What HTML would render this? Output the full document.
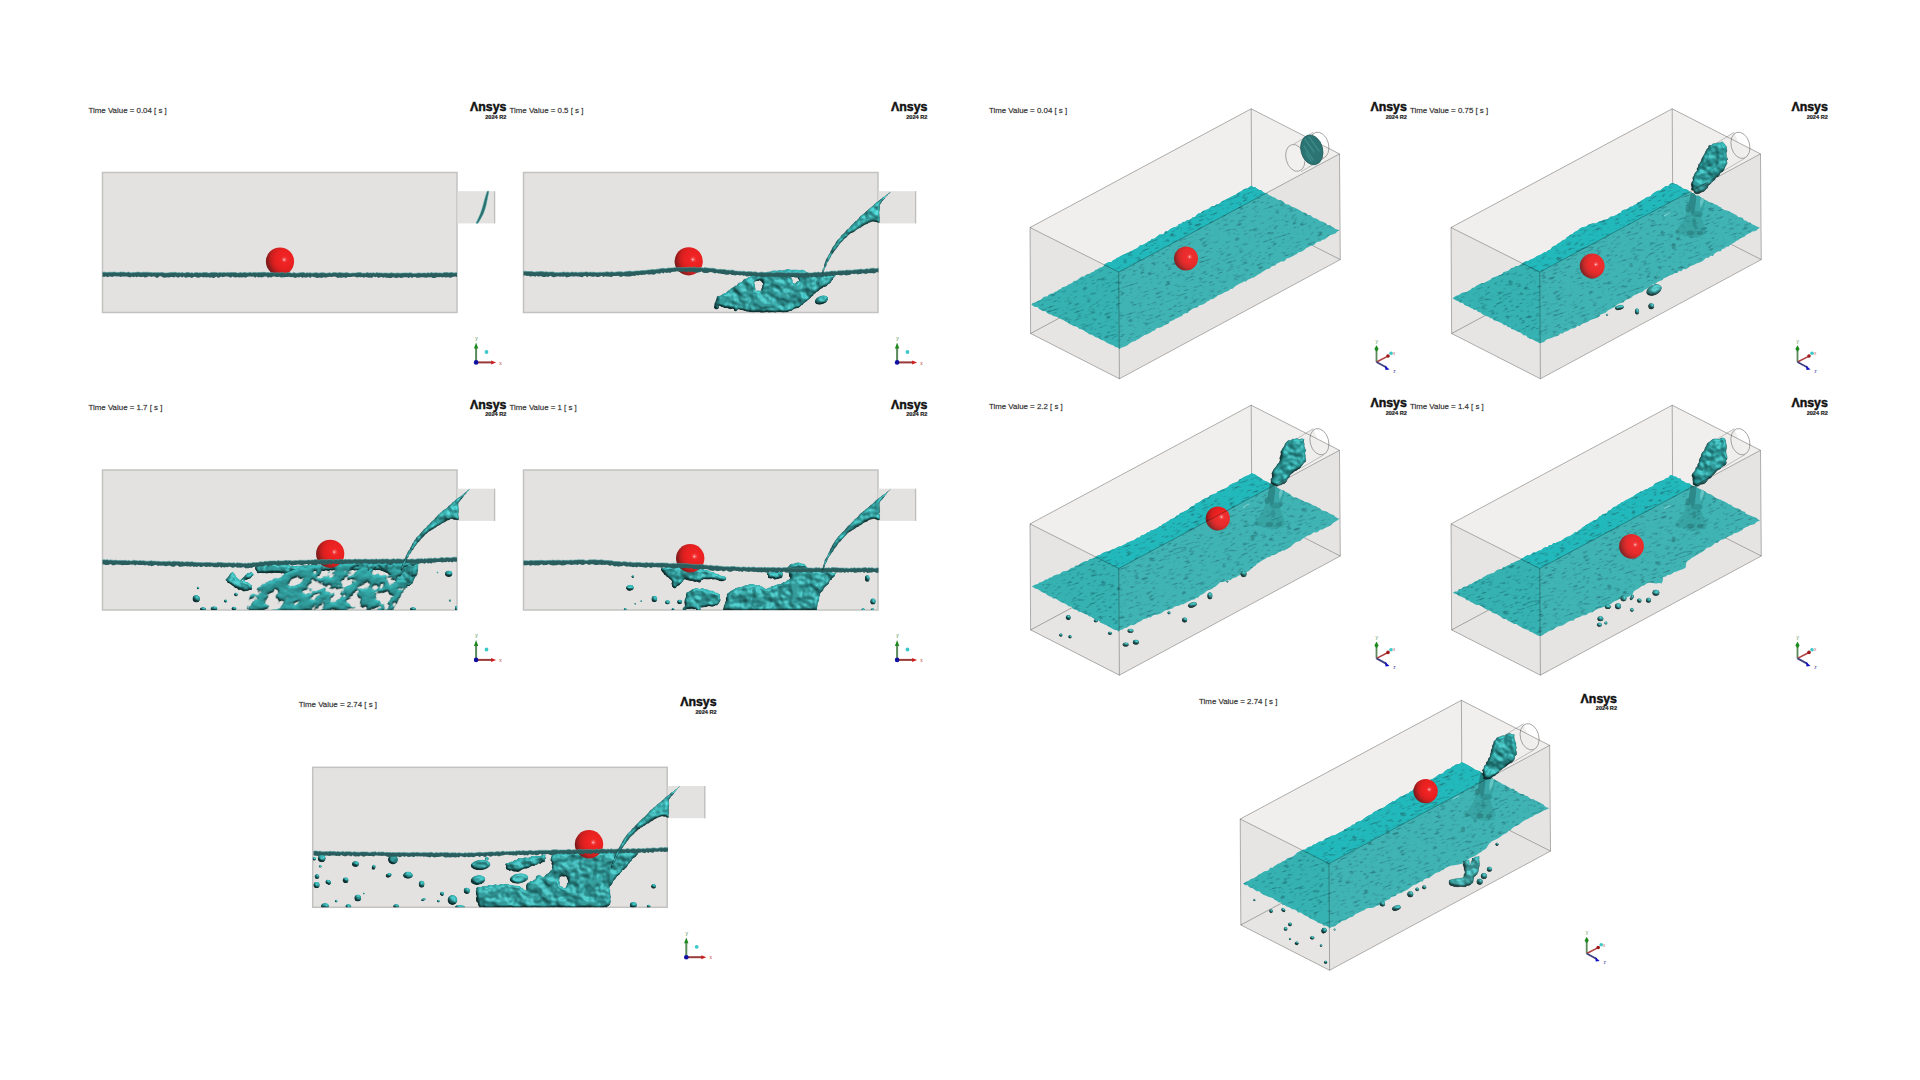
<!DOCTYPE html><html><head><meta charset="utf-8"><title>Ansys VOF</title><style>html,body{margin:0;padding:0;background:#fff;width:1920px;height:1080px;overflow:hidden}svg{display:block}</style></head><body>
<svg width="1920" height="1080" viewBox="0 0 1920 1080">

<defs>
 <radialGradient id="ball" cx="0.78" cy="0.36" r="0.86" fx="0.64" fy="0.44">
  <stop offset="0" stop-color="#ffe4e4"/>
  <stop offset="0.05" stop-color="#f55a5a"/>
  <stop offset="0.13" stop-color="#f02424"/>
  <stop offset="0.42" stop-color="#e82020"/>
  <stop offset="0.62" stop-color="#cc1f1f"/>
  <stop offset="0.82" stop-color="#8e1c1c"/>
  <stop offset="1" stop-color="#5e1818"/>
 </radialGradient>
 <linearGradient id="wline" x1="0" y1="0" x2="0" y2="1">
  <stop offset="0" stop-color="#3f8f8f"/>
  <stop offset="0.35" stop-color="#2b6262"/>
  <stop offset="1" stop-color="#224c4c"/>
 </linearGradient>
 <filter id="wtex" x="0" y="0" width="100%" height="100%" color-interpolation-filters="sRGB">
  <feTurbulence type="fractalNoise" baseFrequency="0.15 0.55" numOctaves="2" seed="7" stitchTiles="stitch" result="n"/>
  <feColorMatrix in="n" type="matrix" values="0 0 0 0 0.12  0 0 0 0 0.48  0 0 0 0 0.5  0 0 0 -4.5 1.9" result="sp0"/>
  <feGaussianBlur in="sp0" stdDeviation="0.4"/>
 </filter>
 <pattern id="wpat" patternUnits="userSpaceOnUse" width="160" height="160" patternTransform="rotate(-18)">
  <rect width="160" height="160" fill="#000" filter="url(#wtex)"/>
 </pattern>
 <filter id="blob" x="-5%" y="-5%" width="110%" height="110%" color-interpolation-filters="sRGB">
  <feTurbulence type="fractalNoise" baseFrequency="0.11" numOctaves="2" seed="2" result="n"/>
  <feGaussianBlur in="SourceAlpha" stdDeviation="1.2" result="b"/>
  <feComposite in="n" in2="b" operator="arithmetic" k1="0" k2="0.6" k3="0.6" k4="0" result="h"/>
  <feDiffuseLighting in="h" surfaceScale="4" diffuseConstant="1" lighting-color="#ffffff" result="l"><feDistantLight azimuth="300" elevation="42"/></feDiffuseLighting>
  <feSpecularLighting in="h" surfaceScale="4" specularConstant="0.25" specularExponent="28" lighting-color="#e8ffff" result="sp"><feDistantLight azimuth="300" elevation="55"/></feSpecularLighting>
  <feComposite in="SourceGraphic" in2="l" operator="arithmetic" k1="0.85" k2="0.3" k3="0" k4="0" result="lit"/>
  <feComposite in="lit" in2="sp" operator="arithmetic" k1="0" k2="1" k3="0.55" k4="0" result="lit2"/>
  <feComposite in="lit2" in2="SourceAlpha" operator="in"/>
 </filter>
 <filter id="foam" x="-5%" y="-10%" width="110%" height="120%" color-interpolation-filters="sRGB">
  <feTurbulence type="fractalNoise" baseFrequency="0.065 0.1" numOctaves="3" seed="5" result="n"/>
  <feColorMatrix in="n" type="matrix" values="0 0 0 0 0  0 0 0 0 0  0 0 0 0 0  0 0 0 16 -6.4" result="m"/>
  <feComposite in="SourceGraphic" in2="m" operator="in" result="cut"/>
  <feGaussianBlur in="cut" stdDeviation="1.0" result="b"/>
  <feComposite in="n" in2="b" operator="arithmetic" k1="0" k2="0.45" k3="0.65" k4="0" result="h"/>
  <feDiffuseLighting in="h" surfaceScale="3.4" diffuseConstant="1" lighting-color="#ffffff" result="l"><feDistantLight azimuth="300" elevation="45"/></feDiffuseLighting>
  <feComposite in="cut" in2="l" operator="arithmetic" k1="0.8" k2="0.34" k3="0" k4="0" result="lit"/>
  <feComposite in="lit" in2="cut" operator="in"/>
 </filter>
 <filter id="tblur" x="-5%" y="-20%" width="110%" height="140%"><feGaussianBlur stdDeviation="0.8"/></filter>
</defs>

<rect width="1920" height="1080" fill="#fff"/>
<g transform="translate(0,0)"><rect x="102.5" y="172.5" width="354.5" height="140" fill="#e3e2e0" stroke="#c2c2c0" stroke-width="1.5"/><rect x="457.5" y="191.2" width="37.4" height="32.2" fill="#e3e2e0"/><line x1="494.6" y1="191.2" x2="494.6" y2="223.4" stroke="#bdbdbb" stroke-width="1.3"/></g>
<g transform="translate(0,0)"><g><text x="88.5" y="112.7" style="font-family:'Liberation Sans',sans-serif;font-size:7.9px" fill="#303030" stroke="#303030" stroke-width="0.28" stroke-opacity="0.6">Time Value = 0.04 [ s ]</text><text x="470.0" y="111.10000000000001" style="font-family:'Liberation Sans',sans-serif;font-size:12.3px;font-weight:bold" fill="#111" stroke="#111" stroke-width="0.45" textLength="36.4" lengthAdjust="spacingAndGlyphs">&#923;nsys</text><text x="506.4" y="118.9" text-anchor="end" style="font-family:'Liberation Sans',sans-serif;font-size:5.6px;font-weight:bold" fill="#222" stroke="#222" stroke-width="0.2">2024 R2</text></g><line x1="476.1" y1="362.4" x2="476.1" y2="347.4" stroke="#5a8a5a" stroke-width="2"/><path d="M473.90000000000003,348.4 L476.1,342.59999999999997 L478.3,348.4 Z" fill="#1e8a1e"/><line x1="476.1" y1="362.4" x2="492.1" y2="362.4" stroke="#9a3a3a" stroke-width="2"/><path d="M491.1,360.4 L496.1,362.4 L491.1,364.4 Z" fill="#cc2020"/><circle cx="476.1" cy="362.4" r="2.3" fill="#1010a0"/><circle cx="486.5" cy="352.0" r="1.9" fill="#3cc8c8"/><text x="500.5" y="364.59999999999997" text-anchor="middle" style="font-family:'Liberation Sans',sans-serif;font-size:5px" fill="#c04040">x</text><text x="476.5" y="339.79999999999995" text-anchor="middle" style="font-family:'Liberation Sans',sans-serif;font-size:5px" fill="#4a8a4a">y</text></g>
<g transform="translate(421,0)"><rect x="102.5" y="172.5" width="354.5" height="140" fill="#e3e2e0" stroke="#c2c2c0" stroke-width="1.5"/><rect x="457.5" y="191.2" width="37.4" height="32.2" fill="#e3e2e0"/><line x1="494.6" y1="191.2" x2="494.6" y2="223.4" stroke="#bdbdbb" stroke-width="1.3"/></g>
<g transform="translate(421,0)"><g><text x="88.5" y="112.7" style="font-family:'Liberation Sans',sans-serif;font-size:7.9px" fill="#303030" stroke="#303030" stroke-width="0.28" stroke-opacity="0.6">Time Value = 0.5 [ s ]</text><text x="470.0" y="111.10000000000001" style="font-family:'Liberation Sans',sans-serif;font-size:12.3px;font-weight:bold" fill="#111" stroke="#111" stroke-width="0.45" textLength="36.4" lengthAdjust="spacingAndGlyphs">&#923;nsys</text><text x="506.4" y="118.9" text-anchor="end" style="font-family:'Liberation Sans',sans-serif;font-size:5.6px;font-weight:bold" fill="#222" stroke="#222" stroke-width="0.2">2024 R2</text></g><line x1="476.1" y1="362.4" x2="476.1" y2="347.4" stroke="#5a8a5a" stroke-width="2"/><path d="M473.90000000000003,348.4 L476.1,342.59999999999997 L478.3,348.4 Z" fill="#1e8a1e"/><line x1="476.1" y1="362.4" x2="492.1" y2="362.4" stroke="#9a3a3a" stroke-width="2"/><path d="M491.1,360.4 L496.1,362.4 L491.1,364.4 Z" fill="#cc2020"/><circle cx="476.1" cy="362.4" r="2.3" fill="#1010a0"/><circle cx="486.5" cy="352.0" r="1.9" fill="#3cc8c8"/><text x="500.5" y="364.59999999999997" text-anchor="middle" style="font-family:'Liberation Sans',sans-serif;font-size:5px" fill="#c04040">x</text><text x="476.5" y="339.79999999999995" text-anchor="middle" style="font-family:'Liberation Sans',sans-serif;font-size:5px" fill="#4a8a4a">y</text></g>
<g transform="translate(0,297.5)"><rect x="102.5" y="172.5" width="354.5" height="140" fill="#e3e2e0" stroke="#c2c2c0" stroke-width="1.5"/><rect x="457.5" y="191.2" width="37.4" height="32.2" fill="#e3e2e0"/><line x1="494.6" y1="191.2" x2="494.6" y2="223.4" stroke="#bdbdbb" stroke-width="1.3"/></g>
<g transform="translate(0,297.5)"><g><text x="88.5" y="112.7" style="font-family:'Liberation Sans',sans-serif;font-size:7.9px" fill="#303030" stroke="#303030" stroke-width="0.28" stroke-opacity="0.6">Time Value = 1.7 [ s ]</text><text x="470.0" y="111.10000000000001" style="font-family:'Liberation Sans',sans-serif;font-size:12.3px;font-weight:bold" fill="#111" stroke="#111" stroke-width="0.45" textLength="36.4" lengthAdjust="spacingAndGlyphs">&#923;nsys</text><text x="506.4" y="118.9" text-anchor="end" style="font-family:'Liberation Sans',sans-serif;font-size:5.6px;font-weight:bold" fill="#222" stroke="#222" stroke-width="0.2">2024 R2</text></g><line x1="476.1" y1="362.4" x2="476.1" y2="347.4" stroke="#5a8a5a" stroke-width="2"/><path d="M473.90000000000003,348.4 L476.1,342.59999999999997 L478.3,348.4 Z" fill="#1e8a1e"/><line x1="476.1" y1="362.4" x2="492.1" y2="362.4" stroke="#9a3a3a" stroke-width="2"/><path d="M491.1,360.4 L496.1,362.4 L491.1,364.4 Z" fill="#cc2020"/><circle cx="476.1" cy="362.4" r="2.3" fill="#1010a0"/><circle cx="486.5" cy="352.0" r="1.9" fill="#3cc8c8"/><text x="500.5" y="364.59999999999997" text-anchor="middle" style="font-family:'Liberation Sans',sans-serif;font-size:5px" fill="#c04040">x</text><text x="476.5" y="339.79999999999995" text-anchor="middle" style="font-family:'Liberation Sans',sans-serif;font-size:5px" fill="#4a8a4a">y</text></g>
<g transform="translate(421,297.5)"><rect x="102.5" y="172.5" width="354.5" height="140" fill="#e3e2e0" stroke="#c2c2c0" stroke-width="1.5"/><rect x="457.5" y="191.2" width="37.4" height="32.2" fill="#e3e2e0"/><line x1="494.6" y1="191.2" x2="494.6" y2="223.4" stroke="#bdbdbb" stroke-width="1.3"/></g>
<g transform="translate(421,297.5)"><g><text x="88.5" y="112.7" style="font-family:'Liberation Sans',sans-serif;font-size:7.9px" fill="#303030" stroke="#303030" stroke-width="0.28" stroke-opacity="0.6">Time Value = 1 [ s ]</text><text x="470.0" y="111.10000000000001" style="font-family:'Liberation Sans',sans-serif;font-size:12.3px;font-weight:bold" fill="#111" stroke="#111" stroke-width="0.45" textLength="36.4" lengthAdjust="spacingAndGlyphs">&#923;nsys</text><text x="506.4" y="118.9" text-anchor="end" style="font-family:'Liberation Sans',sans-serif;font-size:5.6px;font-weight:bold" fill="#222" stroke="#222" stroke-width="0.2">2024 R2</text></g><line x1="476.1" y1="362.4" x2="476.1" y2="347.4" stroke="#5a8a5a" stroke-width="2"/><path d="M473.90000000000003,348.4 L476.1,342.59999999999997 L478.3,348.4 Z" fill="#1e8a1e"/><line x1="476.1" y1="362.4" x2="492.1" y2="362.4" stroke="#9a3a3a" stroke-width="2"/><path d="M491.1,360.4 L496.1,362.4 L491.1,364.4 Z" fill="#cc2020"/><circle cx="476.1" cy="362.4" r="2.3" fill="#1010a0"/><circle cx="486.5" cy="352.0" r="1.9" fill="#3cc8c8"/><text x="500.5" y="364.59999999999997" text-anchor="middle" style="font-family:'Liberation Sans',sans-serif;font-size:5px" fill="#c04040">x</text><text x="476.5" y="339.79999999999995" text-anchor="middle" style="font-family:'Liberation Sans',sans-serif;font-size:5px" fill="#4a8a4a">y</text></g>
<g transform="translate(210.2,594.8)"><rect x="102.5" y="172.5" width="354.5" height="140" fill="#e3e2e0" stroke="#c2c2c0" stroke-width="1.5"/><rect x="457.5" y="191.2" width="37.4" height="32.2" fill="#e3e2e0"/><line x1="494.6" y1="191.2" x2="494.6" y2="223.4" stroke="#bdbdbb" stroke-width="1.3"/></g>
<g transform="translate(210.2,594.8)"><g><text x="88.5" y="112.7" style="font-family:'Liberation Sans',sans-serif;font-size:7.9px" fill="#303030" stroke="#303030" stroke-width="0.28" stroke-opacity="0.6">Time Value = 2.74 [ s ]</text><text x="470.0" y="111.10000000000001" style="font-family:'Liberation Sans',sans-serif;font-size:12.3px;font-weight:bold" fill="#111" stroke="#111" stroke-width="0.45" textLength="36.4" lengthAdjust="spacingAndGlyphs">&#923;nsys</text><text x="506.4" y="118.9" text-anchor="end" style="font-family:'Liberation Sans',sans-serif;font-size:5.6px;font-weight:bold" fill="#222" stroke="#222" stroke-width="0.2">2024 R2</text></g><line x1="476.1" y1="362.4" x2="476.1" y2="347.4" stroke="#5a8a5a" stroke-width="2"/><path d="M473.90000000000003,348.4 L476.1,342.59999999999997 L478.3,348.4 Z" fill="#1e8a1e"/><line x1="476.1" y1="362.4" x2="492.1" y2="362.4" stroke="#9a3a3a" stroke-width="2"/><path d="M491.1,360.4 L496.1,362.4 L491.1,364.4 Z" fill="#cc2020"/><circle cx="476.1" cy="362.4" r="2.3" fill="#1010a0"/><circle cx="486.5" cy="352.0" r="1.9" fill="#3cc8c8"/><text x="500.5" y="364.59999999999997" text-anchor="middle" style="font-family:'Liberation Sans',sans-serif;font-size:5px" fill="#c04040">x</text><text x="476.5" y="339.79999999999995" text-anchor="middle" style="font-family:'Liberation Sans',sans-serif;font-size:5px" fill="#4a8a4a">y</text></g>
<circle cx="280" cy="261.5" r="14.1" fill="url(#ball)"/>
<path d="M102.5,272.2 L104.1,272.2 L105.8,272.3 L107.4,272.6 L109.0,272.2 L110.7,272.3 L112.3,272.3 L113.9,272.0 L115.5,272.3 L117.2,272.4 L118.8,272.6 L120.4,272.0 L122.1,272.2 L123.7,272.0 L125.3,272.6 L127.0,272.6 L128.6,272.0 L130.2,272.8 L131.8,272.8 L133.5,272.6 L135.1,272.6 L136.7,272.2 L138.4,272.1 L140.0,272.5 L141.6,272.5 L143.2,272.2 L144.9,272.3 L146.5,272.3 L148.1,272.2 L149.7,272.5 L151.4,272.5 L153.0,272.8 L154.6,272.6 L156.2,272.7 L157.8,272.6 L159.5,272.7 L161.1,272.6 L162.7,272.4 L164.3,273.0 L165.9,273.0 L167.6,272.9 L169.2,272.8 L170.8,272.5 L172.4,272.4 L174.1,272.5 L175.7,272.3 L177.3,272.9 L178.9,272.6 L180.5,273.0 L182.2,272.6 L183.8,273.1 L185.4,273.0 L187.0,272.3 L188.6,272.5 L190.3,273.1 L191.9,272.7 L193.5,273.2 L195.1,272.7 L196.8,272.4 L198.4,272.9 L200.0,272.8 L201.6,273.0 L203.2,272.6 L204.9,272.5 L206.5,272.6 L208.1,273.1 L209.7,273.0 L211.4,272.5 L213.0,272.6 L214.6,272.4 L216.2,272.4 L217.8,273.0 L219.5,272.5 L221.1,272.8 L222.7,272.7 L224.3,272.5 L225.9,272.9 L227.6,272.4 L229.2,272.8 L230.8,272.4 L232.4,272.6 L234.1,272.5 L235.7,272.5 L237.3,273.1 L238.9,272.9 L240.5,272.5 L242.2,273.0 L243.8,272.4 L245.4,272.6 L247.0,272.9 L248.6,272.8 L250.3,272.3 L251.9,273.0 L253.5,272.4 L255.1,272.4 L256.8,272.8 L258.4,272.5 L260.0,272.6 L261.6,272.4 L263.2,272.3 L264.9,272.3 L266.5,272.7 L268.1,272.4 L269.7,272.7 L271.4,272.6 L273.0,272.6 L274.6,273.1 L276.2,272.7 L277.8,272.8 L279.5,273.0 L281.1,272.5 L282.7,272.5 L284.3,273.1 L285.9,273.0 L287.6,272.6 L289.2,272.5 L290.8,273.0 L292.4,273.2 L294.1,272.6 L295.7,273.2 L297.3,273.2 L298.9,272.9 L300.5,272.8 L302.2,272.6 L303.8,272.5 L305.4,273.3 L307.0,272.7 L308.6,273.1 L310.3,272.7 L311.9,273.2 L313.5,273.0 L315.1,272.8 L316.8,272.7 L318.4,273.2 L320.0,273.0 L321.6,272.7 L323.2,272.8 L324.9,273.0 L326.5,273.3 L328.1,273.1 L329.7,272.8 L331.4,273.3 L333.0,272.7 L334.6,272.6 L336.2,272.8 L337.8,272.9 L339.5,272.6 L341.1,272.7 L342.7,272.9 L344.3,273.0 L345.9,272.7 L347.6,272.8 L349.2,273.3 L350.8,273.3 L352.4,273.1 L354.1,273.1 L355.7,273.0 L357.3,272.7 L358.9,272.6 L360.5,272.5 L362.2,273.3 L363.8,273.1 L365.4,273.3 L367.0,272.5 L368.6,273.0 L370.3,272.9 L371.9,273.1 L373.5,272.8 L375.1,273.3 L376.8,272.6 L378.4,272.9 L380.0,272.9 L381.6,273.1 L383.2,273.2 L384.8,273.1 L386.4,273.1 L388.0,273.2 L389.6,273.3 L391.2,272.8 L392.8,273.1 L394.4,273.3 L396.0,273.3 L397.6,272.9 L399.2,273.2 L400.8,273.3 L402.4,273.1 L404.0,273.1 L405.6,272.9 L407.2,273.1 L408.8,273.1 L410.4,272.7 L412.0,273.2 L413.6,273.5 L415.2,273.4 L416.8,273.3 L418.4,273.0 L420.0,273.1 L421.6,273.3 L423.2,273.1 L424.8,273.0 L426.4,273.3 L428.0,272.7 L429.7,273.2 L431.3,272.6 L432.9,273.0 L434.5,272.9 L436.1,272.7 L437.7,273.1 L439.3,272.9 L440.9,273.0 L442.5,273.2 L444.1,272.6 L445.7,272.4 L447.3,272.6 L449.0,272.9 L450.6,272.5 L452.2,272.5 L453.8,273.1 L455.4,272.8 L457.0,272.7 L457.0,277.1 L455.4,276.4 L453.8,276.8 L452.2,277.0 L450.6,277.9 L449.0,277.3 L447.3,277.2 L445.7,277.4 L444.1,277.0 L442.5,277.4 L440.9,277.1 L439.3,277.2 L437.7,276.9 L436.1,277.5 L434.5,277.9 L432.9,277.9 L431.3,277.3 L429.7,277.3 L428.0,277.2 L426.4,277.8 L424.8,277.5 L423.2,277.2 L421.6,277.2 L420.0,277.5 L418.4,277.8 L416.8,277.8 L415.2,277.1 L413.6,276.9 L412.0,278.1 L410.4,277.0 L408.8,278.1 L407.2,277.3 L405.6,277.3 L404.0,277.3 L402.4,277.8 L400.8,277.9 L399.2,277.3 L397.6,277.8 L396.0,278.0 L394.4,277.6 L392.8,277.2 L391.2,277.9 L389.6,277.9 L388.0,277.8 L386.4,277.7 L384.8,277.3 L383.2,277.8 L381.6,276.9 L380.0,277.3 L378.4,277.9 L376.8,276.8 L375.1,277.3 L373.5,276.6 L371.9,277.9 L370.3,277.6 L368.6,277.7 L367.0,277.2 L365.4,276.9 L363.8,277.7 L362.2,277.0 L360.5,277.3 L358.9,276.9 L357.3,277.5 L355.7,277.0 L354.1,276.6 L352.4,276.7 L350.8,277.0 L349.2,277.0 L347.6,277.1 L345.9,277.9 L344.3,277.3 L342.7,277.5 L341.1,277.7 L339.5,277.5 L337.8,277.9 L336.2,276.9 L334.6,276.6 L333.0,276.8 L331.4,277.1 L329.7,276.8 L328.1,277.0 L326.5,277.5 L324.9,277.5 L323.2,277.2 L321.6,278.0 L320.0,277.4 L318.4,277.7 L316.8,278.0 L315.1,277.3 L313.5,276.9 L311.9,276.6 L310.3,277.9 L308.7,276.7 L307.0,277.4 L305.4,277.4 L303.8,277.3 L302.2,277.8 L300.5,276.7 L298.9,277.4 L297.3,277.0 L295.7,277.9 L294.1,277.5 L292.4,277.0 L290.8,277.3 L289.2,276.8 L287.6,277.1 L285.9,276.9 L284.3,277.3 L282.7,277.3 L281.1,277.4 L279.5,276.7 L277.8,276.9 L276.2,276.9 L274.6,276.4 L273.0,276.5 L271.3,277.5 L269.7,276.9 L268.1,277.7 L266.5,276.6 L264.9,276.4 L263.2,277.0 L261.6,277.4 L260.0,277.0 L258.4,277.5 L256.8,276.5 L255.1,277.7 L253.5,276.4 L251.9,276.7 L250.3,276.5 L248.6,276.6 L247.0,276.9 L245.4,277.8 L243.8,277.0 L242.2,277.5 L240.5,277.2 L238.9,277.4 L237.3,276.9 L235.7,277.6 L234.1,277.2 L232.4,276.5 L230.8,277.7 L229.2,276.9 L227.6,276.4 L225.9,276.4 L224.3,276.8 L222.7,277.2 L221.1,276.6 L219.5,277.5 L217.8,277.8 L216.2,276.6 L214.6,277.8 L213.0,277.9 L211.4,277.3 L209.7,277.8 L208.1,277.1 L206.5,277.5 L204.9,277.0 L203.2,277.6 L201.6,276.7 L200.0,277.2 L198.4,277.8 L196.8,277.5 L195.1,276.7 L193.5,277.0 L191.9,277.9 L190.3,277.3 L188.6,277.1 L187.0,277.5 L185.4,277.8 L183.8,276.6 L182.2,277.5 L180.5,276.6 L178.9,277.4 L177.3,277.4 L175.7,276.5 L174.1,277.6 L172.4,277.0 L170.8,277.0 L169.2,277.4 L167.6,277.3 L165.9,277.6 L164.3,277.7 L162.7,277.2 L161.1,276.3 L159.5,276.3 L157.8,277.7 L156.2,277.7 L154.6,276.6 L153.0,276.5 L151.4,276.9 L149.7,276.3 L148.1,276.4 L146.5,277.3 L144.9,277.5 L143.2,276.8 L141.6,277.0 L140.0,276.9 L138.4,276.5 L136.7,277.3 L135.1,276.6 L133.5,277.3 L131.8,276.6 L130.2,277.4 L128.6,277.1 L127.0,276.4 L125.3,276.4 L123.7,276.6 L122.1,276.6 L120.4,277.0 L118.8,276.3 L117.2,276.6 L115.5,276.2 L113.9,276.2 L112.3,276.9 L110.7,276.5 L109.0,276.6 L107.4,277.3 L105.8,276.2 L104.1,277.1 L102.5,276.6 Z" fill="#2a5d5d"/><path d="M102.5,272.2 L104.1,272.2 L105.8,272.3 L107.4,272.6 L109.0,272.2 L110.7,272.3 L112.3,272.3 L113.9,272.0 L115.5,272.3 L117.2,272.4 L118.8,272.6 L120.4,272.0 L122.1,272.2 L123.7,272.0 L125.3,272.6 L127.0,272.6 L128.6,272.0 L130.2,272.8 L131.8,272.8 L133.5,272.6 L135.1,272.6 L136.7,272.2 L138.4,272.1 L140.0,272.5 L141.6,272.5 L143.2,272.2 L144.9,272.3 L146.5,272.3 L148.1,272.2 L149.7,272.5 L151.4,272.5 L153.0,272.8 L154.6,272.6 L156.2,272.7 L157.8,272.6 L159.5,272.7 L161.1,272.6 L162.7,272.4 L164.3,273.0 L165.9,273.0 L167.6,272.9 L169.2,272.8 L170.8,272.5 L172.4,272.4 L174.1,272.5 L175.7,272.3 L177.3,272.9 L178.9,272.6 L180.5,273.0 L182.2,272.6 L183.8,273.1 L185.4,273.0 L187.0,272.3 L188.6,272.5 L190.3,273.1 L191.9,272.7 L193.5,273.2 L195.1,272.7 L196.8,272.4 L198.4,272.9 L200.0,272.8 L201.6,273.0 L203.2,272.6 L204.9,272.5 L206.5,272.6 L208.1,273.1 L209.7,273.0 L211.4,272.5 L213.0,272.6 L214.6,272.4 L216.2,272.4 L217.8,273.0 L219.5,272.5 L221.1,272.8 L222.7,272.7 L224.3,272.5 L225.9,272.9 L227.6,272.4 L229.2,272.8 L230.8,272.4 L232.4,272.6 L234.1,272.5 L235.7,272.5 L237.3,273.1 L238.9,272.9 L240.5,272.5 L242.2,273.0 L243.8,272.4 L245.4,272.6 L247.0,272.9 L248.6,272.8 L250.3,272.3 L251.9,273.0 L253.5,272.4 L255.1,272.4 L256.8,272.8 L258.4,272.5 L260.0,272.6 L261.6,272.4 L263.2,272.3 L264.9,272.3 L266.5,272.7 L268.1,272.4 L269.7,272.7 L271.4,272.6 L273.0,272.6 L274.6,273.1 L276.2,272.7 L277.8,272.8 L279.5,273.0 L281.1,272.5 L282.7,272.5 L284.3,273.1 L285.9,273.0 L287.6,272.6 L289.2,272.5 L290.8,273.0 L292.4,273.2 L294.1,272.6 L295.7,273.2 L297.3,273.2 L298.9,272.9 L300.5,272.8 L302.2,272.6 L303.8,272.5 L305.4,273.3 L307.0,272.7 L308.6,273.1 L310.3,272.7 L311.9,273.2 L313.5,273.0 L315.1,272.8 L316.8,272.7 L318.4,273.2 L320.0,273.0 L321.6,272.7 L323.2,272.8 L324.9,273.0 L326.5,273.3 L328.1,273.1 L329.7,272.8 L331.4,273.3 L333.0,272.7 L334.6,272.6 L336.2,272.8 L337.8,272.9 L339.5,272.6 L341.1,272.7 L342.7,272.9 L344.3,273.0 L345.9,272.7 L347.6,272.8 L349.2,273.3 L350.8,273.3 L352.4,273.1 L354.1,273.1 L355.7,273.0 L357.3,272.7 L358.9,272.6 L360.5,272.5 L362.2,273.3 L363.8,273.1 L365.4,273.3 L367.0,272.5 L368.6,273.0 L370.3,272.9 L371.9,273.1 L373.5,272.8 L375.1,273.3 L376.8,272.6 L378.4,272.9 L380.0,272.9 L381.6,273.1 L383.2,273.2 L384.8,273.1 L386.4,273.1 L388.0,273.2 L389.6,273.3 L391.2,272.8 L392.8,273.1 L394.4,273.3 L396.0,273.3 L397.6,272.9 L399.2,273.2 L400.8,273.3 L402.4,273.1 L404.0,273.1 L405.6,272.9 L407.2,273.1 L408.8,273.1 L410.4,272.7 L412.0,273.2 L413.6,273.5 L415.2,273.4 L416.8,273.3 L418.4,273.0 L420.0,273.1 L421.6,273.3 L423.2,273.1 L424.8,273.0 L426.4,273.3 L428.0,272.7 L429.7,273.2 L431.3,272.6 L432.9,273.0 L434.5,272.9 L436.1,272.7 L437.7,273.1 L439.3,272.9 L440.9,273.0 L442.5,273.2 L444.1,272.6 L445.7,272.4 L447.3,272.6 L449.0,272.9 L450.6,272.5 L452.2,272.5 L453.8,273.1 L455.4,272.8 L457.0,272.7" fill="none" stroke="#4a9c9c" stroke-width="0.9" stroke-opacity="0.7"/>
<path d="M487.2,191.3 Q484.6,199 483,205.5 Q481,213.5 476,223.3 L477.9,223.3 Q484.3,214 486,205.5 Q487.6,198 488.9,191.3 Z" fill="#2c6e6e" stroke="#4fb0b0" stroke-width="0.5"/>
<clipPath id="bc2"><rect x="523.5" y="172.5" width="354.5" height="140"/></clipPath>
<g filter="url(#blob)" clip-path="url(#bc2)"><path d="M714.3,305.0 L714.4,303.3 L715.2,301.8 L715.7,300.2 L716.4,298.7 L716.5,297.0 L717.9,295.8 L719.8,295.8 L721.2,294.9 L722.7,294.0 L724.2,293.0 L726.0,292.8 L727.1,291.6 L728.3,290.5 L729.7,289.6 L730.8,288.5 L732.1,287.5 L733.9,287.1 L734.7,285.5 L736.6,285.4 L737.6,284.0 L738.9,282.6 L741.0,282.2 L742.6,281.1 L743.6,279.2 L745.4,278.5 L747.1,278.3 L748.2,276.7 L750.0,276.7 L751.2,275.4 L752.7,274.7 L754.4,274.5 L756.2,274.2 L757.9,273.9 L759.6,273.2 L761.5,273.5 L763.3,273.6 L765.0,273.0 L766.3,271.9 L767.9,271.5 L769.6,271.6 L771.1,271.2 L772.6,270.5 L774.3,270.3 L776.1,270.4 L777.8,270.5 L779.5,269.7 L781.3,270.2 L783.1,270.3 L784.8,269.8 L786.5,269.3 L788.2,269.0 L790.0,269.3 L791.7,269.7 L793.4,269.5 L795.1,269.4 L796.8,269.6 L798.6,269.8 L800.3,269.9 L802.0,269.4 L803.7,269.8 L805.2,270.7 L806.6,271.9 L808.3,272.5 L810.0,273.0 L811.9,274.0 L814.1,274.3 L815.8,274.2 L817.5,274.1 L819.2,274.5 L820.9,274.5 L822.6,274.4 L824.3,274.4 L825.9,275.4 L827.7,274.5 L829.3,274.7 L831.0,275.1 L832.7,275.3 L834.4,275.1 L836.1,275.3 L835.0,276.7 L833.6,277.8 L833.0,279.6 L831.7,280.9 L831.0,282.6 L829.6,283.7 L828.1,284.5 L827.0,285.9 L825.5,286.8 L823.6,287.0 L822.3,288.2 L820.9,289.1 L819.5,290.1 L818.3,291.4 L816.7,292.0 L815.6,293.4 L813.9,294.1 L813.2,296.0 L811.5,296.7 L810.4,298.3 L808.9,299.5 L807.4,300.7 L806.0,302.0 L804.2,302.9 L803.1,304.6 L801.4,305.6 L800.0,307.0 L798.3,307.9 L796.4,308.4 L794.6,308.8 L793.0,310.0 L791.5,310.9 L789.9,311.3 L788.3,311.8 L786.8,312.5 L785.0,312.5 L783.4,312.8 L781.8,312.4 L780.2,312.0 L778.6,312.3 L776.9,312.2 L775.3,312.9 L773.7,312.4 L772.1,312.6 L770.5,312.4 L768.9,313.0 L767.3,312.1 L765.7,312.6 L764.1,312.8 L762.5,312.9 L760.8,313.1 L759.2,312.1 L757.6,312.4 L756.0,312.1 L754.4,312.5 L752.4,312.6 L750.6,312.3 L748.7,311.8 L746.8,311.8 L745.0,311.0 L743.0,310.4 L741.0,309.9 L738.9,309.6 L737.3,309.7 L735.7,308.8 L734.0,309.1 L732.4,308.7 L730.7,309.2 L729.1,309.1 L727.5,308.3 L725.9,308.3 L724.2,308.1 L722.6,307.2 L721.0,306.7 L719.4,305.8 L717.5,306.2 L715.9,305.5 Z M754.4,282.0 L756.2,281.3 L758.2,281.1 L760.0,280.5 L761.6,282.1 L763.0,284.0 L762.1,285.5 L762.1,287.3 L761.2,288.8 L761.0,290.5 L759.2,290.6 L757.3,290.3 L755.5,291.0 L755.8,289.1 L755.3,287.4 L755.1,285.6 L754.6,283.8 Z M791.0,277.5 L793.0,276.9 L795.1,277.4 L797.0,276.5 L797.7,278.0 L798.5,279.4 L799.0,281.0 L797.1,281.3 L795.7,282.7 L794.0,283.5 L792.7,282.3 L792.8,280.3 L792.1,278.8 Z " fill="#34a8a8" fill-rule="evenodd"/><ellipse cx="821.5" cy="300" rx="7" ry="4.3" transform="rotate(-20 821.5 300)" fill="#34a8a8"/><ellipse cx="716.5" cy="307" rx="2.6" ry="2.4" transform="rotate(0 716.5 307)" fill="#34a8a8"/><ellipse cx="735.6" cy="308" rx="2" ry="3.6" transform="rotate(0 735.6 308)" fill="#34a8a8"/><ellipse cx="839" cy="272.5" rx="2.2" ry="1.5" transform="rotate(0 839 272.5)" fill="#34a8a8"/></g>
<circle cx="688.7" cy="261.3" r="14.1" fill="url(#ball)"/>
<path d="M523.5,271.4 L525.2,271.2 L526.8,271.6 L528.5,271.6 L530.1,271.6 L531.8,271.4 L533.4,271.9 L535.1,272.0 L536.8,271.8 L538.4,271.8 L540.1,271.6 L541.8,271.5 L543.4,271.8 L545.1,272.1 L546.7,271.7 L548.4,272.3 L550.1,271.9 L551.7,272.0 L553.4,271.9 L555.0,272.7 L556.7,272.5 L558.3,272.7 L560.0,272.4 L561.6,272.5 L563.2,272.0 L564.8,272.2 L566.4,272.4 L568.0,272.1 L569.6,272.7 L571.2,272.2 L572.8,272.1 L574.4,272.6 L576.0,272.0 L577.6,272.7 L579.2,272.3 L580.8,272.3 L582.4,272.2 L584.0,272.3 L585.6,272.0 L587.2,271.9 L588.8,272.5 L590.4,272.0 L592.0,272.5 L593.6,272.0 L595.2,272.6 L596.8,272.5 L598.4,272.4 L600.0,272.2 L601.7,272.4 L603.3,272.2 L605.0,272.3 L606.7,271.8 L608.3,272.0 L610.0,272.3 L611.7,271.8 L613.3,272.3 L615.0,272.3 L616.7,271.9 L618.3,271.8 L620.0,271.8 L621.7,271.8 L623.3,272.2 L625.0,271.8 L626.7,271.6 L628.3,271.2 L630.0,271.1 L631.7,271.5 L633.4,271.6 L635.0,271.1 L636.7,271.0 L638.3,270.9 L640.0,270.9 L641.7,270.4 L643.3,270.6 L645.0,270.4 L646.7,270.3 L648.3,269.9 L650.0,270.0 L651.6,269.6 L653.3,269.5 L655.0,269.8 L656.7,269.2 L658.3,269.2 L660.0,268.8 L661.6,268.5 L663.3,268.3 L665.0,268.7 L666.7,268.5 L668.3,268.0 L670.0,268.1 L671.7,267.9 L673.4,267.9 L675.0,267.4 L676.7,267.8 L678.3,267.4 L680.0,267.8 L681.7,267.8 L683.3,267.5 L685.0,267.8 L686.7,267.5 L688.3,267.4 L690.0,267.3 L691.7,267.8 L693.3,267.3 L695.0,267.2 L696.7,267.8 L698.3,267.8 L700.0,267.6 L701.7,267.7 L703.3,268.1 L705.0,267.6 L706.7,267.9 L708.3,268.1 L710.0,268.3 L711.7,268.3 L713.4,268.3 L715.0,268.7 L716.6,269.3 L718.3,269.5 L720.0,269.2 L721.6,269.6 L723.3,269.5 L725.0,269.5 L726.6,270.2 L728.3,270.1 L730.0,270.4 L731.7,270.0 L733.4,270.3 L735.0,271.0 L736.6,271.1 L738.3,271.3 L740.0,271.2 L741.7,271.4 L743.3,271.3 L745.0,271.6 L746.6,271.9 L748.3,271.5 L750.0,271.8 L751.7,271.7 L753.3,272.2 L755.0,271.7 L756.7,272.3 L758.3,272.7 L760.0,272.4 L761.6,272.0 L763.2,272.5 L764.8,272.6 L766.4,272.8 L768.0,272.6 L769.6,272.3 L771.2,272.5 L772.8,273.0 L774.4,272.9 L776.0,272.3 L777.6,272.3 L779.2,272.4 L780.8,272.3 L782.4,272.7 L784.0,272.5 L785.6,273.1 L787.2,272.9 L788.8,272.5 L790.4,272.9 L792.0,272.7 L793.6,272.9 L795.2,272.7 L796.8,272.7 L798.4,272.7 L800.0,273.0 L801.7,272.9 L803.3,273.1 L805.0,272.9 L806.7,272.4 L808.3,272.9 L810.0,273.0 L811.7,272.9 L813.3,272.8 L815.0,272.2 L816.7,272.5 L818.3,272.1 L820.0,272.4 L821.7,272.5 L823.3,271.9 L825.0,272.2 L826.7,271.7 L828.3,271.9 L830.0,271.5 L831.6,271.1 L833.3,271.2 L835.0,271.0 L836.7,271.4 L838.3,270.8 L840.0,270.8 L841.6,270.7 L843.2,270.6 L844.8,270.8 L846.4,270.0 L848.0,270.3 L849.6,270.2 L851.2,270.2 L852.9,270.3 L854.4,269.7 L856.1,269.9 L857.6,269.6 L859.3,269.5 L860.8,269.0 L862.5,269.5 L864.1,269.6 L865.7,269.0 L867.3,268.8 L868.9,269.2 L870.5,268.4 L872.1,268.3 L873.7,268.2 L875.3,268.7 L876.9,268.5 L878.5,268.2 L878.5,272.6 L876.9,272.1 L875.3,273.0 L873.7,273.4 L872.1,273.1 L870.5,273.2 L868.9,273.0 L867.3,273.6 L865.7,274.0 L864.1,273.4 L862.4,273.3 L860.9,273.9 L859.3,274.0 L857.7,274.4 L856.0,273.6 L854.4,274.2 L852.8,273.7 L851.2,274.1 L849.7,275.0 L848.0,275.0 L846.5,275.4 L844.8,275.0 L843.2,274.8 L841.6,275.4 L840.0,275.2 L838.3,275.0 L836.6,275.0 L835.0,275.2 L833.4,276.4 L831.6,275.6 L830.0,276.3 L828.3,275.4 L826.7,277.0 L825.0,275.9 L823.4,276.8 L821.7,277.3 L820.0,276.8 L818.3,276.8 L816.7,277.6 L815.0,276.9 L813.3,276.7 L811.7,277.7 L810.0,276.4 L808.4,277.8 L806.7,277.2 L805.0,277.1 L803.4,277.9 L801.7,277.4 L800.0,277.4 L798.4,278.1 L796.8,277.7 L795.2,277.5 L793.6,276.8 L792.0,276.6 L790.4,276.7 L788.8,276.5 L787.2,277.5 L785.6,277.0 L784.0,276.4 L782.4,277.7 L780.8,276.4 L779.2,277.2 L777.6,276.9 L776.0,276.8 L774.4,277.1 L772.8,276.8 L771.2,276.4 L769.6,276.4 L768.0,276.8 L766.4,276.4 L764.8,277.2 L763.2,277.0 L761.6,276.9 L760.0,276.8 L758.4,276.2 L756.6,277.2 L755.0,275.9 L753.4,275.8 L751.7,276.1 L750.0,276.0 L748.3,276.2 L746.6,276.4 L745.0,275.4 L743.3,275.7 L741.7,275.0 L740.0,275.6 L738.4,274.9 L736.7,274.9 L735.0,275.6 L733.3,275.0 L731.6,275.0 L730.1,273.9 L728.3,274.8 L726.6,274.7 L725.0,274.4 L723.3,274.0 L721.6,274.1 L720.0,273.6 L718.3,273.6 L716.7,272.8 L715.0,273.5 L713.4,272.7 L711.7,272.2 L710.1,272.1 L708.3,272.7 L706.6,273.0 L704.9,273.1 L703.3,272.7 L701.7,271.4 L700.0,272.0 L698.3,272.4 L696.7,272.7 L695.0,272.3 L693.3,272.3 L691.7,271.6 L690.0,272.6 L688.3,271.3 L686.7,272.4 L685.0,271.4 L683.3,271.5 L681.7,272.0 L680.0,271.6 L678.3,271.5 L676.7,271.3 L675.0,271.8 L673.3,271.7 L671.6,272.0 L670.1,273.0 L668.3,272.6 L666.7,272.9 L664.9,272.2 L663.4,273.6 L661.6,272.6 L660.0,273.7 L658.3,273.4 L656.6,273.2 L655.0,274.2 L653.4,274.7 L651.7,274.2 L650.0,274.4 L648.3,274.4 L646.6,273.9 L645.0,274.8 L643.3,274.7 L641.7,274.9 L640.0,274.8 L638.3,275.4 L636.6,275.1 L635.0,275.9 L633.3,275.7 L631.7,276.1 L630.0,276.4 L628.4,276.4 L626.7,276.4 L625.0,276.2 L623.3,276.0 L621.7,276.8 L620.0,276.7 L618.3,275.8 L616.7,275.9 L615.0,275.9 L613.3,275.9 L611.7,276.9 L610.0,276.7 L608.3,276.6 L606.7,276.5 L605.0,276.3 L603.3,276.9 L601.7,275.8 L600.0,276.6 L598.4,276.9 L596.8,277.0 L595.2,276.2 L593.6,276.7 L592.0,276.7 L590.4,276.3 L588.8,275.9 L587.2,277.2 L585.6,276.1 L584.0,275.9 L582.4,277.3 L580.8,277.1 L579.2,276.5 L577.6,276.5 L576.0,276.2 L574.4,276.6 L572.8,276.5 L571.2,276.3 L569.6,276.8 L568.0,277.0 L566.4,277.4 L564.8,276.2 L563.2,276.7 L561.6,276.6 L560.0,276.8 L558.4,276.3 L556.7,276.6 L555.0,277.0 L553.3,277.2 L551.7,276.5 L550.1,275.8 L548.4,276.9 L546.7,276.6 L545.1,276.9 L543.4,277.0 L541.7,276.6 L540.1,276.1 L538.4,276.7 L536.8,275.8 L535.1,276.8 L533.5,276.1 L531.8,276.2 L530.1,276.6 L528.5,275.8 L526.8,276.0 L525.2,275.2 L523.5,275.8 Z" fill="#2a5d5d"/><path d="M523.5,271.4 L525.2,271.2 L526.8,271.6 L528.5,271.6 L530.1,271.6 L531.8,271.4 L533.4,271.9 L535.1,272.0 L536.8,271.8 L538.4,271.8 L540.1,271.6 L541.8,271.5 L543.4,271.8 L545.1,272.1 L546.7,271.7 L548.4,272.3 L550.1,271.9 L551.7,272.0 L553.4,271.9 L555.0,272.7 L556.7,272.5 L558.3,272.7 L560.0,272.4 L561.6,272.5 L563.2,272.0 L564.8,272.2 L566.4,272.4 L568.0,272.1 L569.6,272.7 L571.2,272.2 L572.8,272.1 L574.4,272.6 L576.0,272.0 L577.6,272.7 L579.2,272.3 L580.8,272.3 L582.4,272.2 L584.0,272.3 L585.6,272.0 L587.2,271.9 L588.8,272.5 L590.4,272.0 L592.0,272.5 L593.6,272.0 L595.2,272.6 L596.8,272.5 L598.4,272.4 L600.0,272.2 L601.7,272.4 L603.3,272.2 L605.0,272.3 L606.7,271.8 L608.3,272.0 L610.0,272.3 L611.7,271.8 L613.3,272.3 L615.0,272.3 L616.7,271.9 L618.3,271.8 L620.0,271.8 L621.7,271.8 L623.3,272.2 L625.0,271.8 L626.7,271.6 L628.3,271.2 L630.0,271.1 L631.7,271.5 L633.4,271.6 L635.0,271.1 L636.7,271.0 L638.3,270.9 L640.0,270.9 L641.7,270.4 L643.3,270.6 L645.0,270.4 L646.7,270.3 L648.3,269.9 L650.0,270.0 L651.6,269.6 L653.3,269.5 L655.0,269.8 L656.7,269.2 L658.3,269.2 L660.0,268.8 L661.6,268.5 L663.3,268.3 L665.0,268.7 L666.7,268.5 L668.3,268.0 L670.0,268.1 L671.7,267.9 L673.4,267.9 L675.0,267.4 L676.7,267.8 L678.3,267.4 L680.0,267.8 L681.7,267.8 L683.3,267.5 L685.0,267.8 L686.7,267.5 L688.3,267.4 L690.0,267.3 L691.7,267.8 L693.3,267.3 L695.0,267.2 L696.7,267.8 L698.3,267.8 L700.0,267.6 L701.7,267.7 L703.3,268.1 L705.0,267.6 L706.7,267.9 L708.3,268.1 L710.0,268.3 L711.7,268.3 L713.4,268.3 L715.0,268.7 L716.6,269.3 L718.3,269.5 L720.0,269.2 L721.6,269.6 L723.3,269.5 L725.0,269.5 L726.6,270.2 L728.3,270.1 L730.0,270.4 L731.7,270.0 L733.4,270.3 L735.0,271.0 L736.6,271.1 L738.3,271.3 L740.0,271.2 L741.7,271.4 L743.3,271.3 L745.0,271.6 L746.6,271.9 L748.3,271.5 L750.0,271.8 L751.7,271.7 L753.3,272.2 L755.0,271.7 L756.7,272.3 L758.3,272.7 L760.0,272.4 L761.6,272.0 L763.2,272.5 L764.8,272.6 L766.4,272.8 L768.0,272.6 L769.6,272.3 L771.2,272.5 L772.8,273.0 L774.4,272.9 L776.0,272.3 L777.6,272.3 L779.2,272.4 L780.8,272.3 L782.4,272.7 L784.0,272.5 L785.6,273.1 L787.2,272.9 L788.8,272.5 L790.4,272.9 L792.0,272.7 L793.6,272.9 L795.2,272.7 L796.8,272.7 L798.4,272.7 L800.0,273.0 L801.7,272.9 L803.3,273.1 L805.0,272.9 L806.7,272.4 L808.3,272.9 L810.0,273.0 L811.7,272.9 L813.3,272.8 L815.0,272.2 L816.7,272.5 L818.3,272.1 L820.0,272.4 L821.7,272.5 L823.3,271.9 L825.0,272.2 L826.7,271.7 L828.3,271.9 L830.0,271.5 L831.6,271.1 L833.3,271.2 L835.0,271.0 L836.7,271.4 L838.3,270.8 L840.0,270.8 L841.6,270.7 L843.2,270.6 L844.8,270.8 L846.4,270.0 L848.0,270.3 L849.6,270.2 L851.2,270.2 L852.9,270.3 L854.4,269.7 L856.1,269.9 L857.6,269.6 L859.3,269.5 L860.8,269.0 L862.5,269.5 L864.1,269.6 L865.7,269.0 L867.3,268.8 L868.9,269.2 L870.5,268.4 L872.1,268.3 L873.7,268.2 L875.3,268.7 L876.9,268.5 L878.5,268.2" fill="none" stroke="#4a9c9c" stroke-width="0.9" stroke-opacity="0.7"/>
<path d="M890.6,191.7 L889.5,192.8 L888.1,193.4 L887.0,194.5 L885.7,195.6 L884.4,196.7 L882.8,197.3 L881.7,198.7 L880.2,199.6 L878.9,200.7 L877.6,201.8 L876.1,202.8 L874.8,203.9 L873.6,205.2 L872.2,206.2 L871.0,207.5 L869.6,208.4 L868.3,209.5 L867.2,210.8 L865.9,211.8 L864.6,212.9 L863.5,214.1 L862.0,215.0 L860.7,216.0 L859.6,217.1 L858.7,218.5 L857.6,219.6 L856.6,220.9 L855.0,221.5 L854.0,222.8 L853.0,224.0 L851.8,225.1 L850.7,226.3 L849.6,227.6 L848.5,228.9 L846.9,229.6 L846.0,231.0 L845.1,232.3 L843.8,233.4 L842.6,234.4 L841.2,235.5 L840.6,237.2 L839.3,238.4 L837.9,239.5 L837.0,241.0 L836.0,242.2 L835.4,243.7 L834.6,244.9 L833.5,246.1 L832.3,247.9 L831.5,250.0 L830.6,251.3 L830.2,252.9 L829.1,254.0 L828.5,255.5 L827.7,257.0 L826.7,258.4 L826.0,259.9 L825.5,261.5 L824.9,263.1 L824.3,264.6 L824.2,266.4 L823.7,268.0 L822.6,269.4 L822.6,271.2 L821.8,272.7 L823.1,272.7 L823.6,271.2 L824.3,269.8 L824.6,268.2 L825.7,266.9 L826.4,265.5 L826.6,263.9 L827.3,262.5 L828.4,261.1 L829.2,259.6 L830.1,258.1 L830.8,256.5 L831.5,254.8 L832.8,253.5 L833.6,251.9 L834.8,250.5 L836.2,248.8 L837.5,247.0 L838.5,245.8 L839.3,244.4 L840.3,243.1 L841.5,242.1 L842.6,240.9 L843.6,239.8 L844.5,238.5 L845.9,237.8 L847.0,236.8 L847.9,235.6 L849.0,234.5 L850.2,233.5 L851.5,232.7 L853.1,232.3 L854.4,231.5 L855.6,230.6 L856.8,229.6 L858.0,228.7 L859.4,228.0 L860.8,227.4 L862.0,226.5 L863.5,225.4 L865.1,224.4 L867.0,223.9 L868.5,222.8 L870.0,222.3 L871.5,221.8 L873.0,221.3 L874.6,221.7 L876.3,221.9 L877.8,222.4 L879.5,222.6 L879.4,221.0 L879.7,219.4 L879.8,217.8 L879.4,216.2 L879.4,214.6 L879.2,213.0 L879.3,211.4 L879.8,209.8 L879.7,208.2 L879.8,206.6 L879.5,205.0 L880.8,203.8 L881.5,202.0 L882.6,200.7 L883.9,199.4 L885.0,198.0 L885.9,196.5 L887.4,195.6 L888.1,194.0 L889.7,193.2 Z" fill="#3ab6b6" stroke="#2a8a8a" stroke-width="0.55" filter="url(#blob)"/>
<clipPath id="bc5"><rect x="102.5" y="470.0" width="354.5" height="140"/></clipPath>
<g filter="url(#blob)" clip-path="url(#bc5)"><path d="M225.0,580.0 L226.4,578.6 L227.8,577.1 L229.0,575.5 L229.8,573.8 L231.2,572.7 L232.5,571.5 L234.1,573.1 L235.5,575.0 L236.2,576.9 L237.9,578.0 L239.0,579.5 L240.8,579.5 L242.3,580.7 L244.3,580.5 L245.7,581.8 L247.5,582.0 L249.1,583.1 L250.6,584.4 L252.5,585.0 L251.7,586.6 L252.4,588.4 L251.5,590.0 L249.8,589.9 L248.3,590.8 L246.6,590.9 L245.0,591.5 L243.3,591.5 L241.8,590.5 L240.3,589.8 L238.5,590.0 L237.1,588.5 L234.9,588.1 L233.5,586.5 L232.1,585.4 L230.7,584.5 L229.3,583.4 L227.5,583.0 L226.7,581.1 Z " fill="#34a8a8" fill-rule="evenodd"/><path d="M241.0,580.0 L241.6,578.4 L242.9,577.4 L244.2,576.4 L245.0,575.0 L246.4,574.0 L247.7,572.8 L249.7,572.7 L251.0,571.5 L252.9,572.9 L254.0,575.0 L252.6,575.9 L251.6,577.3 L250.5,578.5 L248.7,578.9 L247.1,579.8 L245.4,580.3 L244.0,581.5 L242.7,580.3 Z " fill="#34a8a8" fill-rule="evenodd"/><path d="M255.0,567.5 L255.9,565.4 L257.5,563.8 L259.2,564.2 L260.9,564.1 L262.5,563.5 L264.1,562.9 L265.8,562.6 L267.5,563.1 L269.3,563.2 L271.1,562.9 L272.8,563.6 L274.6,563.3 L276.4,563.1 L278.2,563.3 L280.0,563.5 L281.7,563.4 L283.3,564.0 L285.0,564.4 L286.7,564.4 L288.4,564.3 L290.0,565.0 L290.7,566.9 L291.9,568.4 L293.0,570.0 L291.6,571.1 L290.3,572.3 L289.5,574.0 L288.0,575.0 L286.5,574.2 L284.7,574.7 L283.3,573.3 L281.5,573.7 L280.0,573.0 L278.2,572.9 L276.4,573.1 L274.6,572.8 L272.9,573.2 L271.1,573.4 L269.3,573.0 L267.5,573.5 L265.8,573.5 L264.2,573.0 L262.5,573.2 L260.8,573.1 L259.2,573.2 L257.5,573.5 L256.9,572.0 L255.9,570.6 L255.1,569.2 Z " fill="#34a8a8" fill-rule="evenodd"/><path d="M255.0,567.5 L256.6,567.0 L258.2,566.9 L259.8,567.6 L261.4,566.8 L263.1,567.5 L264.7,567.5 L266.3,567.4 L267.9,567.1 L269.5,567.4 L271.1,566.4 L272.7,566.9 L274.3,566.9 L275.9,566.0 L277.5,567.0 L279.1,566.1 L280.7,566.3 L282.3,566.8 L283.9,565.8 L285.6,566.5 L287.1,566.1 L288.7,565.5 L290.4,566.3 L291.9,565.5 L293.6,565.7 L295.2,566.1 L296.8,565.4 L298.4,565.5 L300.0,565.5 L301.6,565.8 L303.2,565.0 L304.8,565.2 L306.4,565.2 L308.0,564.4 L309.6,564.9 L311.2,564.7 L312.8,564.5 L314.4,565.1 L316.0,564.8 L317.6,564.9 L319.2,564.2 L320.8,564.4 L322.4,564.1 L324.0,563.8 L325.6,563.5 L327.2,563.8 L328.8,563.4 L330.4,564.2 L332.0,563.3 L333.6,562.9 L335.2,563.5 L336.8,563.1 L338.4,563.2 L340.0,563.0 L341.6,562.5 L343.2,563.3 L344.8,563.2 L346.4,563.5 L348.0,563.1 L349.6,563.2 L351.2,562.6 L352.9,562.6 L354.5,562.4 L356.1,563.2 L357.7,562.5 L359.3,562.8 L360.9,563.1 L362.5,562.3 L364.1,562.4 L365.7,562.5 L367.3,563.0 L368.9,562.4 L370.5,562.5 L372.1,563.2 L373.8,563.1 L375.4,563.0 L377.0,563.3 L378.6,563.3 L380.2,562.6 L381.8,562.8 L383.4,562.5 L385.0,563.0 L386.6,562.8 L388.2,563.2 L389.8,563.0 L391.4,562.8 L393.0,563.2 L394.6,562.1 L396.2,562.2 L397.9,562.7 L399.5,563.1 L401.1,562.3 L402.7,563.1 L404.3,562.4 L405.9,562.9 L407.5,562.6 L409.1,562.4 L410.7,562.4 L412.3,562.3 L413.9,562.3 L415.5,562.9 L417.1,562.7 L418.8,562.5 L417.8,564.3 L418.3,566.4 L417.3,568.1 L417.0,570.0 L415.4,570.6 L413.8,570.0 L412.2,569.7 L410.6,570.1 L409.0,570.3 L407.4,570.2 L405.8,569.8 L404.2,569.6 L402.6,569.7 L401.0,569.9 L399.4,570.1 L397.8,570.4 L396.2,570.3 L394.6,570.1 L393.0,570.0 L391.4,570.6 L389.8,570.1 L388.1,570.1 L386.6,570.8 L384.9,570.0 L383.3,569.7 L381.7,570.4 L380.1,570.3 L378.5,570.2 L376.9,570.0 L375.3,570.5 L373.7,570.1 L372.1,569.8 L370.5,569.8 L368.9,570.9 L367.3,570.9 L365.7,570.0 L364.1,570.8 L362.5,570.3 L360.9,570.6 L359.3,570.7 L357.7,570.5 L356.1,570.5 L354.5,570.7 L352.9,570.1 L351.3,570.4 L349.7,570.6 L348.1,570.0 L346.5,570.1 L344.9,570.6 L343.3,570.4 L341.7,570.7 L340.1,570.1 L338.5,570.5 L336.9,570.6 L335.3,570.1 L333.7,570.3 L332.1,570.7 L330.4,570.3 L328.9,571.3 L327.2,570.7 L325.6,570.6 L324.0,571.2 L322.4,571.0 L320.8,570.8 L319.2,571.2 L317.6,571.2 L316.0,570.9 L314.4,571.2 L312.8,571.0 L311.2,571.2 L309.6,570.6 L308.0,570.8 L306.4,571.2 L304.8,571.0 L303.2,571.6 L301.6,570.7 L300.0,571.0 L298.4,571.3 L296.7,571.6 L295.0,571.0 L293.4,571.0 L291.7,571.4 L290.1,571.2 L288.4,571.1 L286.8,572.0 L285.1,572.0 L283.5,571.4 L281.8,572.0 L280.1,571.6 L278.5,571.8 L276.9,572.1 L275.2,572.3 L273.6,572.3 L271.9,571.9 L270.2,572.1 L268.6,572.8 L267.0,573.1 L265.3,573.0 L263.7,573.3 L262.0,573.0 L260.5,572.1 L259.3,570.7 L257.9,569.6 L256.6,568.4 Z " fill="#34a8a8" fill-rule="evenodd"/><path d="M372.0,563.0 L373.6,562.9 L375.2,563.4 L376.8,563.1 L378.4,562.9 L380.1,562.7 L381.7,563.3 L383.3,562.7 L384.9,563.3 L386.5,563.3 L388.1,563.2 L389.7,562.3 L391.3,562.5 L393.0,562.6 L394.6,563.0 L396.2,563.3 L397.8,562.3 L399.4,562.7 L401.0,563.0 L402.6,562.1 L404.2,563.2 L405.9,563.0 L407.5,563.1 L409.1,562.4 L410.7,562.0 L412.3,562.4 L413.9,563.1 L415.5,562.5 L417.1,563.0 L418.8,562.5 L418.5,564.3 L418.3,566.1 L418.1,567.9 L418.1,569.7 L417.8,571.5 L417.5,573.2 L417.0,575.0 L415.8,576.2 L415.2,577.8 L414.3,579.1 L413.7,580.7 L413.2,582.3 L412.5,583.8 L410.9,584.8 L409.3,585.9 L407.4,586.2 L405.9,587.5 L404.0,588.0 L402.6,587.1 L400.8,587.0 L399.4,585.9 L398.0,585.0 L396.7,583.7 L396.1,582.0 L394.9,580.6 L394.0,579.0 L393.1,577.4 L392.0,576.0 L390.4,575.4 L388.8,574.9 L387.6,573.6 L386.1,572.8 L384.5,572.2 L383.1,571.4 L381.4,571.0 L380.0,570.0 L378.7,568.8 L377.0,568.0 L375.7,566.8 L374.6,565.4 L373.5,563.9 Z " fill="#34a8a8" fill-rule="evenodd"/><circle cx="198" cy="588" r="1.4" fill="#34a8a8"/><circle cx="196.25" cy="598.75" r="3.8" fill="#34a8a8"/><circle cx="225.6" cy="601" r="1.8" fill="#34a8a8"/><circle cx="236" cy="594.5" r="2" fill="#34a8a8"/><ellipse cx="448.75" cy="573.75" rx="3.8" ry="3.2" transform="rotate(0 448.75 573.75)" fill="#34a8a8"/><circle cx="437.5" cy="572.5" r="1" fill="#34a8a8"/><circle cx="450" cy="600.5" r="1.2" fill="#34a8a8"/><ellipse cx="203" cy="609" rx="3" ry="2" transform="rotate(0 203 609)" fill="#34a8a8"/><ellipse cx="214" cy="608.5" rx="3.5" ry="2.2" transform="rotate(0 214 608.5)" fill="#34a8a8"/><ellipse cx="234" cy="608.5" rx="2.6" ry="2" transform="rotate(0 234 608.5)" fill="#34a8a8"/><ellipse cx="252" cy="608" rx="3" ry="2.4" transform="rotate(0 252 608)" fill="#34a8a8"/><ellipse cx="413" cy="609" rx="3" ry="2" transform="rotate(0 413 609)" fill="#34a8a8"/><ellipse cx="456" cy="608.5" rx="1.2" ry="3" transform="rotate(0 456 608.5)" fill="#34a8a8"/><ellipse cx="236.5" cy="581.5" rx="1.6" ry="1.6" transform="rotate(0 236.5 581.5)" fill="#34a8a8"/></g>
<g clip-path="url(#bc5)"><g transform="rotate(-22 300 590)" filter="url(#foam)"><g transform="rotate(22 300 590)"><path d="M250.0,596.0 L251.2,594.2 L253.1,593.1 L254.1,591.1 L256.5,590.5 L257.2,588.2 L259.0,587.0 L260.8,585.8 L262.0,584.0 L264.3,583.7 L266.1,582.3 L268.1,581.6 L270.0,580.5 L272.2,580.1 L273.8,578.3 L276.1,578.0 L278.1,577.0 L280.0,576.0 L281.8,575.0 L283.6,574.1 L285.1,572.6 L287.3,572.5 L289.0,571.4 L291.0,570.7 L292.7,569.6 L294.8,569.3 L296.5,568.1 L298.3,567.1 L300.0,566.0 L302.0,565.5 L304.0,565.7 L306.0,566.4 L308.0,565.4 L310.0,565.0 L312.0,565.2 L314.0,564.7 L316.0,565.7 L318.0,565.4 L320.0,564.6 L322.0,565.6 L324.0,564.7 L326.0,564.4 L328.0,565.2 L330.0,564.0 L332.0,564.0 L334.0,564.2 L336.0,564.8 L338.0,563.9 L340.0,564.1 L342.0,563.4 L344.0,563.4 L346.0,563.5 L348.0,563.9 L350.0,564.0 L352.0,563.8 L354.0,562.7 L356.0,563.1 L358.0,562.6 L360.0,563.0 L362.0,563.4 L364.0,562.7 L366.0,563.8 L368.0,563.5 L370.0,563.6 L372.0,562.8 L374.0,563.7 L376.0,563.4 L378.0,562.4 L380.0,563.7 L382.0,562.4 L384.0,563.8 L386.0,562.7 L388.0,562.6 L390.0,563.1 L392.0,562.3 L394.0,563.4 L396.0,563.4 L398.0,562.3 L400.0,563.4 L402.0,563.0 L404.0,563.0 L406.0,563.1 L408.0,563.4 L410.0,563.8 L412.0,563.2 L414.0,562.6 L416.0,563.4 L418.0,563.0 L418.0,565.1 L417.8,567.3 L417.8,569.4 L417.2,571.6 L417.7,573.7 L416.6,575.8 L417.0,578.0 L415.5,579.6 L413.6,580.8 L412.3,582.7 L410.7,584.2 L408.7,585.3 L407.4,587.2 L405.6,588.5 L404.0,590.0 L403.5,592.0 L401.8,593.4 L401.1,595.3 L400.5,597.3 L399.0,598.8 L398.4,600.7 L397.6,602.6 L396.4,604.2 L395.4,606.0 L394.3,607.6 L393.6,609.6 L392.0,611.0 L390.0,610.3 L388.0,610.5 L386.0,610.7 L384.0,610.5 L382.0,611.1 L380.0,611.7 L378.0,611.8 L376.0,611.2 L374.0,610.3 L372.0,611.0 L370.0,610.6 L368.0,610.5 L366.0,611.5 L364.0,610.2 L362.0,610.4 L360.0,611.4 L358.0,611.7 L356.0,610.3 L354.0,610.3 L352.0,611.5 L350.0,611.3 L348.0,611.6 L346.0,611.6 L344.0,610.7 L342.0,611.7 L340.0,610.6 L338.0,611.4 L336.0,610.2 L334.0,610.4 L332.0,610.4 L330.0,611.5 L328.0,611.0 L326.0,611.7 L324.0,611.1 L322.0,611.6 L320.0,610.6 L318.0,610.3 L316.0,611.4 L314.0,610.5 L312.0,610.6 L310.0,610.5 L308.0,610.6 L306.0,611.0 L304.0,611.5 L302.0,611.7 L300.0,611.1 L298.0,611.5 L296.0,611.8 L294.0,611.7 L292.0,610.9 L290.0,611.0 L288.0,611.2 L286.0,610.7 L284.0,611.1 L282.0,611.0 L280.0,610.3 L278.0,610.9 L276.0,610.7 L274.0,610.7 L272.0,611.1 L270.0,610.2 L268.0,611.3 L266.0,611.3 L264.0,611.4 L262.0,611.2 L260.0,610.5 L258.0,611.2 L256.0,611.4 L254.0,610.8 L252.0,611.2 L250.0,610.2 L248.0,611.6 L246.0,611.0 L246.7,608.9 L246.7,606.6 L248.4,604.8 L248.6,602.5 L248.9,600.3 L249.2,598.1 Z" fill="#34a8a8"/></g></g></g>
<circle cx="330.2" cy="553.8" r="14.1" fill="url(#ball)"/>
<path d="M102.5,559.9 L104.1,559.7 L105.8,560.0 L107.4,559.7 L109.0,560.3 L110.7,559.9 L112.3,560.2 L114.0,560.5 L115.6,560.1 L117.2,560.6 L118.9,560.5 L120.5,560.4 L122.2,560.5 L123.8,560.5 L125.4,560.3 L127.1,560.9 L128.7,560.4 L130.3,560.9 L132.0,560.9 L133.6,560.2 L135.3,560.5 L136.9,560.7 L138.5,561.0 L140.2,560.5 L141.8,560.9 L143.5,560.7 L145.1,561.1 L146.7,561.3 L148.4,561.2 L150.0,561.0 L151.6,560.8 L153.2,561.3 L154.9,561.1 L156.5,561.4 L158.1,561.2 L159.7,561.6 L161.3,561.7 L163.0,561.6 L164.6,561.6 L166.2,561.7 L167.8,561.5 L169.5,561.2 L171.1,561.9 L172.7,561.5 L174.3,561.2 L175.9,561.6 L177.6,561.6 L179.2,561.5 L180.8,562.1 L182.4,561.5 L184.0,562.2 L185.7,561.9 L187.3,561.7 L188.9,561.9 L190.5,562.0 L192.2,561.7 L193.8,562.3 L195.4,562.3 L197.0,562.6 L198.6,562.5 L200.3,562.5 L201.9,562.7 L203.5,562.7 L205.1,562.5 L206.8,562.5 L208.4,562.5 L210.0,562.5 L211.6,562.8 L213.2,562.9 L214.8,562.9 L216.4,562.9 L218.0,562.3 L219.6,562.6 L221.2,562.4 L222.8,562.8 L224.4,562.9 L226.0,562.9 L227.6,563.1 L229.2,562.7 L230.8,563.1 L232.4,563.0 L234.0,562.8 L235.6,563.4 L237.2,562.7 L238.8,563.0 L240.4,563.1 L242.0,563.2 L243.6,563.6 L245.2,563.2 L246.8,563.5 L248.4,563.1 L250.0,563.3 L251.7,563.1 L253.3,562.6 L255.0,562.8 L256.7,562.5 L258.4,562.6 L260.0,561.8 L261.7,561.9 L263.4,562.1 L265.0,561.2 L266.7,561.5 L268.3,561.3 L270.0,561.0 L271.6,561.1 L273.2,561.0 L274.8,560.9 L276.5,561.2 L278.1,560.6 L279.7,561.0 L281.3,560.9 L282.9,560.9 L284.5,560.7 L286.1,560.3 L287.7,560.8 L289.4,560.4 L291.0,560.8 L292.6,560.9 L294.2,560.7 L295.8,560.4 L297.4,560.7 L299.0,560.3 L300.6,560.2 L302.3,560.3 L303.9,560.4 L305.5,560.4 L307.1,560.2 L308.7,560.1 L310.3,560.3 L311.9,559.9 L313.6,560.1 L315.2,559.6 L316.8,559.7 L318.4,560.2 L320.0,559.9 L321.6,559.6 L323.2,559.8 L324.8,559.5 L326.4,560.0 L328.0,559.6 L329.6,559.4 L331.2,559.6 L332.8,560.1 L334.4,559.9 L336.0,559.3 L337.6,560.0 L339.2,559.3 L340.8,559.6 L342.4,559.6 L344.0,559.8 L345.6,559.2 L347.2,559.8 L348.8,559.3 L350.4,559.6 L352.0,559.8 L353.6,559.5 L355.2,559.0 L356.8,559.5 L358.4,559.3 L360.0,559.3 L361.6,559.5 L363.2,559.5 L364.9,559.0 L366.5,559.3 L368.1,559.4 L369.7,559.6 L371.4,559.3 L373.0,559.3 L374.6,559.4 L376.2,558.9 L377.8,559.5 L379.5,559.3 L381.1,559.3 L382.7,558.9 L384.3,559.2 L385.9,559.1 L387.6,558.9 L389.2,559.5 L390.8,559.4 L392.4,559.1 L394.1,558.8 L395.7,559.5 L397.3,558.8 L398.9,559.1 L400.5,559.1 L402.2,559.4 L403.8,559.2 L405.4,559.2 L407.0,559.1 L408.7,559.4 L410.3,559.3 L411.9,558.9 L413.5,559.3 L415.1,559.4 L416.8,559.0 L418.4,558.7 L420.0,559.0 L421.6,558.6 L423.2,559.2 L424.8,558.6 L426.4,559.0 L428.0,558.4 L429.6,558.4 L431.2,558.2 L432.9,558.7 L434.5,558.0 L436.1,558.3 L437.7,558.5 L439.3,558.2 L440.9,557.7 L442.5,557.6 L444.1,558.2 L445.7,557.7 L447.3,557.5 L449.0,557.8 L450.6,557.9 L452.2,557.5 L453.8,557.2 L455.4,557.2 L457.0,557.4 L457.0,561.8 L455.4,561.8 L453.8,561.4 L452.2,562.6 L450.5,561.4 L449.0,562.2 L447.3,561.6 L445.7,562.3 L444.1,561.9 L442.5,562.4 L440.9,562.1 L439.3,561.9 L437.7,562.1 L436.1,562.3 L434.5,562.8 L432.9,562.4 L431.3,563.5 L429.7,563.0 L428.1,563.6 L426.4,562.5 L424.8,563.7 L423.2,563.2 L421.6,562.9 L420.0,563.4 L418.4,563.7 L416.8,563.7 L415.1,563.7 L413.5,563.6 L411.9,563.8 L410.3,563.8 L408.6,563.0 L407.0,563.0 L405.4,563.4 L403.8,563.6 L402.2,563.2 L400.5,563.6 L398.9,563.8 L397.3,563.6 L395.7,563.7 L394.1,563.1 L392.4,564.0 L390.8,564.0 L389.2,564.1 L387.6,564.1 L385.9,563.2 L384.3,563.4 L382.7,564.2 L381.1,563.7 L379.5,563.2 L377.8,563.2 L376.2,563.9 L374.6,563.8 L373.0,564.3 L371.3,563.3 L369.7,563.9 L368.1,563.8 L366.5,563.2 L364.9,563.4 L363.2,563.1 L361.6,564.4 L360.0,563.7 L358.4,563.4 L356.8,564.5 L355.2,563.2 L353.6,563.3 L352.0,563.7 L350.4,563.7 L348.8,563.6 L347.2,563.7 L345.6,563.8 L344.0,563.9 L342.4,564.4 L340.8,563.9 L339.2,564.5 L337.6,563.8 L336.0,563.9 L334.4,563.7 L332.8,563.5 L331.2,564.8 L329.6,563.5 L328.0,564.8 L326.4,564.2 L324.8,565.0 L323.2,564.7 L321.6,563.9 L320.0,564.3 L318.4,564.2 L316.8,565.0 L315.2,564.9 L313.6,565.1 L311.9,564.9 L310.3,564.1 L308.7,565.3 L307.1,564.0 L305.5,564.2 L303.9,564.4 L302.3,565.4 L300.7,565.0 L299.0,564.5 L297.4,564.4 L295.8,565.0 L294.2,564.9 L292.6,565.4 L291.0,565.2 L289.3,564.3 L287.7,565.3 L286.1,565.1 L284.5,564.7 L282.9,564.9 L281.3,564.7 L279.7,565.5 L278.1,565.8 L276.4,565.2 L274.8,564.6 L273.2,564.7 L271.6,565.8 L270.0,565.4 L268.4,566.3 L266.6,565.1 L265.0,565.6 L263.4,566.5 L261.7,566.6 L260.0,566.2 L258.3,566.7 L256.7,567.1 L255.0,566.7 L253.3,567.1 L251.7,567.9 L250.0,567.7 L248.4,568.3 L246.8,568.3 L245.2,568.2 L243.6,566.9 L242.0,567.5 L240.4,567.8 L238.8,567.5 L237.2,567.8 L235.6,566.8 L234.0,567.5 L232.4,567.7 L230.8,567.0 L229.2,566.6 L227.6,567.2 L226.0,567.0 L224.4,567.4 L222.8,567.1 L221.2,567.8 L219.6,566.5 L218.0,567.2 L216.4,567.2 L214.8,567.2 L213.2,567.0 L211.6,566.3 L210.0,566.9 L208.4,566.6 L206.8,566.9 L205.1,566.7 L203.5,566.1 L201.9,567.0 L200.3,567.0 L198.7,565.9 L197.0,567.0 L195.4,566.6 L193.8,567.0 L192.2,566.0 L190.5,566.7 L188.9,566.3 L187.3,566.5 L185.7,566.0 L184.1,566.3 L182.4,566.4 L180.8,566.7 L179.2,566.8 L177.6,565.5 L176.0,565.6 L174.3,566.7 L172.7,566.7 L171.1,566.3 L169.5,565.4 L167.8,565.8 L166.2,566.2 L164.6,566.0 L163.0,565.6 L161.4,565.7 L159.7,565.6 L158.1,566.0 L156.5,565.0 L154.9,565.1 L153.2,565.7 L151.6,566.2 L150.0,565.4 L148.4,565.7 L146.7,564.8 L145.1,565.6 L143.5,564.9 L141.8,565.1 L140.2,564.9 L138.5,565.0 L136.9,564.6 L135.2,565.6 L133.6,564.5 L132.0,564.7 L130.4,564.4 L128.7,565.0 L127.1,565.0 L125.4,565.1 L123.8,565.1 L122.1,565.2 L120.5,564.7 L118.9,564.8 L117.2,564.6 L115.6,564.7 L114.0,565.2 L112.3,565.2 L110.7,564.0 L109.0,564.7 L107.4,565.1 L105.8,564.9 L104.1,564.6 L102.5,564.3 Z" fill="#2a5d5d"/><path d="M102.5,559.9 L104.1,559.7 L105.8,560.0 L107.4,559.7 L109.0,560.3 L110.7,559.9 L112.3,560.2 L114.0,560.5 L115.6,560.1 L117.2,560.6 L118.9,560.5 L120.5,560.4 L122.2,560.5 L123.8,560.5 L125.4,560.3 L127.1,560.9 L128.7,560.4 L130.3,560.9 L132.0,560.9 L133.6,560.2 L135.3,560.5 L136.9,560.7 L138.5,561.0 L140.2,560.5 L141.8,560.9 L143.5,560.7 L145.1,561.1 L146.7,561.3 L148.4,561.2 L150.0,561.0 L151.6,560.8 L153.2,561.3 L154.9,561.1 L156.5,561.4 L158.1,561.2 L159.7,561.6 L161.3,561.7 L163.0,561.6 L164.6,561.6 L166.2,561.7 L167.8,561.5 L169.5,561.2 L171.1,561.9 L172.7,561.5 L174.3,561.2 L175.9,561.6 L177.6,561.6 L179.2,561.5 L180.8,562.1 L182.4,561.5 L184.0,562.2 L185.7,561.9 L187.3,561.7 L188.9,561.9 L190.5,562.0 L192.2,561.7 L193.8,562.3 L195.4,562.3 L197.0,562.6 L198.6,562.5 L200.3,562.5 L201.9,562.7 L203.5,562.7 L205.1,562.5 L206.8,562.5 L208.4,562.5 L210.0,562.5 L211.6,562.8 L213.2,562.9 L214.8,562.9 L216.4,562.9 L218.0,562.3 L219.6,562.6 L221.2,562.4 L222.8,562.8 L224.4,562.9 L226.0,562.9 L227.6,563.1 L229.2,562.7 L230.8,563.1 L232.4,563.0 L234.0,562.8 L235.6,563.4 L237.2,562.7 L238.8,563.0 L240.4,563.1 L242.0,563.2 L243.6,563.6 L245.2,563.2 L246.8,563.5 L248.4,563.1 L250.0,563.3 L251.7,563.1 L253.3,562.6 L255.0,562.8 L256.7,562.5 L258.4,562.6 L260.0,561.8 L261.7,561.9 L263.4,562.1 L265.0,561.2 L266.7,561.5 L268.3,561.3 L270.0,561.0 L271.6,561.1 L273.2,561.0 L274.8,560.9 L276.5,561.2 L278.1,560.6 L279.7,561.0 L281.3,560.9 L282.9,560.9 L284.5,560.7 L286.1,560.3 L287.7,560.8 L289.4,560.4 L291.0,560.8 L292.6,560.9 L294.2,560.7 L295.8,560.4 L297.4,560.7 L299.0,560.3 L300.6,560.2 L302.3,560.3 L303.9,560.4 L305.5,560.4 L307.1,560.2 L308.7,560.1 L310.3,560.3 L311.9,559.9 L313.6,560.1 L315.2,559.6 L316.8,559.7 L318.4,560.2 L320.0,559.9 L321.6,559.6 L323.2,559.8 L324.8,559.5 L326.4,560.0 L328.0,559.6 L329.6,559.4 L331.2,559.6 L332.8,560.1 L334.4,559.9 L336.0,559.3 L337.6,560.0 L339.2,559.3 L340.8,559.6 L342.4,559.6 L344.0,559.8 L345.6,559.2 L347.2,559.8 L348.8,559.3 L350.4,559.6 L352.0,559.8 L353.6,559.5 L355.2,559.0 L356.8,559.5 L358.4,559.3 L360.0,559.3 L361.6,559.5 L363.2,559.5 L364.9,559.0 L366.5,559.3 L368.1,559.4 L369.7,559.6 L371.4,559.3 L373.0,559.3 L374.6,559.4 L376.2,558.9 L377.8,559.5 L379.5,559.3 L381.1,559.3 L382.7,558.9 L384.3,559.2 L385.9,559.1 L387.6,558.9 L389.2,559.5 L390.8,559.4 L392.4,559.1 L394.1,558.8 L395.7,559.5 L397.3,558.8 L398.9,559.1 L400.5,559.1 L402.2,559.4 L403.8,559.2 L405.4,559.2 L407.0,559.1 L408.7,559.4 L410.3,559.3 L411.9,558.9 L413.5,559.3 L415.1,559.4 L416.8,559.0 L418.4,558.7 L420.0,559.0 L421.6,558.6 L423.2,559.2 L424.8,558.6 L426.4,559.0 L428.0,558.4 L429.6,558.4 L431.2,558.2 L432.9,558.7 L434.5,558.0 L436.1,558.3 L437.7,558.5 L439.3,558.2 L440.9,557.7 L442.5,557.6 L444.1,558.2 L445.7,557.7 L447.3,557.5 L449.0,557.8 L450.6,557.9 L452.2,557.5 L453.8,557.2 L455.4,557.2 L457.0,557.4" fill="none" stroke="#4a9c9c" stroke-width="0.9" stroke-opacity="0.7"/>
<path d="M469.6,489.2 L468.2,489.9 L467.2,491.0 L466.0,492.0 L464.6,493.0 L463.3,494.1 L462.1,495.3 L460.8,496.4 L459.3,497.2 L457.9,498.2 L456.6,499.3 L455.1,500.3 L454.0,501.7 L452.4,502.5 L451.5,504.1 L450.0,505.0 L448.6,506.0 L447.6,507.4 L446.3,508.4 L445.0,509.5 L443.4,510.1 L442.2,511.3 L441.0,512.5 L439.8,513.6 L438.6,514.6 L437.4,515.7 L436.6,517.1 L435.2,517.9 L434.4,519.4 L433.0,520.3 L432.0,521.5 L430.7,522.5 L429.7,523.9 L428.4,524.9 L427.2,526.1 L426.4,527.5 L425.0,528.5 L423.7,529.5 L422.9,530.9 L421.6,531.9 L420.6,533.3 L419.5,534.7 L418.4,536.0 L416.9,537.0 L416.0,538.5 L415.2,539.8 L414.0,540.9 L413.6,542.5 L412.5,543.6 L411.7,545.6 L410.5,547.5 L410.1,549.0 L409.0,550.3 L408.0,551.5 L407.5,553.0 L406.7,554.5 L405.9,555.9 L405.5,557.6 L404.5,559.0 L404.3,560.7 L403.6,562.3 L402.6,563.7 L402.3,565.4 L401.6,566.9 L401.1,568.5 L400.8,570.2 L402.1,570.2 L402.5,568.7 L403.1,567.2 L404.0,565.9 L404.3,564.3 L405.1,562.9 L405.7,561.5 L406.3,560.0 L407.0,558.4 L408.3,557.2 L408.7,555.3 L409.8,554.0 L411.0,552.7 L411.5,550.8 L413.1,549.7 L413.8,548.0 L415.1,546.2 L416.5,544.5 L417.3,543.1 L418.6,542.1 L419.7,540.9 L420.5,539.6 L421.6,538.4 L422.7,537.3 L423.8,536.3 L424.7,535.1 L425.8,534.0 L427.0,533.2 L428.0,532.0 L429.3,531.2 L430.8,530.6 L431.9,529.6 L433.4,529.0 L434.6,528.1 L435.9,527.3 L437.1,526.3 L438.4,525.6 L439.7,524.9 L441.0,524.0 L442.6,523.1 L444.3,522.3 L445.9,521.3 L447.5,520.3 L449.0,519.9 L450.4,519.1 L452.0,518.8 L453.6,519.4 L455.2,519.7 L456.9,519.7 L458.5,520.1 L458.8,518.5 L458.5,516.9 L458.3,515.3 L458.2,513.7 L458.6,512.1 L458.6,510.5 L458.6,508.9 L458.4,507.3 L458.2,505.7 L458.2,504.1 L458.5,502.5 L459.7,501.2 L460.8,499.8 L462.0,498.5 L463.1,497.0 L464.0,495.5 L465.1,494.3 L466.5,493.2 L467.1,491.5 L468.7,490.7 Z" fill="#3ab6b6" stroke="#2a8a8a" stroke-width="0.55" filter="url(#blob)"/>
<clipPath id="bc6"><rect x="523.5" y="470.0" width="354.5" height="140"/></clipPath>
<g filter="url(#blob)" clip-path="url(#bc6)"><path d="M660.9,567.8 L662.5,567.8 L664.1,567.5 L665.6,566.8 L667.3,566.8 L669.1,566.6 L670.8,566.7 L672.6,566.6 L674.3,567.0 L676.1,566.5 L677.8,566.6 L679.4,566.3 L681.0,567.2 L682.6,567.3 L684.2,566.8 L685.7,567.9 L687.4,567.0 L689.0,567.5 L690.6,567.6 L692.2,567.6 L693.8,568.1 L695.5,568.4 L697.3,568.7 L699.1,568.8 L700.7,569.5 L702.6,568.8 L704.3,569.5 L706.1,569.7 L707.8,570.0 L709.3,570.8 L710.7,571.8 L712.4,572.1 L714.2,572.2 L715.5,573.5 L717.2,573.8 L718.8,574.3 L720.3,575.2 L721.9,575.7 L723.6,575.9 L725.2,576.6 L726.6,577.5 L725.7,580.3 L723.9,581.1 L722.0,581.4 L720.0,581.3 L718.2,580.4 L716.4,579.7 L714.4,579.4 L712.8,579.8 L711.2,579.0 L709.6,579.6 L707.9,579.4 L706.3,579.4 L704.7,579.2 L703.1,579.4 L701.6,580.5 L700.0,581.3 L698.4,582.2 L696.6,581.7 L694.6,581.9 L692.8,581.3 L691.1,581.1 L689.4,580.8 L687.7,580.4 L686.1,579.7 L684.4,579.4 L683.3,581.1 L682.0,582.7 L680.6,584.1 L679.3,585.4 L677.5,586.1 L676.3,587.5 L675.0,588.8 L673.6,587.9 L672.2,586.9 L671.9,585.3 L671.2,583.7 L671.9,581.9 L671.2,580.3 L669.8,579.2 L668.5,577.8 L666.8,577.0 L665.6,575.6 L664.0,574.7 L663.2,573.1 L661.9,571.9 L661.0,570.0 Z " fill="#34a8a8" fill-rule="evenodd"/><path d="M686.2,592.5 L687.8,591.9 L689.3,591.2 L690.7,590.2 L692.1,589.3 L693.8,588.8 L695.6,588.1 L697.5,588.0 L699.4,589.0 L701.2,588.3 L702.9,588.1 L704.5,588.7 L706.0,589.3 L707.7,589.3 L709.2,590.2 L710.8,590.6 L712.5,590.6 L714.1,591.2 L715.3,592.5 L717.1,592.6 L718.6,593.4 L720.0,594.4 L720.1,596.3 L720.1,598.2 L720.9,600.0 L720.1,601.5 L719.3,603.0 L718.3,604.3 L717.2,605.6 L715.4,605.6 L713.8,606.6 L712.0,606.8 L710.2,606.6 L708.3,606.3 L706.6,607.1 L704.9,607.2 L703.1,607.5 L701.2,607.7 L699.3,607.8 L697.6,609.1 L695.6,608.9 L693.8,609.4 L691.9,608.8 L690.0,609.0 L688.2,609.0 L686.3,609.2 L684.4,609.4 L683.9,607.5 L684.8,605.6 L684.4,603.8 L684.3,601.9 L684.4,600.0 L685.2,598.2 L685.8,596.4 L686.0,594.4 Z " fill="#34a8a8" fill-rule="evenodd"/><path d="M724.7,603.8 L725.2,601.9 L725.9,600.1 L725.7,598.1 L726.7,596.4 L726.6,594.4 L727.7,593.1 L729.0,592.2 L730.3,591.2 L731.7,590.3 L733.2,589.6 L734.5,588.7 L735.9,587.8 L737.5,587.6 L739.0,587.0 L740.6,586.7 L742.2,586.4 L743.8,586.1 L745.2,585.1 L747.0,585.3 L748.4,584.5 L750.0,584.1 L751.9,583.9 L753.8,584.1 L755.6,585.1 L757.5,585.3 L759.4,585.0 L760.7,586.1 L762.5,586.4 L763.8,587.5 L765.1,588.6 L766.9,588.8 L768.3,587.5 L770.3,587.5 L771.5,586.0 L773.5,586.0 L775.0,585.0 L776.7,584.6 L778.4,584.1 L780.1,583.9 L781.7,583.3 L783.2,582.0 L785.0,582.0 L786.2,581.0 L787.3,579.8 L789.1,579.4 L790.0,578.0 L788.9,576.1 L788.9,573.9 L788.0,572.0 L789.6,571.3 L791.5,571.8 L793.1,570.9 L794.8,570.4 L796.6,570.4 L798.3,569.9 L800.0,569.5 L801.7,569.1 L803.3,569.6 L805.0,569.1 L806.7,569.2 L808.3,569.0 L810.0,569.3 L811.7,569.2 L813.3,569.7 L815.0,568.9 L816.7,569.9 L818.3,570.0 L820.0,569.5 L821.6,570.2 L823.4,570.2 L825.1,570.6 L826.9,570.3 L828.5,571.0 L830.1,571.9 L831.7,572.3 L833.4,572.6 L835.2,572.4 L836.9,572.8 L835.5,573.9 L835.0,575.7 L834.1,577.2 L832.4,578.0 L831.8,579.7 L830.0,580.5 L829.4,582.2 L828.8,583.8 L827.6,585.1 L826.2,586.0 L825.0,587.2 L823.8,588.4 L823.5,590.3 L822.4,591.5 L821.0,592.5 L820.1,594.1 L819.9,595.8 L819.4,597.5 L819.3,599.3 L819.0,601.0 L818.1,602.5 L817.7,604.2 L817.7,606.0 L817.1,607.6 L817.2,609.5 L816.2,611.0 L814.6,610.5 L812.9,610.7 L811.3,610.9 L809.7,610.8 L808.1,610.6 L806.4,610.5 L804.8,611.5 L803.2,611.2 L801.6,610.9 L799.9,611.0 L798.3,611.1 L796.7,611.5 L795.1,610.5 L793.4,611.1 L791.8,610.4 L790.2,611.3 L788.6,611.4 L786.9,611.0 L785.3,611.5 L783.7,611.5 L782.1,611.1 L780.4,611.6 L778.8,610.6 L777.2,610.5 L775.6,611.4 L773.9,610.8 L772.3,610.5 L770.7,611.0 L769.0,611.2 L767.4,610.9 L765.8,610.9 L764.2,610.9 L762.5,610.9 L760.9,610.9 L759.3,610.5 L757.7,610.7 L756.0,610.6 L754.4,611.0 L752.8,611.3 L751.2,610.7 L749.5,611.0 L747.9,610.6 L746.3,611.1 L744.7,610.7 L743.0,610.8 L741.4,611.3 L739.8,611.5 L738.2,610.6 L736.5,611.6 L734.9,610.7 L733.3,611.1 L731.7,610.7 L730.0,610.9 L728.4,611.0 L726.8,610.5 L725.2,610.8 L723.5,611.5 L721.9,611.0 L723.0,609.4 L723.4,607.5 L723.8,605.5 Z " fill="#34a8a8" fill-rule="evenodd"/><path d="M766.6,572.3 L768.3,571.9 L770.0,572.5 L771.6,571.6 L773.3,571.5 L775.0,571.3 L776.6,572.1 L778.4,571.6 L780.1,571.9 L781.8,572.1 L783.4,573.0 L782.9,574.6 L782.7,576.4 L782.0,578.0 L780.0,578.4 L778.0,579.0 L776.0,579.4 L774.3,579.7 L772.9,578.3 L771.2,578.7 L769.6,578.6 L768.0,578.0 L768.1,576.0 L766.9,574.2 Z " fill="#34a8a8" fill-rule="evenodd"/><path d="M786.0,569.0 L787.4,567.6 L788.7,566.0 L790.0,564.5 L791.6,563.6 L793.6,563.7 L795.2,562.7 L797.0,562.5 L798.8,562.3 L800.5,563.0 L802.2,563.6 L804.0,563.5 L805.2,564.6 L806.0,566.0 L807.4,566.9 L808.0,568.5 L806.3,568.3 L804.6,568.1 L802.9,568.2 L801.2,568.8 L799.5,568.3 L797.8,568.5 L796.1,568.5 L794.5,569.1 L792.8,569.1 L791.1,569.4 L789.4,569.0 L787.7,569.4 Z " fill="#34a8a8" fill-rule="evenodd"/><circle cx="632.8" cy="576.6" r="1.5" fill="#34a8a8"/><ellipse cx="630" cy="587.8" rx="4" ry="3" transform="rotate(-10 630 587.8)" fill="#34a8a8"/><ellipse cx="654.4" cy="599" rx="3" ry="3.3" transform="rotate(0 654.4 599)" fill="#34a8a8"/><ellipse cx="667.5" cy="602.3" rx="2.6" ry="2.2" transform="rotate(0 667.5 602.3)" fill="#34a8a8"/><ellipse cx="679.7" cy="601.9" rx="2.6" ry="2.3" transform="rotate(0 679.7 601.9)" fill="#34a8a8"/><circle cx="641.2" cy="601" r="1" fill="#34a8a8"/><circle cx="635.2" cy="603.8" r="1" fill="#34a8a8"/><circle cx="701.2" cy="604.7" r="2" fill="#34a8a8"/><circle cx="699.4" cy="581.3" r="1.5" fill="#34a8a8"/><circle cx="625.3" cy="609.4" r="1.6" fill="#34a8a8"/><circle cx="673" cy="609.4" r="1.6" fill="#34a8a8"/><circle cx="684.4" cy="609" r="2" fill="#34a8a8"/><circle cx="698.4" cy="609.4" r="2.5" fill="#34a8a8"/><ellipse cx="867.3" cy="578.4" rx="2.5" ry="3.4" transform="rotate(0 867.3 578.4)" fill="#34a8a8"/><ellipse cx="873" cy="601.4" rx="2.8" ry="3.2" transform="rotate(0 873 601.4)" fill="#34a8a8"/><circle cx="863.1" cy="610" r="2" fill="#34a8a8"/><circle cx="872.5" cy="610" r="2" fill="#34a8a8"/><ellipse cx="736.5" cy="607.5" rx="3" ry="2" transform="rotate(0 736.5 607.5)" fill="#34a8a8"/></g>
<circle cx="690.2" cy="558.3" r="14.2" fill="url(#ball)"/>
<path d="M523.5,560.8 L525.2,560.8 L526.8,560.8 L528.5,561.0 L530.1,560.6 L531.8,560.5 L533.5,560.8 L535.1,560.6 L536.8,560.5 L538.4,560.5 L540.1,560.4 L541.7,560.3 L543.4,560.6 L545.1,560.8 L546.7,560.6 L548.4,560.6 L550.0,560.3 L551.7,560.4 L553.4,560.1 L555.0,560.6 L556.7,560.2 L558.3,560.2 L560.0,560.3 L561.6,560.7 L563.2,560.1 L564.8,560.6 L566.4,560.3 L568.0,560.4 L569.6,560.3 L571.2,560.0 L572.8,560.4 L574.4,560.0 L576.0,560.1 L577.6,559.9 L579.2,559.8 L580.8,560.0 L582.4,559.7 L584.0,560.0 L585.6,560.4 L587.2,560.5 L588.8,560.0 L590.4,559.8 L592.0,559.9 L593.6,559.7 L595.2,559.8 L596.8,560.1 L598.4,560.1 L600.0,560.0 L601.7,559.8 L603.3,560.3 L605.0,560.4 L606.7,560.5 L608.4,560.5 L610.0,560.8 L611.7,560.7 L613.3,561.3 L615.0,561.5 L616.7,561.6 L618.3,561.6 L620.0,561.8 L621.7,562.2 L623.3,561.8 L625.0,561.8 L626.7,562.0 L628.3,562.5 L630.0,561.9 L631.7,562.5 L633.3,562.7 L635.0,562.7 L636.7,562.4 L638.3,562.5 L640.0,562.6 L641.6,562.9 L643.2,562.9 L644.8,563.0 L646.5,562.5 L648.1,562.9 L649.7,563.1 L651.3,562.7 L652.9,562.7 L654.5,563.3 L656.1,563.1 L657.7,563.0 L659.4,563.1 L661.0,563.0 L662.6,563.0 L664.2,563.0 L665.8,563.2 L667.4,563.1 L669.0,563.7 L670.6,563.8 L672.3,563.6 L673.9,563.2 L675.5,563.7 L677.1,563.4 L678.7,563.6 L680.3,563.4 L681.9,563.8 L683.6,563.5 L685.2,563.7 L686.8,563.7 L688.4,563.9 L690.0,564.0 L691.6,564.5 L693.3,564.3 L695.0,564.6 L696.7,564.7 L698.3,564.7 L700.0,564.4 L701.7,564.5 L703.4,564.7 L705.0,565.2 L706.7,565.1 L708.3,565.7 L710.0,565.3 L711.7,565.4 L713.3,565.9 L715.0,566.0 L716.7,565.7 L718.3,566.0 L720.0,566.3 L721.6,566.3 L723.2,566.7 L724.8,566.7 L726.4,566.8 L728.0,566.6 L729.6,567.0 L731.2,566.6 L732.8,566.5 L734.4,566.5 L736.0,567.1 L737.6,567.0 L739.2,567.0 L740.8,567.4 L742.4,567.1 L744.0,566.9 L745.6,567.3 L747.2,567.5 L748.8,567.0 L750.4,567.6 L752.0,567.3 L753.6,567.1 L755.2,567.5 L756.8,567.7 L758.4,567.5 L760.0,567.6 L761.6,567.4 L763.2,567.8 L764.8,567.3 L766.4,567.8 L768.0,567.6 L769.6,567.8 L771.2,567.7 L772.8,567.6 L774.4,567.5 L776.0,568.0 L777.6,567.7 L779.2,567.6 L780.8,567.9 L782.4,568.0 L784.0,567.5 L785.6,567.8 L787.2,567.6 L788.8,568.1 L790.4,567.5 L792.0,568.2 L793.6,568.0 L795.2,568.0 L796.8,568.0 L798.4,567.8 L800.0,568.0 L801.6,568.0 L803.2,567.7 L804.8,567.9 L806.4,568.1 L808.0,568.1 L809.6,567.9 L811.2,568.1 L812.8,568.2 L814.4,568.2 L816.0,567.6 L817.6,568.0 L819.2,567.7 L820.8,568.3 L822.4,568.1 L824.0,568.0 L825.6,568.1 L827.2,568.0 L828.8,567.8 L830.4,568.3 L832.0,567.6 L833.6,567.6 L835.2,567.8 L836.8,567.7 L838.4,567.9 L840.0,568.0 L841.6,568.1 L843.2,567.9 L844.8,568.4 L846.4,567.9 L848.0,568.4 L849.6,568.4 L851.2,568.0 L852.8,568.2 L854.4,567.7 L856.0,568.3 L857.6,568.0 L859.2,567.9 L860.9,568.3 L862.5,567.9 L864.1,567.7 L865.7,567.6 L867.3,568.2 L868.9,567.7 L870.5,568.1 L872.1,567.7 L873.7,568.3 L875.3,568.4 L876.9,567.9 L878.5,568.0 L878.5,572.4 L876.9,572.9 L875.3,572.3 L873.7,571.8 L872.1,572.4 L870.5,572.6 L868.9,572.7 L867.3,572.9 L865.7,571.7 L864.1,572.9 L862.5,571.8 L860.9,572.2 L859.2,572.3 L857.6,572.2 L856.0,572.8 L854.4,572.7 L852.8,572.0 L851.2,572.3 L849.6,571.7 L848.0,572.8 L846.4,571.7 L844.8,572.9 L843.2,571.9 L841.6,572.5 L840.0,572.4 L838.4,572.2 L836.8,572.5 L835.2,572.6 L833.6,571.7 L832.0,571.9 L830.4,572.6 L828.8,572.3 L827.2,572.7 L825.6,572.0 L824.0,572.5 L822.4,572.9 L820.8,572.2 L819.2,572.1 L817.6,571.7 L816.0,572.5 L814.4,571.8 L812.8,572.3 L811.2,572.9 L809.6,572.0 L808.0,571.7 L806.4,572.3 L804.8,572.1 L803.2,572.0 L801.6,572.7 L800.0,572.4 L798.4,572.4 L796.8,572.9 L795.2,572.3 L793.6,572.3 L792.0,571.9 L790.4,572.4 L788.8,571.7 L787.2,572.8 L785.6,572.5 L784.0,571.6 L782.4,572.2 L780.8,572.3 L779.2,571.5 L777.6,572.9 L776.0,572.7 L774.4,572.0 L772.8,572.3 L771.2,571.7 L769.6,571.8 L768.0,572.8 L766.4,572.4 L764.8,572.2 L763.2,572.1 L761.6,572.5 L760.0,572.0 L758.4,572.3 L756.8,572.1 L755.2,571.7 L753.6,572.1 L752.0,571.4 L750.4,571.4 L748.8,572.0 L747.2,571.5 L745.6,571.6 L744.0,570.8 L742.4,572.0 L740.8,571.3 L739.2,571.4 L737.6,571.1 L736.0,571.1 L734.4,570.4 L732.8,571.0 L731.2,571.8 L729.6,571.7 L728.0,571.2 L726.4,570.2 L724.8,571.1 L723.2,571.5 L721.6,570.6 L720.0,570.7 L718.3,571.0 L716.6,570.9 L715.0,570.3 L713.3,570.9 L711.6,570.7 L710.0,570.5 L708.4,569.4 L706.7,569.3 L705.0,569.0 L703.3,569.3 L701.7,569.3 L700.0,569.0 L698.3,569.6 L696.6,569.2 L695.0,569.0 L693.3,569.2 L691.7,568.0 L690.0,568.4 L688.4,568.6 L686.8,567.9 L685.2,568.0 L683.6,568.0 L681.9,568.7 L680.3,568.0 L678.7,567.4 L677.1,567.9 L675.5,568.3 L673.9,568.7 L672.2,568.6 L670.6,567.8 L669.1,567.2 L667.4,567.5 L665.8,567.8 L664.2,567.1 L662.6,567.8 L661.0,567.7 L659.4,567.3 L657.7,567.4 L656.1,567.1 L654.5,567.3 L652.9,566.9 L651.3,568.0 L649.7,567.5 L648.1,566.7 L646.4,567.8 L644.8,567.6 L643.2,567.2 L641.6,566.9 L640.0,567.0 L638.4,566.5 L636.6,567.4 L635.0,566.8 L633.3,567.2 L631.7,566.7 L630.0,566.7 L628.3,566.3 L626.7,566.8 L625.0,565.9 L623.4,565.6 L621.7,566.3 L620.0,566.2 L618.3,566.8 L616.7,566.1 L614.9,566.4 L613.3,565.7 L611.7,564.9 L609.9,566.0 L608.4,564.9 L606.7,564.6 L605.0,564.9 L603.3,564.7 L601.6,565.1 L600.0,564.4 L598.4,564.8 L596.8,565.1 L595.2,564.9 L593.6,564.6 L592.0,564.0 L590.4,564.6 L588.8,565.1 L587.2,564.1 L585.6,563.8 L584.0,564.8 L582.4,564.9 L580.8,564.4 L579.2,564.1 L577.6,565.0 L576.0,564.5 L574.4,564.5 L572.8,564.7 L571.2,564.9 L569.6,564.4 L568.0,564.2 L566.4,564.5 L564.8,565.3 L563.2,565.3 L561.6,565.4 L560.0,564.7 L558.3,564.8 L556.7,565.2 L555.0,565.3 L553.4,565.4 L551.7,565.2 L550.0,564.8 L548.4,564.2 L546.7,565.1 L545.1,564.9 L543.4,565.2 L541.7,564.3 L540.1,565.0 L538.4,565.6 L536.8,565.3 L535.1,565.4 L533.5,565.0 L531.8,565.3 L530.1,565.7 L528.5,564.7 L526.8,565.2 L525.2,565.2 L523.5,565.2 Z" fill="#2a5d5d"/><path d="M523.5,560.8 L525.2,560.8 L526.8,560.8 L528.5,561.0 L530.1,560.6 L531.8,560.5 L533.5,560.8 L535.1,560.6 L536.8,560.5 L538.4,560.5 L540.1,560.4 L541.7,560.3 L543.4,560.6 L545.1,560.8 L546.7,560.6 L548.4,560.6 L550.0,560.3 L551.7,560.4 L553.4,560.1 L555.0,560.6 L556.7,560.2 L558.3,560.2 L560.0,560.3 L561.6,560.7 L563.2,560.1 L564.8,560.6 L566.4,560.3 L568.0,560.4 L569.6,560.3 L571.2,560.0 L572.8,560.4 L574.4,560.0 L576.0,560.1 L577.6,559.9 L579.2,559.8 L580.8,560.0 L582.4,559.7 L584.0,560.0 L585.6,560.4 L587.2,560.5 L588.8,560.0 L590.4,559.8 L592.0,559.9 L593.6,559.7 L595.2,559.8 L596.8,560.1 L598.4,560.1 L600.0,560.0 L601.7,559.8 L603.3,560.3 L605.0,560.4 L606.7,560.5 L608.4,560.5 L610.0,560.8 L611.7,560.7 L613.3,561.3 L615.0,561.5 L616.7,561.6 L618.3,561.6 L620.0,561.8 L621.7,562.2 L623.3,561.8 L625.0,561.8 L626.7,562.0 L628.3,562.5 L630.0,561.9 L631.7,562.5 L633.3,562.7 L635.0,562.7 L636.7,562.4 L638.3,562.5 L640.0,562.6 L641.6,562.9 L643.2,562.9 L644.8,563.0 L646.5,562.5 L648.1,562.9 L649.7,563.1 L651.3,562.7 L652.9,562.7 L654.5,563.3 L656.1,563.1 L657.7,563.0 L659.4,563.1 L661.0,563.0 L662.6,563.0 L664.2,563.0 L665.8,563.2 L667.4,563.1 L669.0,563.7 L670.6,563.8 L672.3,563.6 L673.9,563.2 L675.5,563.7 L677.1,563.4 L678.7,563.6 L680.3,563.4 L681.9,563.8 L683.6,563.5 L685.2,563.7 L686.8,563.7 L688.4,563.9 L690.0,564.0 L691.6,564.5 L693.3,564.3 L695.0,564.6 L696.7,564.7 L698.3,564.7 L700.0,564.4 L701.7,564.5 L703.4,564.7 L705.0,565.2 L706.7,565.1 L708.3,565.7 L710.0,565.3 L711.7,565.4 L713.3,565.9 L715.0,566.0 L716.7,565.7 L718.3,566.0 L720.0,566.3 L721.6,566.3 L723.2,566.7 L724.8,566.7 L726.4,566.8 L728.0,566.6 L729.6,567.0 L731.2,566.6 L732.8,566.5 L734.4,566.5 L736.0,567.1 L737.6,567.0 L739.2,567.0 L740.8,567.4 L742.4,567.1 L744.0,566.9 L745.6,567.3 L747.2,567.5 L748.8,567.0 L750.4,567.6 L752.0,567.3 L753.6,567.1 L755.2,567.5 L756.8,567.7 L758.4,567.5 L760.0,567.6 L761.6,567.4 L763.2,567.8 L764.8,567.3 L766.4,567.8 L768.0,567.6 L769.6,567.8 L771.2,567.7 L772.8,567.6 L774.4,567.5 L776.0,568.0 L777.6,567.7 L779.2,567.6 L780.8,567.9 L782.4,568.0 L784.0,567.5 L785.6,567.8 L787.2,567.6 L788.8,568.1 L790.4,567.5 L792.0,568.2 L793.6,568.0 L795.2,568.0 L796.8,568.0 L798.4,567.8 L800.0,568.0 L801.6,568.0 L803.2,567.7 L804.8,567.9 L806.4,568.1 L808.0,568.1 L809.6,567.9 L811.2,568.1 L812.8,568.2 L814.4,568.2 L816.0,567.6 L817.6,568.0 L819.2,567.7 L820.8,568.3 L822.4,568.1 L824.0,568.0 L825.6,568.1 L827.2,568.0 L828.8,567.8 L830.4,568.3 L832.0,567.6 L833.6,567.6 L835.2,567.8 L836.8,567.7 L838.4,567.9 L840.0,568.0 L841.6,568.1 L843.2,567.9 L844.8,568.4 L846.4,567.9 L848.0,568.4 L849.6,568.4 L851.2,568.0 L852.8,568.2 L854.4,567.7 L856.0,568.3 L857.6,568.0 L859.2,567.9 L860.9,568.3 L862.5,567.9 L864.1,567.7 L865.7,567.6 L867.3,568.2 L868.9,567.7 L870.5,568.1 L872.1,567.7 L873.7,568.3 L875.3,568.4 L876.9,567.9 L878.5,568.0" fill="none" stroke="#4a9c9c" stroke-width="0.9" stroke-opacity="0.7"/>
<path d="M890.6,489.2 L889.4,490.1 L888.3,491.2 L887.0,492.0 L885.8,493.2 L884.4,494.2 L882.8,495.0 L881.6,496.1 L880.3,497.2 L878.9,498.2 L877.5,499.2 L876.1,500.3 L874.8,501.4 L873.7,502.8 L872.5,504.1 L871.0,505.0 L869.7,506.1 L868.6,507.3 L867.2,508.3 L865.8,509.2 L864.7,510.5 L863.2,511.3 L862.0,512.5 L860.7,513.4 L859.5,514.5 L858.7,516.0 L857.5,517.0 L856.6,518.3 L855.0,519.0 L854.0,520.3 L853.0,521.5 L851.7,522.6 L850.7,523.9 L849.5,525.0 L848.1,525.9 L847.1,527.2 L846.0,528.5 L845.0,529.8 L844.0,531.0 L842.6,531.9 L841.4,533.2 L840.3,534.5 L839.1,535.8 L838.0,537.1 L837.0,538.5 L835.9,539.6 L835.0,540.9 L834.4,542.3 L833.5,543.6 L832.2,545.4 L831.5,547.5 L830.5,548.7 L830.0,550.3 L829.4,551.7 L828.5,553.0 L828.0,554.6 L827.3,556.1 L826.5,557.6 L825.5,559.0 L824.7,560.5 L824.6,562.2 L824.0,563.8 L823.3,565.4 L823.2,567.1 L822.2,568.5 L821.8,570.2 L823.1,570.2 L823.7,568.8 L824.4,567.3 L824.9,565.8 L825.2,564.2 L826.1,562.9 L826.9,561.5 L827.3,560.0 L827.9,558.4 L828.8,556.9 L829.9,555.5 L830.8,554.0 L831.9,552.6 L833.1,551.2 L833.8,549.5 L834.8,548.0 L836.4,546.4 L837.5,544.5 L838.3,543.1 L839.6,542.1 L840.7,540.9 L841.8,539.8 L842.6,538.4 L843.9,537.5 L844.8,536.3 L845.9,535.3 L846.8,534.0 L847.8,532.9 L849.0,532.0 L850.4,531.4 L851.6,530.4 L853.0,529.7 L854.4,529.0 L855.6,528.1 L856.8,527.1 L858.3,526.7 L859.3,525.4 L860.9,525.1 L862.0,524.0 L863.5,522.9 L865.1,521.9 L867.0,521.5 L868.5,520.3 L869.9,519.5 L871.5,519.2 L873.0,518.8 L874.7,518.8 L876.2,519.5 L877.8,520.1 L879.5,520.1 L879.7,518.5 L879.8,516.9 L879.8,515.3 L879.2,513.7 L879.8,512.1 L879.8,510.5 L879.7,508.9 L879.7,507.3 L879.5,505.7 L879.4,504.1 L879.5,502.5 L880.5,501.0 L881.9,499.8 L883.0,498.4 L884.1,497.0 L885.0,495.5 L886.3,494.4 L887.1,492.8 L888.2,491.6 L889.3,490.3 Z" fill="#3ab6b6" stroke="#2a8a8a" stroke-width="0.55" filter="url(#blob)"/>
<clipPath id="bc9"><rect x="312.7" y="767.3" width="354.5" height="140"/></clipPath>
<g filter="url(#blob)" clip-path="url(#bc9)"><path d="M505.0,864.0 L506.3,862.9 L508.1,863.1 L509.5,862.3 L511.0,861.6 L512.6,861.4 L514.0,860.3 L515.5,859.8 L517.1,859.4 L518.3,858.1 L520.0,858.0 L521.7,858.2 L523.4,858.0 L524.9,856.9 L526.7,857.6 L528.4,857.4 L530.1,857.1 L531.6,856.0 L533.3,855.8 L535.0,856.0 L536.9,856.0 L538.7,855.9 L540.6,855.8 L542.3,854.8 L544.1,854.3 L546.0,854.5 L545.4,856.3 L546.1,858.3 L544.8,860.1 L545.0,862.0 L543.4,862.3 L541.8,862.8 L540.5,863.9 L538.6,863.6 L537.3,864.7 L535.7,865.1 L534.3,866.0 L532.5,865.8 L531.0,866.5 L529.5,867.4 L527.9,868.2 L526.2,868.8 L524.3,868.8 L522.7,869.5 L521.1,870.2 L519.7,871.6 L518.0,872.0 L516.3,871.8 L514.6,871.7 L512.9,871.5 L511.4,870.5 L509.5,870.9 L508.0,870.0 L507.3,868.5 L506.8,866.8 L505.6,865.6 Z " fill="#34a8a8" fill-rule="evenodd"/><ellipse cx="480.6" cy="865" rx="10" ry="5.2" transform="rotate(-5 480.6 865)" fill="#34a8a8"/><ellipse cx="519" cy="878.5" rx="9.5" ry="5" transform="rotate(-8 519 878.5)" fill="#34a8a8"/><ellipse cx="478" cy="880" rx="7.5" ry="4.8" transform="rotate(-10 478 880)" fill="#34a8a8"/><path d="M476.0,888.0 L477.6,887.1 L479.4,886.8 L481.2,886.7 L482.9,886.1 L484.7,885.8 L486.6,886.3 L488.1,884.9 L490.0,885.0 L491.7,884.9 L493.4,885.3 L495.0,884.1 L496.7,884.6 L498.4,884.7 L500.0,884.2 L501.6,883.7 L503.3,884.2 L505.0,884.0 L506.7,883.7 L508.4,884.0 L510.0,884.7 L511.7,884.8 L513.3,885.2 L515.0,885.5 L516.7,885.6 L518.3,886.0 L520.0,886.0 L521.0,887.4 L522.9,887.7 L523.7,889.4 L525.4,889.9 L526.4,891.3 L528.0,892.0 L527.9,893.6 L528.7,895.2 L528.5,896.8 L528.5,898.4 L528.8,900.0 L528.1,901.6 L529.0,903.2 L528.7,904.8 L528.6,906.4 L529.0,908.0 L527.4,908.2 L525.8,908.6 L524.2,907.6 L522.6,907.9 L520.9,908.2 L519.3,908.3 L517.7,908.4 L516.1,908.5 L514.5,908.3 L512.9,908.5 L511.3,907.4 L509.7,907.8 L508.1,907.8 L506.4,907.7 L504.8,907.9 L503.2,908.0 L501.6,907.8 L500.0,908.0 L498.3,908.0 L496.7,908.1 L495.0,907.7 L493.3,908.0 L491.7,908.6 L490.0,908.2 L488.3,907.9 L486.7,907.7 L485.0,908.4 L483.3,907.8 L481.7,907.6 L480.0,908.0 L478.8,906.6 L478.0,905.0 L477.8,903.1 L476.3,901.8 L476.0,900.0 L475.9,898.3 L476.5,896.6 L476.2,894.9 L475.8,893.1 L475.6,891.4 L476.2,889.7 Z " fill="#34a8a8" fill-rule="evenodd"/><path d="M526.5,884.0 L527.8,882.8 L529.3,882.1 L530.6,881.0 L532.6,880.9 L533.8,879.6 L535.6,879.3 L537.3,878.7 L539.1,878.5 L540.7,877.4 L542.5,877.1 L544.2,876.5 L545.3,875.0 L546.6,873.7 L548.6,873.1 L549.7,871.6 L550.9,870.1 L552.5,869.2 L551.7,867.6 L552.3,865.6 L551.2,864.0 L551.7,862.1 L550.4,860.6 L550.4,858.8 L551.2,857.0 L551.4,855.1 L552.5,853.5 L554.1,853.3 L555.7,853.6 L557.3,852.8 L558.9,853.0 L560.6,853.6 L562.1,852.6 L563.7,852.5 L565.4,853.3 L567.0,853.1 L568.6,852.6 L570.2,852.8 L571.8,852.6 L573.4,852.6 L575.0,852.5 L576.7,852.1 L578.3,852.5 L580.0,853.0 L581.7,852.3 L583.3,852.7 L585.0,852.9 L586.7,851.9 L588.3,852.0 L590.0,851.7 L591.7,852.5 L593.3,851.7 L595.0,851.9 L596.7,852.3 L598.3,852.3 L600.0,852.0 L601.7,852.0 L603.3,851.8 L605.0,852.3 L606.7,852.2 L608.3,851.6 L610.0,852.2 L611.7,851.9 L613.3,851.5 L615.0,851.4 L616.7,851.6 L618.3,851.6 L620.0,852.2 L621.7,851.7 L623.3,851.7 L625.0,851.5 L626.7,850.9 L628.3,851.2 L630.0,851.4 L631.6,850.7 L633.4,851.7 L635.0,850.9 L636.6,850.5 L638.3,850.8 L640.0,851.0 L638.8,852.4 L638.0,854.2 L636.7,855.5 L635.5,856.9 L634.0,858.0 L632.5,859.0 L631.9,860.7 L630.5,861.8 L629.6,863.3 L628.4,864.5 L627.5,866.0 L626.7,867.5 L625.4,868.5 L624.3,869.8 L622.4,870.3 L621.8,871.9 L620.6,873.1 L619.7,874.6 L618.4,875.6 L617.0,876.5 L616.2,878.1 L615.1,879.6 L613.7,880.8 L612.9,882.5 L612.2,884.2 L611.0,885.5 L609.8,886.9 L609.5,888.7 L610.6,890.3 L610.1,892.1 L610.5,893.8 L610.7,895.5 L611.0,897.3 L610.5,899.0 L610.9,900.8 L610.8,902.5 L610.2,904.1 L609.4,905.6 L607.6,906.4 L607.0,908.0 L605.4,907.5 L603.8,908.1 L602.2,908.0 L600.6,908.4 L599.0,907.6 L597.3,908.4 L595.7,907.9 L594.1,908.1 L592.5,907.5 L590.9,907.7 L589.3,908.4 L587.7,907.6 L586.1,908.1 L584.5,907.9 L582.9,908.1 L581.2,907.6 L579.6,908.5 L578.0,907.7 L576.4,908.0 L574.8,907.9 L573.2,908.3 L571.6,908.2 L570.0,907.7 L568.4,908.5 L566.8,908.0 L565.1,907.9 L563.5,907.4 L561.9,908.3 L560.3,908.4 L558.7,907.7 L557.1,907.6 L555.5,907.6 L553.9,908.1 L552.3,907.7 L550.6,907.5 L549.0,908.4 L547.4,907.5 L545.8,908.3 L544.2,907.8 L542.6,908.1 L541.0,908.2 L539.4,908.2 L537.8,908.1 L536.2,907.7 L534.5,907.4 L532.9,908.5 L531.3,908.1 L529.7,907.8 L528.1,908.0 L526.5,908.0 L526.0,906.4 L526.5,904.8 L526.5,903.2 L526.7,901.6 L526.9,900.0 L527.0,898.4 L527.0,896.8 L526.2,895.2 L526.5,893.6 L527.0,892.0 L526.0,890.4 L526.1,888.8 L526.1,887.2 L526.1,885.6 Z M559.8,877.0 L561.8,876.5 L563.9,876.7 L566.0,876.5 L566.8,878.3 L567.5,880.1 L568.1,882.0 L566.9,883.3 L566.6,885.0 L566.0,886.5 L565.0,887.9 L563.3,887.4 L561.8,886.2 L560.0,886.0 L559.7,884.2 L560.0,882.4 L559.3,880.6 L559.7,878.8 Z " fill="#34a8a8" fill-rule="evenodd"/><circle cx="442" cy="893.6" r="2" fill="#34a8a8"/><circle cx="452.5" cy="900.4" r="4" fill="#34a8a8"/><circle cx="467" cy="891" r="3" fill="#34a8a8"/><circle cx="508.2" cy="867.6" r="2.5" fill="#34a8a8"/><circle cx="486.9" cy="858.75" r="2" fill="#34a8a8"/><circle cx="539" cy="878.5" r="3.5" fill="#34a8a8"/><circle cx="632.7" cy="905" r="3" fill="#34a8a8"/><ellipse cx="458.75" cy="907" rx="3" ry="2" transform="rotate(0 458.75 907)" fill="#34a8a8"/><circle cx="653.6" cy="886.3" r="2.5" fill="#34a8a8"/><circle cx="648.7" cy="906.5" r="2" fill="#34a8a8"/><circle cx="634" cy="905" r="3" fill="#34a8a8"/><circle cx="321.7" cy="858.3" r="4" fill="#34a8a8"/><circle cx="314.2" cy="858.8" r="2" fill="#34a8a8"/><circle cx="320.3" cy="866.3" r="1.5" fill="#34a8a8"/><ellipse cx="355.5" cy="863.9" rx="3.6" ry="3" transform="rotate(0 355.5 863.9)" fill="#34a8a8"/><ellipse cx="373.7" cy="867.2" rx="2" ry="2.6" transform="rotate(20 373.7 867.2)" fill="#34a8a8"/><ellipse cx="393" cy="859.5" rx="5" ry="5" transform="rotate(0 393 859.5)" fill="#34a8a8"/><circle cx="317" cy="876.6" r="2.5" fill="#34a8a8"/><ellipse cx="328.3" cy="882.2" rx="3" ry="2.5" transform="rotate(30 328.3 882.2)" fill="#34a8a8"/><ellipse cx="345.6" cy="880.3" rx="3" ry="3" transform="rotate(0 345.6 880.3)" fill="#34a8a8"/><circle cx="316.6" cy="885" r="3.2" fill="#34a8a8"/><ellipse cx="388.7" cy="875.2" rx="3.2" ry="2.2" transform="rotate(-25 388.7 875.2)" fill="#34a8a8"/><ellipse cx="408" cy="875.2" rx="5" ry="3.6" transform="rotate(0 408 875.2)" fill="#34a8a8"/><ellipse cx="421.6" cy="884.1" rx="3" ry="3.6" transform="rotate(0 421.6 884.1)" fill="#34a8a8"/><circle cx="363.9" cy="893.4" r="1" fill="#34a8a8"/><circle cx="357.8" cy="898.1" r="3.5" fill="#34a8a8"/><circle cx="336.2" cy="901" r="1.5" fill="#34a8a8"/><ellipse cx="325" cy="906" rx="4" ry="3" transform="rotate(0 325 906)" fill="#34a8a8"/><ellipse cx="348.4" cy="906.5" rx="3" ry="2.4" transform="rotate(0 348.4 906.5)" fill="#34a8a8"/><ellipse cx="396.2" cy="906.5" rx="3" ry="2.4" transform="rotate(0 396.2 906.5)" fill="#34a8a8"/><ellipse cx="423.4" cy="899.5" rx="2.6" ry="1.5" transform="rotate(-25 423.4 899.5)" fill="#34a8a8"/><circle cx="442.2" cy="893.9" r="2" fill="#34a8a8"/><circle cx="452.5" cy="900" r="5" fill="#34a8a8"/><circle cx="466.6" cy="890.6" r="3" fill="#34a8a8"/><ellipse cx="460" cy="907" rx="5" ry="2" transform="rotate(0 460 907)" fill="#34a8a8"/><circle cx="438.4" cy="901" r="1.5" fill="#34a8a8"/></g>
<circle cx="589" cy="844.3" r="14.2" fill="url(#ball)"/>
<path d="M313.5,851.3 L315.1,851.0 L316.8,851.1 L318.4,851.5 L320.0,851.1 L321.6,851.8 L323.3,851.7 L324.9,851.7 L326.5,851.5 L328.1,851.8 L329.8,851.3 L331.4,851.6 L333.0,851.5 L334.7,851.6 L336.3,852.0 L337.9,851.4 L339.5,851.9 L341.2,851.9 L342.8,851.4 L344.4,852.1 L346.1,851.7 L347.7,851.8 L349.3,851.7 L350.9,851.9 L352.6,852.2 L354.2,851.8 L355.8,852.1 L357.4,852.2 L359.1,852.3 L360.7,852.1 L362.3,851.9 L364.0,851.9 L365.6,852.0 L367.2,852.0 L368.8,852.4 L370.5,852.4 L372.1,851.9 L373.7,852.0 L375.4,851.8 L377.0,852.6 L378.6,851.9 L380.2,852.2 L381.9,852.0 L383.5,852.1 L385.1,852.7 L386.7,852.3 L388.4,852.5 L390.0,852.4 L391.6,852.7 L393.2,852.4 L394.8,852.7 L396.4,852.7 L398.0,852.5 L399.6,852.5 L401.2,852.8 L402.8,852.6 L404.4,852.4 L406.0,852.8 L407.6,852.8 L409.2,852.9 L410.8,852.7 L412.4,852.5 L414.0,852.5 L415.6,852.7 L417.2,852.3 L418.8,852.8 L420.4,852.8 L422.0,852.9 L423.6,852.4 L425.2,852.7 L426.8,852.7 L428.4,852.8 L430.0,852.6 L431.6,852.3 L433.2,853.1 L434.8,853.1 L436.4,852.5 L438.0,853.1 L439.6,852.8 L441.2,852.4 L442.8,852.9 L444.4,852.6 L446.0,852.7 L447.6,852.5 L449.2,853.1 L450.8,853.0 L452.4,852.7 L454.0,852.9 L455.6,852.8 L457.2,853.3 L458.8,852.7 L460.4,853.1 L462.0,853.2 L463.6,853.3 L465.2,852.8 L466.8,853.3 L468.4,852.7 L470.0,853.0 L471.6,852.7 L473.2,853.0 L474.8,853.1 L476.4,852.7 L478.0,852.4 L479.6,852.3 L481.2,852.5 L482.8,852.8 L484.4,852.5 L486.0,852.3 L487.6,852.3 L489.2,852.0 L490.8,851.9 L492.4,851.9 L494.0,852.2 L495.6,852.0 L497.2,851.5 L498.8,851.8 L500.4,852.1 L502.0,851.3 L503.6,851.3 L505.2,851.9 L506.8,851.5 L508.4,851.7 L510.0,851.3 L511.6,851.5 L513.2,851.2 L514.8,851.6 L516.4,850.9 L518.1,850.9 L519.7,850.8 L521.3,851.2 L522.9,850.6 L524.5,850.9 L526.1,851.1 L527.7,851.0 L529.4,850.6 L531.0,850.5 L532.6,851.0 L534.2,850.9 L535.8,850.7 L537.4,850.7 L539.0,850.2 L540.6,850.4 L542.3,850.3 L543.9,850.4 L545.5,850.2 L547.1,850.4 L548.7,850.3 L550.3,850.6 L551.9,850.0 L553.5,849.8 L555.2,849.8 L556.8,849.8 L558.4,850.2 L560.0,850.0 L561.6,850.0 L563.2,850.0 L564.8,850.1 L566.4,850.0 L568.0,849.6 L569.6,849.6 L571.2,850.1 L572.8,850.0 L574.4,849.7 L576.0,849.9 L577.6,849.9 L579.2,849.3 L580.8,849.6 L582.4,849.8 L584.0,849.8 L585.6,849.7 L587.2,849.4 L588.8,849.8 L590.4,849.5 L592.0,849.8 L593.6,849.8 L595.2,849.7 L596.8,849.1 L598.4,849.7 L600.0,849.3 L601.6,849.1 L603.2,849.0 L604.8,849.3 L606.4,849.4 L608.0,849.0 L609.6,849.6 L611.2,848.8 L612.8,849.4 L614.4,849.3 L616.0,849.3 L617.6,849.0 L619.2,849.4 L620.8,848.9 L622.4,849.0 L624.0,849.3 L625.6,849.3 L627.2,848.6 L628.8,849.0 L630.4,849.2 L632.0,848.8 L633.6,848.6 L635.2,848.9 L636.8,849.1 L638.4,848.6 L640.0,848.8 L641.7,848.9 L643.3,848.4 L645.0,849.0 L646.6,848.2 L648.2,848.2 L649.9,848.6 L651.5,848.2 L653.2,847.9 L654.8,848.0 L656.5,848.4 L658.1,848.3 L659.8,847.8 L661.4,847.5 L663.1,848.0 L664.7,847.4 L666.4,847.8 L668.0,847.6 L668.0,851.6 L666.4,851.8 L664.7,852.1 L663.0,851.4 L661.4,852.1 L659.7,851.2 L658.1,851.7 L656.5,851.7 L654.8,851.6 L653.2,852.7 L651.5,852.4 L649.9,851.9 L648.3,853.1 L646.6,851.9 L645.0,853.3 L643.3,852.7 L641.6,852.2 L640.0,852.8 L638.4,852.7 L636.8,853.4 L635.2,853.6 L633.6,853.3 L632.0,852.9 L630.4,852.3 L628.8,853.2 L627.2,853.0 L625.6,852.6 L624.0,853.0 L622.4,853.0 L620.8,853.2 L619.2,853.6 L617.6,852.8 L616.0,853.8 L614.4,853.7 L612.8,852.7 L611.2,853.4 L609.6,852.6 L608.0,852.7 L606.4,853.7 L604.8,852.9 L603.2,853.4 L601.6,853.3 L600.0,853.3 L598.4,854.1 L596.8,853.1 L595.2,853.8 L593.6,852.7 L592.0,854.1 L590.4,853.9 L588.8,853.5 L587.2,853.8 L585.6,853.0 L584.0,854.0 L582.4,854.3 L580.8,854.3 L579.2,854.3 L577.6,853.3 L576.0,854.1 L574.4,854.2 L572.8,853.4 L571.2,854.2 L569.6,854.6 L568.0,854.2 L566.4,853.8 L564.8,853.7 L563.2,854.5 L561.6,853.3 L560.0,854.0 L558.4,853.5 L556.8,854.1 L555.2,854.5 L553.6,854.8 L552.0,854.9 L550.3,854.9 L548.7,854.2 L547.1,854.0 L545.5,854.3 L543.9,854.0 L542.3,855.1 L540.6,853.8 L539.0,854.6 L537.4,855.2 L535.8,855.3 L534.2,854.4 L532.6,854.9 L531.0,854.4 L529.3,854.3 L527.8,855.5 L526.1,855.0 L524.5,855.4 L522.9,854.7 L521.3,855.1 L519.7,855.0 L518.1,854.6 L516.5,855.8 L514.8,855.2 L513.2,855.6 L511.6,854.9 L510.0,855.3 L508.4,854.8 L506.8,854.7 L505.2,854.8 L503.6,855.2 L502.0,855.6 L500.4,855.7 L498.8,856.5 L497.2,855.6 L495.6,856.1 L494.0,855.6 L492.4,856.0 L490.8,856.7 L489.2,856.3 L487.6,855.6 L486.0,856.8 L484.4,857.0 L482.8,856.0 L481.2,856.1 L479.6,856.9 L478.0,855.9 L476.4,856.0 L474.8,856.8 L473.2,857.2 L471.6,856.7 L470.0,857.0 L468.4,857.3 L466.8,856.5 L465.2,857.2 L463.6,857.0 L462.0,856.6 L460.4,856.2 L458.8,857.4 L457.2,856.9 L455.6,857.5 L454.0,857.3 L452.4,857.0 L450.8,857.5 L449.2,857.3 L447.6,857.2 L446.0,857.5 L444.4,857.3 L442.8,856.2 L441.2,856.5 L439.6,856.8 L438.0,857.1 L436.4,856.9 L434.8,857.4 L433.2,857.0 L431.6,856.5 L430.0,857.4 L428.4,857.0 L426.8,856.8 L425.2,856.5 L423.6,856.8 L422.0,856.2 L420.4,856.4 L418.8,856.2 L417.2,856.5 L415.6,856.0 L414.0,857.3 L412.4,856.5 L410.8,856.4 L409.2,857.1 L407.6,856.8 L406.0,855.9 L404.4,857.0 L402.8,856.0 L401.2,856.7 L399.6,857.2 L398.0,856.6 L396.4,856.8 L394.8,856.8 L393.2,856.7 L391.6,856.7 L390.0,856.4 L388.4,857.1 L386.7,856.6 L385.1,855.8 L383.5,855.8 L381.9,856.0 L380.2,855.8 L378.6,855.8 L377.0,855.6 L375.4,855.5 L373.7,856.6 L372.1,856.1 L370.5,856.0 L368.8,855.9 L367.2,855.7 L365.6,856.0 L363.9,856.8 L362.3,856.2 L360.7,855.6 L359.1,856.5 L357.4,856.2 L355.8,856.4 L354.2,856.3 L352.6,855.2 L350.9,856.4 L349.3,855.6 L347.7,855.5 L346.0,856.3 L344.4,856.2 L342.8,855.7 L341.2,855.0 L339.5,856.2 L337.9,855.8 L336.3,856.0 L334.7,855.4 L333.0,855.4 L331.4,855.4 L329.8,856.1 L328.1,855.7 L326.5,855.5 L324.9,855.7 L323.3,855.3 L321.6,854.9 L320.0,855.4 L318.4,855.9 L316.7,855.8 L315.1,855.7 L313.5,855.3 Z" fill="#2a5d5d"/><path d="M313.5,851.3 L315.1,851.0 L316.8,851.1 L318.4,851.5 L320.0,851.1 L321.6,851.8 L323.3,851.7 L324.9,851.7 L326.5,851.5 L328.1,851.8 L329.8,851.3 L331.4,851.6 L333.0,851.5 L334.7,851.6 L336.3,852.0 L337.9,851.4 L339.5,851.9 L341.2,851.9 L342.8,851.4 L344.4,852.1 L346.1,851.7 L347.7,851.8 L349.3,851.7 L350.9,851.9 L352.6,852.2 L354.2,851.8 L355.8,852.1 L357.4,852.2 L359.1,852.3 L360.7,852.1 L362.3,851.9 L364.0,851.9 L365.6,852.0 L367.2,852.0 L368.8,852.4 L370.5,852.4 L372.1,851.9 L373.7,852.0 L375.4,851.8 L377.0,852.6 L378.6,851.9 L380.2,852.2 L381.9,852.0 L383.5,852.1 L385.1,852.7 L386.7,852.3 L388.4,852.5 L390.0,852.4 L391.6,852.7 L393.2,852.4 L394.8,852.7 L396.4,852.7 L398.0,852.5 L399.6,852.5 L401.2,852.8 L402.8,852.6 L404.4,852.4 L406.0,852.8 L407.6,852.8 L409.2,852.9 L410.8,852.7 L412.4,852.5 L414.0,852.5 L415.6,852.7 L417.2,852.3 L418.8,852.8 L420.4,852.8 L422.0,852.9 L423.6,852.4 L425.2,852.7 L426.8,852.7 L428.4,852.8 L430.0,852.6 L431.6,852.3 L433.2,853.1 L434.8,853.1 L436.4,852.5 L438.0,853.1 L439.6,852.8 L441.2,852.4 L442.8,852.9 L444.4,852.6 L446.0,852.7 L447.6,852.5 L449.2,853.1 L450.8,853.0 L452.4,852.7 L454.0,852.9 L455.6,852.8 L457.2,853.3 L458.8,852.7 L460.4,853.1 L462.0,853.2 L463.6,853.3 L465.2,852.8 L466.8,853.3 L468.4,852.7 L470.0,853.0 L471.6,852.7 L473.2,853.0 L474.8,853.1 L476.4,852.7 L478.0,852.4 L479.6,852.3 L481.2,852.5 L482.8,852.8 L484.4,852.5 L486.0,852.3 L487.6,852.3 L489.2,852.0 L490.8,851.9 L492.4,851.9 L494.0,852.2 L495.6,852.0 L497.2,851.5 L498.8,851.8 L500.4,852.1 L502.0,851.3 L503.6,851.3 L505.2,851.9 L506.8,851.5 L508.4,851.7 L510.0,851.3 L511.6,851.5 L513.2,851.2 L514.8,851.6 L516.4,850.9 L518.1,850.9 L519.7,850.8 L521.3,851.2 L522.9,850.6 L524.5,850.9 L526.1,851.1 L527.7,851.0 L529.4,850.6 L531.0,850.5 L532.6,851.0 L534.2,850.9 L535.8,850.7 L537.4,850.7 L539.0,850.2 L540.6,850.4 L542.3,850.3 L543.9,850.4 L545.5,850.2 L547.1,850.4 L548.7,850.3 L550.3,850.6 L551.9,850.0 L553.5,849.8 L555.2,849.8 L556.8,849.8 L558.4,850.2 L560.0,850.0 L561.6,850.0 L563.2,850.0 L564.8,850.1 L566.4,850.0 L568.0,849.6 L569.6,849.6 L571.2,850.1 L572.8,850.0 L574.4,849.7 L576.0,849.9 L577.6,849.9 L579.2,849.3 L580.8,849.6 L582.4,849.8 L584.0,849.8 L585.6,849.7 L587.2,849.4 L588.8,849.8 L590.4,849.5 L592.0,849.8 L593.6,849.8 L595.2,849.7 L596.8,849.1 L598.4,849.7 L600.0,849.3 L601.6,849.1 L603.2,849.0 L604.8,849.3 L606.4,849.4 L608.0,849.0 L609.6,849.6 L611.2,848.8 L612.8,849.4 L614.4,849.3 L616.0,849.3 L617.6,849.0 L619.2,849.4 L620.8,848.9 L622.4,849.0 L624.0,849.3 L625.6,849.3 L627.2,848.6 L628.8,849.0 L630.4,849.2 L632.0,848.8 L633.6,848.6 L635.2,848.9 L636.8,849.1 L638.4,848.6 L640.0,848.8 L641.7,848.9 L643.3,848.4 L645.0,849.0 L646.6,848.2 L648.2,848.2 L649.9,848.6 L651.5,848.2 L653.2,847.9 L654.8,848.0 L656.5,848.4 L658.1,848.3 L659.8,847.8 L661.4,847.5 L663.1,848.0 L664.7,847.4 L666.4,847.8 L668.0,847.6" fill="none" stroke="#4a9c9c" stroke-width="0.9" stroke-opacity="0.7"/>
<path d="M679.8,786.5 L678.5,787.3 L677.4,788.3 L676.2,789.3 L674.7,790.1 L673.6,791.6 L672.0,792.2 L670.6,793.2 L669.6,794.6 L668.1,795.5 L666.7,796.6 L665.3,797.5 L664.3,799.0 L662.7,799.9 L661.5,801.2 L660.2,802.3 L658.9,803.4 L657.5,804.2 L656.3,805.4 L655.1,806.7 L653.7,807.5 L652.6,808.9 L651.2,809.8 L649.9,810.7 L649.1,812.2 L647.9,813.3 L646.9,814.5 L645.8,815.7 L644.6,816.7 L643.5,817.8 L642.2,818.8 L641.0,819.9 L639.8,821.0 L638.7,822.3 L637.5,823.4 L636.4,824.7 L635.2,825.8 L634.3,827.2 L633.0,828.1 L631.8,829.2 L630.8,830.7 L629.6,831.9 L628.2,833.0 L627.2,834.4 L626.2,835.8 L625.4,837.1 L624.3,838.2 L623.6,839.6 L622.7,840.9 L621.9,842.9 L620.7,844.8 L620.0,846.2 L619.2,847.6 L618.4,848.9 L617.7,850.3 L616.9,851.8 L615.9,853.2 L615.2,854.7 L614.7,856.3 L614.1,857.9 L613.8,859.6 L612.8,861.0 L612.3,862.6 L612.1,864.3 L611.2,865.8 L611.0,867.5 L612.3,867.5 L613.2,866.2 L613.2,864.5 L614.0,863.1 L614.7,861.7 L615.6,860.3 L615.9,858.8 L616.5,857.3 L617.4,855.8 L618.2,854.3 L619.2,852.9 L620.0,851.3 L621.1,849.9 L621.9,848.2 L623.1,846.9 L624.0,845.3 L625.5,843.7 L626.7,841.8 L627.8,840.6 L628.7,839.3 L629.5,837.9 L630.6,836.8 L631.8,835.7 L632.9,834.7 L634.1,833.7 L635.0,832.5 L636.1,831.4 L637.3,830.5 L638.2,829.3 L639.7,828.8 L640.7,827.5 L642.2,827.1 L643.4,826.1 L644.8,825.4 L646.0,824.4 L647.2,823.5 L648.8,823.2 L649.9,822.0 L651.2,821.3 L652.8,820.4 L654.4,819.3 L656.0,818.4 L657.7,817.6 L659.2,817.0 L660.7,816.5 L662.2,816.1 L663.8,816.6 L665.5,816.5 L667.0,817.4 L668.7,817.4 L668.4,815.8 L668.7,814.2 L668.8,812.6 L668.7,811.0 L668.8,809.4 L668.6,807.8 L669.0,806.2 L669.0,804.6 L669.0,803.0 L668.7,801.4 L668.7,799.8 L669.8,798.4 L670.7,796.9 L671.9,795.6 L673.3,794.4 L674.2,792.8 L675.4,791.6 L676.3,790.2 L677.4,788.9 L678.5,787.6 Z" fill="#3ab6b6" stroke="#2a8a8a" stroke-width="0.55" filter="url(#blob)"/>
<clipPath id="tc_p3"><polygon points="1030.0,227.5 1251.2,108.8 1339.5,153.9 1118.8,272.1"/></clipPath>
<g transform="translate(0,0)"><polygon points="1030.0,227.5 1251.2,108.8 1339.5,153.9 1340.3,259.6 1119.4,378.8 1030.6,333.5" fill="#e6e5e3"/><polygon points="1030.0,227.5 1251.2,108.8 1339.5,153.9 1118.8,272.1" fill="#f0efed"/><path d="M1030.6,333.5 L1251.8,214.8 L1340.3,259.6 M1251.8,214.8 L1251.2,108.8" fill="none" stroke="#000" stroke-opacity="0.33" stroke-width="0.9"/></g>
<path d="M1031.4,304.5 L1033.2,303.1 L1035.3,302.5 L1037.1,301.2 L1039.2,300.4 L1041.2,299.4 L1042.8,297.7 L1044.7,296.5 L1047.2,296.5 L1048.7,294.7 L1050.7,293.7 L1053.1,293.6 L1054.7,291.9 L1056.9,291.3 L1058.6,289.8 L1060.7,288.9 L1062.3,287.3 L1064.6,286.8 L1066.7,286.0 L1068.4,284.6 L1070.5,283.8 L1072.4,282.7 L1073.9,280.9 L1076.3,280.7 L1078.1,279.4 L1079.9,278.0 L1081.7,276.6 L1084.2,276.6 L1085.8,275.1 L1088.0,274.3 L1090.0,273.5 L1091.8,272.2 L1093.9,271.4 L1095.5,269.7 L1097.7,269.2 L1099.4,267.7 L1101.7,267.2 L1103.6,266.1 L1105.0,264.1 L1107.0,263.1 L1109.0,262.1 L1111.5,262.0 L1113.1,260.3 L1115.1,259.5 L1116.9,258.0 L1118.9,257.2 L1120.8,256.0 L1122.7,254.9 L1124.8,254.2 L1126.8,253.1 L1128.9,252.5 L1130.7,251.2 L1132.8,250.4 L1134.7,249.3 L1136.8,248.4 L1138.5,246.9 L1140.1,245.3 L1142.5,245.1 L1144.5,244.1 L1146.4,243.0 L1148.2,241.6 L1150.2,240.7 L1151.8,239.0 L1154.2,238.7 L1155.9,237.4 L1157.7,236.0 L1159.5,234.6 L1162.0,234.6 L1164.0,233.7 L1165.3,231.5 L1167.8,231.3 L1169.4,229.8 L1171.2,228.4 L1173.3,227.6 L1175.5,227.1 L1177.5,226.2 L1178.9,224.1 L1181.3,223.8 L1182.8,222.0 L1185.2,221.8 L1186.9,220.3 L1189.2,219.9 L1191.2,219.0 L1192.8,217.3 L1195.1,216.9 L1196.6,215.0 L1198.4,213.6 L1200.7,213.2 L1202.3,211.5 L1204.3,210.6 L1206.4,209.8 L1208.5,209.0 L1210.1,207.4 L1212.0,206.2 L1214.5,206.2 L1216.1,204.5 L1218.4,204.2 L1220.3,203.1 L1221.9,201.4 L1223.9,200.5 L1225.9,199.5 L1228.0,198.6 L1229.9,197.5 L1231.8,196.4 L1233.8,195.4 L1235.9,194.7 L1237.6,193.2 L1239.5,192.0 L1241.6,191.3 L1243.2,189.7 L1245.2,188.7 L1247.6,188.5 L1249.3,186.9 L1251.2,185.8 L1253.1,186.9 L1255.4,187.2 L1257.1,188.7 L1259.0,189.9 L1261.3,190.2 L1262.9,191.9 L1264.9,192.9 L1267.2,193.2 L1268.8,194.9 L1270.8,195.7 L1272.7,197.0 L1274.8,197.6 L1276.6,199.0 L1278.5,200.1 L1280.9,200.2 L1282.9,201.2 L1284.4,203.0 L1286.2,204.3 L1288.6,204.4 L1290.5,205.7 L1292.3,206.9 L1294.5,207.5 L1296.4,208.6 L1298.4,209.5 L1300.3,210.6 L1302.2,211.9 L1304.3,212.5 L1306.2,213.6 L1307.9,215.1 L1310.4,215.1 L1312.0,216.8 L1313.8,218.0 L1316.1,218.5 L1318.1,219.4 L1319.7,221.1 L1322.0,221.4 L1324.0,222.3 L1325.8,223.6 L1327.6,225.0 L1329.9,225.2 L1331.8,226.5 L1333.7,227.5 L1335.4,229.1 L1337.6,229.6 L1339.5,230.7 L1337.3,231.3 L1335.8,233.2 L1333.8,234.0 L1331.6,234.7 L1329.5,235.5 L1327.8,237.0 L1326.0,238.4 L1324.2,239.5 L1322.0,240.1 L1320.2,241.5 L1317.9,241.8 L1315.9,242.8 L1314.4,244.7 L1312.4,245.6 L1310.1,246.0 L1308.2,247.3 L1306.2,248.1 L1304.5,249.7 L1302.7,251.0 L1300.7,251.9 L1298.4,252.3 L1296.8,254.0 L1294.8,254.9 L1292.8,255.9 L1290.9,256.9 L1288.9,258.0 L1286.6,258.4 L1285.2,260.4 L1283.3,261.6 L1280.8,261.5 L1278.9,262.7 L1276.8,263.6 L1275.3,265.3 L1273.0,265.7 L1271.0,266.8 L1269.6,268.7 L1267.3,269.1 L1265.3,270.0 L1263.4,271.3 L1261.6,272.5 L1259.8,273.8 L1257.8,274.8 L1255.9,276.0 L1254.1,277.3 L1251.8,277.7 L1250.0,279.1 L1247.7,279.5 L1246.3,281.5 L1243.8,281.5 L1242.0,282.8 L1239.9,283.5 L1238.0,284.6 L1236.0,285.6 L1234.3,287.1 L1232.7,288.8 L1230.3,289.0 L1228.7,290.7 L1226.7,291.6 L1224.5,292.2 L1222.6,293.4 L1220.7,294.6 L1218.4,295.0 L1216.7,296.5 L1214.9,297.8 L1213.1,299.0 L1210.7,299.3 L1209.0,300.8 L1206.9,301.5 L1205.2,303.1 L1203.4,304.3 L1201.2,304.9 L1199.0,305.6 L1197.5,307.5 L1195.2,307.7 L1193.1,308.6 L1191.3,309.8 L1189.3,310.8 L1187.9,312.9 L1185.5,313.2 L1183.4,313.9 L1182.0,316.0 L1179.9,316.8 L1178.0,317.8 L1175.9,318.5 L1174.0,319.7 L1172.0,320.7 L1169.9,321.4 L1168.4,323.4 L1166.4,324.3 L1164.4,325.3 L1162.5,326.4 L1160.6,327.5 L1158.0,327.4 L1156.2,328.6 L1154.7,330.6 L1152.5,331.1 L1150.7,332.4 L1148.7,333.4 L1146.8,334.4 L1144.6,335.1 L1142.7,336.2 L1140.9,337.6 L1139.1,338.8 L1137.0,339.7 L1135.2,341.0 L1133.0,341.5 L1130.9,342.4 L1129.2,343.8 L1127.5,345.2 L1125.5,346.2 L1123.4,347.0 L1121.3,347.7 L1119.4,348.9 L1117.6,347.5 L1115.3,347.0 L1113.6,345.5 L1111.5,344.7 L1109.4,343.9 L1107.3,343.0 L1105.4,341.8 L1103.5,340.6 L1101.3,339.9 L1099.5,338.6 L1097.4,337.8 L1095.2,337.1 L1093.4,335.7 L1091.5,334.5 L1089.1,334.3 L1087.4,332.8 L1085.4,331.8 L1083.6,330.3 L1081.7,329.2 L1079.3,328.9 L1077.7,327.2 L1075.6,326.3 L1073.3,326.0 L1071.4,324.7 L1069.2,324.1 L1067.6,322.3 L1065.5,321.5 L1063.6,320.2 L1061.6,319.3 L1059.5,318.4 L1057.5,317.3 L1055.4,316.5 L1053.1,316.1 L1051.5,314.5 L1049.1,314.2 L1047.2,313.0 L1045.6,311.2 L1043.1,311.1 L1041.1,310.1 L1039.1,309.0 L1037.6,307.1 L1035.2,306.9 L1033.1,306.1 Z" fill="#36b2b2"/><g clip-path="url(#tc_p3)"><path d="M1031.4,304.5 L1033.2,303.1 L1035.3,302.5 L1037.1,301.2 L1039.2,300.4 L1041.2,299.4 L1042.8,297.7 L1044.7,296.5 L1047.2,296.5 L1048.7,294.7 L1050.7,293.7 L1053.1,293.6 L1054.7,291.9 L1056.9,291.3 L1058.6,289.8 L1060.7,288.9 L1062.3,287.3 L1064.6,286.8 L1066.7,286.0 L1068.4,284.6 L1070.5,283.8 L1072.4,282.7 L1073.9,280.9 L1076.3,280.7 L1078.1,279.4 L1079.9,278.0 L1081.7,276.6 L1084.2,276.6 L1085.8,275.1 L1088.0,274.3 L1090.0,273.5 L1091.8,272.2 L1093.9,271.4 L1095.5,269.7 L1097.7,269.2 L1099.4,267.7 L1101.7,267.2 L1103.6,266.1 L1105.0,264.1 L1107.0,263.1 L1109.0,262.1 L1111.5,262.0 L1113.1,260.3 L1115.1,259.5 L1116.9,258.0 L1118.9,257.2 L1120.8,256.0 L1122.7,254.9 L1124.8,254.2 L1126.8,253.1 L1128.9,252.5 L1130.7,251.2 L1132.8,250.4 L1134.7,249.3 L1136.8,248.4 L1138.5,246.9 L1140.1,245.3 L1142.5,245.1 L1144.5,244.1 L1146.4,243.0 L1148.2,241.6 L1150.2,240.7 L1151.8,239.0 L1154.2,238.7 L1155.9,237.4 L1157.7,236.0 L1159.5,234.6 L1162.0,234.6 L1164.0,233.7 L1165.3,231.5 L1167.8,231.3 L1169.4,229.8 L1171.2,228.4 L1173.3,227.6 L1175.5,227.1 L1177.5,226.2 L1178.9,224.1 L1181.3,223.8 L1182.8,222.0 L1185.2,221.8 L1186.9,220.3 L1189.2,219.9 L1191.2,219.0 L1192.8,217.3 L1195.1,216.9 L1196.6,215.0 L1198.4,213.6 L1200.7,213.2 L1202.3,211.5 L1204.3,210.6 L1206.4,209.8 L1208.5,209.0 L1210.1,207.4 L1212.0,206.2 L1214.5,206.2 L1216.1,204.5 L1218.4,204.2 L1220.3,203.1 L1221.9,201.4 L1223.9,200.5 L1225.9,199.5 L1228.0,198.6 L1229.9,197.5 L1231.8,196.4 L1233.8,195.4 L1235.9,194.7 L1237.6,193.2 L1239.5,192.0 L1241.6,191.3 L1243.2,189.7 L1245.2,188.7 L1247.6,188.5 L1249.3,186.9 L1251.2,185.8 L1253.1,186.9 L1255.4,187.2 L1257.1,188.7 L1259.0,189.9 L1261.3,190.2 L1262.9,191.9 L1264.9,192.9 L1267.2,193.2 L1268.8,194.9 L1270.8,195.7 L1272.7,197.0 L1274.8,197.6 L1276.6,199.0 L1278.5,200.1 L1280.9,200.2 L1282.9,201.2 L1284.4,203.0 L1286.2,204.3 L1288.6,204.4 L1290.5,205.7 L1292.3,206.9 L1294.5,207.5 L1296.4,208.6 L1298.4,209.5 L1300.3,210.6 L1302.2,211.9 L1304.3,212.5 L1306.2,213.6 L1307.9,215.1 L1310.4,215.1 L1312.0,216.8 L1313.8,218.0 L1316.1,218.5 L1318.1,219.4 L1319.7,221.1 L1322.0,221.4 L1324.0,222.3 L1325.8,223.6 L1327.6,225.0 L1329.9,225.2 L1331.8,226.5 L1333.7,227.5 L1335.4,229.1 L1337.6,229.6 L1339.5,230.7 L1337.3,231.3 L1335.8,233.2 L1333.8,234.0 L1331.6,234.7 L1329.5,235.5 L1327.8,237.0 L1326.0,238.4 L1324.2,239.5 L1322.0,240.1 L1320.2,241.5 L1317.9,241.8 L1315.9,242.8 L1314.4,244.7 L1312.4,245.6 L1310.1,246.0 L1308.2,247.3 L1306.2,248.1 L1304.5,249.7 L1302.7,251.0 L1300.7,251.9 L1298.4,252.3 L1296.8,254.0 L1294.8,254.9 L1292.8,255.9 L1290.9,256.9 L1288.9,258.0 L1286.6,258.4 L1285.2,260.4 L1283.3,261.6 L1280.8,261.5 L1278.9,262.7 L1276.8,263.6 L1275.3,265.3 L1273.0,265.7 L1271.0,266.8 L1269.6,268.7 L1267.3,269.1 L1265.3,270.0 L1263.4,271.3 L1261.6,272.5 L1259.8,273.8 L1257.8,274.8 L1255.9,276.0 L1254.1,277.3 L1251.8,277.7 L1250.0,279.1 L1247.7,279.5 L1246.3,281.5 L1243.8,281.5 L1242.0,282.8 L1239.9,283.5 L1238.0,284.6 L1236.0,285.6 L1234.3,287.1 L1232.7,288.8 L1230.3,289.0 L1228.7,290.7 L1226.7,291.6 L1224.5,292.2 L1222.6,293.4 L1220.7,294.6 L1218.4,295.0 L1216.7,296.5 L1214.9,297.8 L1213.1,299.0 L1210.7,299.3 L1209.0,300.8 L1206.9,301.5 L1205.2,303.1 L1203.4,304.3 L1201.2,304.9 L1199.0,305.6 L1197.5,307.5 L1195.2,307.7 L1193.1,308.6 L1191.3,309.8 L1189.3,310.8 L1187.9,312.9 L1185.5,313.2 L1183.4,313.9 L1182.0,316.0 L1179.9,316.8 L1178.0,317.8 L1175.9,318.5 L1174.0,319.7 L1172.0,320.7 L1169.9,321.4 L1168.4,323.4 L1166.4,324.3 L1164.4,325.3 L1162.5,326.4 L1160.6,327.5 L1158.0,327.4 L1156.2,328.6 L1154.7,330.6 L1152.5,331.1 L1150.7,332.4 L1148.7,333.4 L1146.8,334.4 L1144.6,335.1 L1142.7,336.2 L1140.9,337.6 L1139.1,338.8 L1137.0,339.7 L1135.2,341.0 L1133.0,341.5 L1130.9,342.4 L1129.2,343.8 L1127.5,345.2 L1125.5,346.2 L1123.4,347.0 L1121.3,347.7 L1119.4,348.9 L1117.6,347.5 L1115.3,347.0 L1113.6,345.5 L1111.5,344.7 L1109.4,343.9 L1107.3,343.0 L1105.4,341.8 L1103.5,340.6 L1101.3,339.9 L1099.5,338.6 L1097.4,337.8 L1095.2,337.1 L1093.4,335.7 L1091.5,334.5 L1089.1,334.3 L1087.4,332.8 L1085.4,331.8 L1083.6,330.3 L1081.7,329.2 L1079.3,328.9 L1077.7,327.2 L1075.6,326.3 L1073.3,326.0 L1071.4,324.7 L1069.2,324.1 L1067.6,322.3 L1065.5,321.5 L1063.6,320.2 L1061.6,319.3 L1059.5,318.4 L1057.5,317.3 L1055.4,316.5 L1053.1,316.1 L1051.5,314.5 L1049.1,314.2 L1047.2,313.0 L1045.6,311.2 L1043.1,311.1 L1041.1,310.1 L1039.1,309.0 L1037.6,307.1 L1035.2,306.9 L1033.1,306.1 Z" fill="#22b9bc"/></g><path d="M1031.4,304.5 L1033.2,303.1 L1035.3,302.5 L1037.1,301.2 L1039.2,300.4 L1041.2,299.4 L1042.8,297.7 L1044.7,296.5 L1047.2,296.5 L1048.7,294.7 L1050.7,293.7 L1053.1,293.6 L1054.7,291.9 L1056.9,291.3 L1058.6,289.8 L1060.7,288.9 L1062.3,287.3 L1064.6,286.8 L1066.7,286.0 L1068.4,284.6 L1070.5,283.8 L1072.4,282.7 L1073.9,280.9 L1076.3,280.7 L1078.1,279.4 L1079.9,278.0 L1081.7,276.6 L1084.2,276.6 L1085.8,275.1 L1088.0,274.3 L1090.0,273.5 L1091.8,272.2 L1093.9,271.4 L1095.5,269.7 L1097.7,269.2 L1099.4,267.7 L1101.7,267.2 L1103.6,266.1 L1105.0,264.1 L1107.0,263.1 L1109.0,262.1 L1111.5,262.0 L1113.1,260.3 L1115.1,259.5 L1116.9,258.0 L1118.9,257.2 L1120.8,256.0 L1122.7,254.9 L1124.8,254.2 L1126.8,253.1 L1128.9,252.5 L1130.7,251.2 L1132.8,250.4 L1134.7,249.3 L1136.8,248.4 L1138.5,246.9 L1140.1,245.3 L1142.5,245.1 L1144.5,244.1 L1146.4,243.0 L1148.2,241.6 L1150.2,240.7 L1151.8,239.0 L1154.2,238.7 L1155.9,237.4 L1157.7,236.0 L1159.5,234.6 L1162.0,234.6 L1164.0,233.7 L1165.3,231.5 L1167.8,231.3 L1169.4,229.8 L1171.2,228.4 L1173.3,227.6 L1175.5,227.1 L1177.5,226.2 L1178.9,224.1 L1181.3,223.8 L1182.8,222.0 L1185.2,221.8 L1186.9,220.3 L1189.2,219.9 L1191.2,219.0 L1192.8,217.3 L1195.1,216.9 L1196.6,215.0 L1198.4,213.6 L1200.7,213.2 L1202.3,211.5 L1204.3,210.6 L1206.4,209.8 L1208.5,209.0 L1210.1,207.4 L1212.0,206.2 L1214.5,206.2 L1216.1,204.5 L1218.4,204.2 L1220.3,203.1 L1221.9,201.4 L1223.9,200.5 L1225.9,199.5 L1228.0,198.6 L1229.9,197.5 L1231.8,196.4 L1233.8,195.4 L1235.9,194.7 L1237.6,193.2 L1239.5,192.0 L1241.6,191.3 L1243.2,189.7 L1245.2,188.7 L1247.6,188.5 L1249.3,186.9 L1251.2,185.8 L1253.1,186.9 L1255.4,187.2 L1257.1,188.7 L1259.0,189.9 L1261.3,190.2 L1262.9,191.9 L1264.9,192.9 L1267.2,193.2 L1268.8,194.9 L1270.8,195.7 L1272.7,197.0 L1274.8,197.6 L1276.6,199.0 L1278.5,200.1 L1280.9,200.2 L1282.9,201.2 L1284.4,203.0 L1286.2,204.3 L1288.6,204.4 L1290.5,205.7 L1292.3,206.9 L1294.5,207.5 L1296.4,208.6 L1298.4,209.5 L1300.3,210.6 L1302.2,211.9 L1304.3,212.5 L1306.2,213.6 L1307.9,215.1 L1310.4,215.1 L1312.0,216.8 L1313.8,218.0 L1316.1,218.5 L1318.1,219.4 L1319.7,221.1 L1322.0,221.4 L1324.0,222.3 L1325.8,223.6 L1327.6,225.0 L1329.9,225.2 L1331.8,226.5 L1333.7,227.5 L1335.4,229.1 L1337.6,229.6 L1339.5,230.7 L1337.3,231.3 L1335.8,233.2 L1333.8,234.0 L1331.6,234.7 L1329.5,235.5 L1327.8,237.0 L1326.0,238.4 L1324.2,239.5 L1322.0,240.1 L1320.2,241.5 L1317.9,241.8 L1315.9,242.8 L1314.4,244.7 L1312.4,245.6 L1310.1,246.0 L1308.2,247.3 L1306.2,248.1 L1304.5,249.7 L1302.7,251.0 L1300.7,251.9 L1298.4,252.3 L1296.8,254.0 L1294.8,254.9 L1292.8,255.9 L1290.9,256.9 L1288.9,258.0 L1286.6,258.4 L1285.2,260.4 L1283.3,261.6 L1280.8,261.5 L1278.9,262.7 L1276.8,263.6 L1275.3,265.3 L1273.0,265.7 L1271.0,266.8 L1269.6,268.7 L1267.3,269.1 L1265.3,270.0 L1263.4,271.3 L1261.6,272.5 L1259.8,273.8 L1257.8,274.8 L1255.9,276.0 L1254.1,277.3 L1251.8,277.7 L1250.0,279.1 L1247.7,279.5 L1246.3,281.5 L1243.8,281.5 L1242.0,282.8 L1239.9,283.5 L1238.0,284.6 L1236.0,285.6 L1234.3,287.1 L1232.7,288.8 L1230.3,289.0 L1228.7,290.7 L1226.7,291.6 L1224.5,292.2 L1222.6,293.4 L1220.7,294.6 L1218.4,295.0 L1216.7,296.5 L1214.9,297.8 L1213.1,299.0 L1210.7,299.3 L1209.0,300.8 L1206.9,301.5 L1205.2,303.1 L1203.4,304.3 L1201.2,304.9 L1199.0,305.6 L1197.5,307.5 L1195.2,307.7 L1193.1,308.6 L1191.3,309.8 L1189.3,310.8 L1187.9,312.9 L1185.5,313.2 L1183.4,313.9 L1182.0,316.0 L1179.9,316.8 L1178.0,317.8 L1175.9,318.5 L1174.0,319.7 L1172.0,320.7 L1169.9,321.4 L1168.4,323.4 L1166.4,324.3 L1164.4,325.3 L1162.5,326.4 L1160.6,327.5 L1158.0,327.4 L1156.2,328.6 L1154.7,330.6 L1152.5,331.1 L1150.7,332.4 L1148.7,333.4 L1146.8,334.4 L1144.6,335.1 L1142.7,336.2 L1140.9,337.6 L1139.1,338.8 L1137.0,339.7 L1135.2,341.0 L1133.0,341.5 L1130.9,342.4 L1129.2,343.8 L1127.5,345.2 L1125.5,346.2 L1123.4,347.0 L1121.3,347.7 L1119.4,348.9 L1117.6,347.5 L1115.3,347.0 L1113.6,345.5 L1111.5,344.7 L1109.4,343.9 L1107.3,343.0 L1105.4,341.8 L1103.5,340.6 L1101.3,339.9 L1099.5,338.6 L1097.4,337.8 L1095.2,337.1 L1093.4,335.7 L1091.5,334.5 L1089.1,334.3 L1087.4,332.8 L1085.4,331.8 L1083.6,330.3 L1081.7,329.2 L1079.3,328.9 L1077.7,327.2 L1075.6,326.3 L1073.3,326.0 L1071.4,324.7 L1069.2,324.1 L1067.6,322.3 L1065.5,321.5 L1063.6,320.2 L1061.6,319.3 L1059.5,318.4 L1057.5,317.3 L1055.4,316.5 L1053.1,316.1 L1051.5,314.5 L1049.1,314.2 L1047.2,313.0 L1045.6,311.2 L1043.1,311.1 L1041.1,310.1 L1039.1,309.0 L1037.6,307.1 L1035.2,306.9 L1033.1,306.1 Z" fill="url(#wpat)"/>
<g filter="url(#blob)"></g>
<circle cx="1186" cy="258.4" r="12.0" fill="url(#ball)"/>
<g transform="translate(0,0)"><path d="M1293.9,144.2 L1313.3,132.2 L1323.9,158.3 L1301.1,171.7 Z" fill="#efeeed"/><ellipse cx="1295.3" cy="157.9" rx="9.3" ry="13.7" transform="rotate(-15 1295.3 157.9)" fill="#f1f0ef" stroke="#8a8a8a" stroke-width="0.7"/><path d="M1293.9,144.2 L1313.3,132.2 M1301.1,171.7 L1323.9,158.3" stroke="#9a9a9a" stroke-width="0.6" fill="none"/><ellipse cx="1319.4" cy="145.3" rx="9.2" ry="13.4" transform="rotate(-15 1319.4 145.3)" fill="none" stroke="#8a8a8a" stroke-width="0.7"/></g>
<g transform="translate(0,0)"><path d="M1030.0,227.5 L1251.2,108.8 L1339.5,153.9 L1118.8,272.1 Z M1118.8,272.1 L1119.4,378.8 L1340.3,259.6 L1339.5,153.9 M1030.0,227.5 L1030.6,333.5 L1119.4,378.8" fill="none" stroke="#000" stroke-opacity="0.31" stroke-width="0.95" stroke-linejoin="round"/></g>
<g transform="translate(0,0)"><ellipse cx="1311.8" cy="149.9" rx="10.8" ry="15.2" transform="rotate(-15 1311.8 149.9)" fill="#2c7474"/><path d="M1305,139 L1314,152 M1304,146 L1313,160 M1309,137 L1319,151 M1306,153 L1311,161" stroke="#56a6a6" stroke-width="1.4" opacity="0.4" stroke-linecap="round"/><ellipse cx="1311.8" cy="149.9" rx="10.8" ry="15.2" transform="rotate(-15 1311.8 149.9)" fill="none" stroke="#215f5f" stroke-width="0.8"/></g>
<g transform="translate(0,0)"><polygon points="1118.8,272.1 1339.5,153.9 1340.3,259.6 1119.4,378.8" fill="#e6e5e3" opacity="0.06"/></g>
<g transform="translate(0,0)"><g><text x="988.9" y="112.7" style="font-family:'Liberation Sans',sans-serif;font-size:7.9px" fill="#303030" stroke="#303030" stroke-width="0.28" stroke-opacity="0.6">Time Value = 0.04 [ s ]</text><text x="1370.4" y="111.10000000000001" style="font-family:'Liberation Sans',sans-serif;font-size:12.3px;font-weight:bold" fill="#111" stroke="#111" stroke-width="0.45" textLength="36.4" lengthAdjust="spacingAndGlyphs">&#923;nsys</text><text x="1406.8000000000002" y="118.9" text-anchor="end" style="font-family:'Liberation Sans',sans-serif;font-size:5.6px;font-weight:bold" fill="#222" stroke="#222" stroke-width="0.2">2024 R2</text></g><line x1="1376.5" y1="362" x2="1376.5" y2="350" stroke="#5a8a5a" stroke-width="1.8"/><path d="M1376.5,352 L1374.4,349 L1376.5,345.2 L1378.6,349 Z" fill="#1e8a1e"/><line x1="1376.5" y1="362" x2="1387.5" y2="356.4" stroke="#b04040" stroke-width="1.6"/><circle cx="1388.0" cy="356" r="1.8" fill="#a01818"/><circle cx="1391.0" cy="353.3" r="1.8" fill="#3cc8c8"/><line x1="1376.5" y1="362" x2="1386.5" y2="367.5" stroke="#404080" stroke-width="1.8"/><path d="M1385.0,365.4 L1389.5,369.6 L1385.5,370 Z" fill="#1010c0"/><text x="1394.0" y="355" text-anchor="middle" style="font-family:'Liberation Sans',sans-serif;font-size:4.5px" fill="#c06060">x</text><text x="1376.7" y="342.7" text-anchor="middle" style="font-family:'Liberation Sans',sans-serif;font-size:5px" fill="#5f955f">y</text><text x="1394.5" y="372.8" text-anchor="middle" style="font-family:'Liberation Sans',sans-serif;font-size:4.8px" fill="#4040a0">z</text></g>
<clipPath id="tc_p4"><polygon points="1451.0,227.5 1672.2,108.8 1760.5,153.9 1539.8,272.1"/></clipPath>
<g transform="translate(421,0)"><polygon points="1030.0,227.5 1251.2,108.8 1339.5,153.9 1340.3,259.6 1119.4,378.8 1030.6,333.5" fill="#e6e5e3"/><polygon points="1030.0,227.5 1251.2,108.8 1339.5,153.9 1118.8,272.1" fill="#f0efed"/><path d="M1030.6,333.5 L1251.8,214.8 L1340.3,259.6 M1251.8,214.8 L1251.2,108.8" fill="none" stroke="#000" stroke-opacity="0.33" stroke-width="0.9"/></g>
<path d="M1452.5,298.3 L1454.3,297.0 L1456.2,295.8 L1458.4,295.2 L1460.2,293.9 L1462.1,292.8 L1464.3,292.2 L1466.6,291.9 L1468.5,290.7 L1470.5,289.7 L1472.1,288.0 L1474.3,287.4 L1476.1,286.1 L1478.0,285.0 L1479.9,283.9 L1482.0,283.0 L1484.4,282.9 L1486.3,281.8 L1488.3,280.8 L1490.3,279.8 L1491.9,278.0 L1493.9,277.2 L1496.1,276.6 L1498.1,275.7 L1500.2,274.9 L1502.2,273.9 L1503.6,271.9 L1505.9,271.6 L1508.0,270.7 L1509.8,269.5 L1511.6,268.1 L1513.8,267.4 L1515.5,266.0 L1518.0,266.0 L1520.0,265.0 L1521.7,263.5 L1523.8,262.6 L1525.7,261.3 L1528.2,261.1 L1530.1,259.7 L1532.3,259.1 L1534.4,258.0 L1536.3,256.6 L1538.3,255.5 L1540.5,254.8 L1542.5,253.6 L1544.4,252.3 L1546.7,251.7 L1548.4,250.2 L1550.6,249.5 L1551.9,247.4 L1553.7,246.1 L1556.0,245.5 L1557.6,243.8 L1559.6,242.8 L1561.4,241.5 L1563.2,240.1 L1565.5,239.5 L1566.7,237.3 L1568.7,236.3 L1570.4,234.8 L1572.6,234.0 L1574.2,232.3 L1576.1,231.2 L1578.2,230.3 L1579.7,228.6 L1581.7,227.5 L1584.0,226.9 L1586.4,226.6 L1588.3,224.8 L1590.6,224.0 L1592.9,223.5 L1595.4,223.5 L1597.7,222.6 L1599.8,221.3 L1602.1,220.7 L1604.3,219.8 L1606.7,219.5 L1608.6,218.4 L1610.3,216.8 L1612.7,216.6 L1614.8,215.8 L1616.8,214.8 L1618.6,213.5 L1620.7,212.7 L1622.1,210.5 L1624.2,209.8 L1626.6,209.6 L1628.4,208.3 L1630.1,206.8 L1632.5,206.4 L1634.2,205.0 L1636.3,204.2 L1637.9,202.5 L1640.0,201.7 L1641.8,200.2 L1644.0,199.3 L1645.8,197.8 L1647.9,196.9 L1650.4,196.4 L1651.9,194.5 L1653.7,192.9 L1655.7,191.8 L1657.8,190.8 L1660.3,190.4 L1662.0,188.7 L1663.9,187.4 L1665.8,186.0 L1668.4,185.9 L1670.0,184.1 L1672.1,183.0 L1674.5,183.7 L1676.7,184.6 L1678.9,185.7 L1681.1,186.9 L1682.9,188.7 L1685.4,189.1 L1687.7,190.0 L1689.6,191.7 L1691.8,192.8 L1694.2,193.7 L1696.0,195.7 L1698.8,195.8 L1700.7,197.4 L1703.0,198.5 L1704.8,199.9 L1707.0,200.4 L1708.6,202.1 L1710.9,202.5 L1713.0,203.2 L1714.9,204.5 L1717.1,205.0 L1718.8,206.5 L1720.9,207.3 L1722.4,209.1 L1724.4,210.0 L1726.6,210.6 L1728.9,211.1 L1730.7,212.3 L1732.7,213.3 L1734.7,214.3 L1736.6,215.3 L1738.2,217.1 L1740.6,217.3 L1742.7,218.1 L1744.1,220.3 L1746.3,220.8 L1748.0,222.3 L1750.3,222.6 L1752.0,224.3 L1754.1,225.0 L1756.0,226.1 L1758.0,227.1 L1760.1,227.8 L1758.2,228.8 L1756.5,230.4 L1754.5,231.3 L1752.1,231.5 L1750.4,233.0 L1748.1,233.7 L1746.1,234.9 L1744.5,236.8 L1742.3,237.6 L1740.2,238.6 L1738.3,240.0 L1736.2,241.0 L1734.4,242.5 L1732.4,243.5 L1730.3,244.7 L1728.7,246.4 L1726.2,246.8 L1724.5,248.5 L1722.2,249.0 L1720.8,251.2 L1718.2,251.2 L1716.2,252.3 L1714.4,253.8 L1712.9,255.7 L1710.3,255.7 L1708.8,257.8 L1706.3,257.8 L1704.5,259.3 L1702.9,261.1 L1700.8,262.1 L1698.6,262.8 L1696.4,263.6 L1694.2,264.7 L1692.0,265.4 L1689.7,266.2 L1687.9,268.0 L1685.9,269.3 L1683.2,269.1 L1681.5,271.2 L1678.9,271.1 L1677.2,273.0 L1674.6,273.1 L1672.6,274.5 L1670.3,275.2 L1668.1,276.2 L1666.1,277.6 L1663.8,278.3 L1662.0,280.2 L1659.7,280.9 L1657.4,282.0 L1655.5,283.7 L1652.9,284.3 L1650.8,285.8 L1648.9,287.4 L1646.7,288.7 L1644.7,289.8 L1643.0,291.5 L1641.0,292.6 L1638.7,293.0 L1636.7,294.2 L1634.5,294.9 L1632.7,296.3 L1631.0,297.9 L1628.9,298.8 L1626.6,299.4 L1624.8,300.8 L1623.1,302.5 L1620.8,303.0 L1618.6,303.8 L1616.6,305.0 L1615.1,307.1 L1612.8,307.7 L1610.9,309.1 L1608.6,309.8 L1606.9,311.6 L1605.0,312.9 L1602.8,313.7 L1600.5,314.4 L1599.1,316.6 L1597.1,317.8 L1594.8,318.5 L1592.6,319.3 L1590.3,320.0 L1588.3,321.4 L1586.2,322.5 L1583.8,322.9 L1581.7,324.0 L1579.9,325.9 L1577.3,325.8 L1575.6,327.7 L1573.3,328.5 L1570.9,328.8 L1568.9,330.2 L1566.9,331.2 L1564.6,331.7 L1562.8,333.4 L1560.3,333.4 L1558.7,335.3 L1556.6,336.2 L1554.3,336.7 L1552.3,337.8 L1550.1,338.5 L1547.8,339.0 L1545.8,340.1 L1544.2,342.0 L1541.9,342.5 L1539.7,343.2 L1537.7,342.1 L1535.7,341.2 L1533.9,339.9 L1531.8,339.1 L1529.5,338.6 L1527.6,337.4 L1526.1,335.6 L1523.8,335.2 L1522.0,333.7 L1520.2,332.4 L1518.0,331.8 L1516.0,330.7 L1514.0,329.8 L1511.8,329.1 L1510.2,327.4 L1508.0,326.9 L1506.3,325.3 L1503.9,325.1 L1502.3,323.4 L1500.2,322.4 L1498.2,321.6 L1496.1,320.8 L1493.9,320.2 L1492.3,318.4 L1490.1,317.9 L1488.3,316.5 L1486.0,316.1 L1483.9,315.1 L1482.0,314.1 L1480.4,312.2 L1478.1,312.0 L1476.5,310.0 L1474.2,309.7 L1472.4,308.4 L1470.2,307.7 L1468.4,306.3 L1466.1,305.9 L1464.3,304.5 L1462.7,302.9 L1460.2,302.8 L1458.5,301.2 L1456.4,300.6 L1454.4,299.6 Z" fill="#36b2b2"/><g clip-path="url(#tc_p4)"><path d="M1452.5,298.3 L1454.3,297.0 L1456.2,295.8 L1458.4,295.2 L1460.2,293.9 L1462.1,292.8 L1464.3,292.2 L1466.6,291.9 L1468.5,290.7 L1470.5,289.7 L1472.1,288.0 L1474.3,287.4 L1476.1,286.1 L1478.0,285.0 L1479.9,283.9 L1482.0,283.0 L1484.4,282.9 L1486.3,281.8 L1488.3,280.8 L1490.3,279.8 L1491.9,278.0 L1493.9,277.2 L1496.1,276.6 L1498.1,275.7 L1500.2,274.9 L1502.2,273.9 L1503.6,271.9 L1505.9,271.6 L1508.0,270.7 L1509.8,269.5 L1511.6,268.1 L1513.8,267.4 L1515.5,266.0 L1518.0,266.0 L1520.0,265.0 L1521.7,263.5 L1523.8,262.6 L1525.7,261.3 L1528.2,261.1 L1530.1,259.7 L1532.3,259.1 L1534.4,258.0 L1536.3,256.6 L1538.3,255.5 L1540.5,254.8 L1542.5,253.6 L1544.4,252.3 L1546.7,251.7 L1548.4,250.2 L1550.6,249.5 L1551.9,247.4 L1553.7,246.1 L1556.0,245.5 L1557.6,243.8 L1559.6,242.8 L1561.4,241.5 L1563.2,240.1 L1565.5,239.5 L1566.7,237.3 L1568.7,236.3 L1570.4,234.8 L1572.6,234.0 L1574.2,232.3 L1576.1,231.2 L1578.2,230.3 L1579.7,228.6 L1581.7,227.5 L1584.0,226.9 L1586.4,226.6 L1588.3,224.8 L1590.6,224.0 L1592.9,223.5 L1595.4,223.5 L1597.7,222.6 L1599.8,221.3 L1602.1,220.7 L1604.3,219.8 L1606.7,219.5 L1608.6,218.4 L1610.3,216.8 L1612.7,216.6 L1614.8,215.8 L1616.8,214.8 L1618.6,213.5 L1620.7,212.7 L1622.1,210.5 L1624.2,209.8 L1626.6,209.6 L1628.4,208.3 L1630.1,206.8 L1632.5,206.4 L1634.2,205.0 L1636.3,204.2 L1637.9,202.5 L1640.0,201.7 L1641.8,200.2 L1644.0,199.3 L1645.8,197.8 L1647.9,196.9 L1650.4,196.4 L1651.9,194.5 L1653.7,192.9 L1655.7,191.8 L1657.8,190.8 L1660.3,190.4 L1662.0,188.7 L1663.9,187.4 L1665.8,186.0 L1668.4,185.9 L1670.0,184.1 L1672.1,183.0 L1674.5,183.7 L1676.7,184.6 L1678.9,185.7 L1681.1,186.9 L1682.9,188.7 L1685.4,189.1 L1687.7,190.0 L1689.6,191.7 L1691.8,192.8 L1694.2,193.7 L1696.0,195.7 L1698.8,195.8 L1700.7,197.4 L1703.0,198.5 L1704.8,199.9 L1707.0,200.4 L1708.6,202.1 L1710.9,202.5 L1713.0,203.2 L1714.9,204.5 L1717.1,205.0 L1718.8,206.5 L1720.9,207.3 L1722.4,209.1 L1724.4,210.0 L1726.6,210.6 L1728.9,211.1 L1730.7,212.3 L1732.7,213.3 L1734.7,214.3 L1736.6,215.3 L1738.2,217.1 L1740.6,217.3 L1742.7,218.1 L1744.1,220.3 L1746.3,220.8 L1748.0,222.3 L1750.3,222.6 L1752.0,224.3 L1754.1,225.0 L1756.0,226.1 L1758.0,227.1 L1760.1,227.8 L1758.2,228.8 L1756.5,230.4 L1754.5,231.3 L1752.1,231.5 L1750.4,233.0 L1748.1,233.7 L1746.1,234.9 L1744.5,236.8 L1742.3,237.6 L1740.2,238.6 L1738.3,240.0 L1736.2,241.0 L1734.4,242.5 L1732.4,243.5 L1730.3,244.7 L1728.7,246.4 L1726.2,246.8 L1724.5,248.5 L1722.2,249.0 L1720.8,251.2 L1718.2,251.2 L1716.2,252.3 L1714.4,253.8 L1712.9,255.7 L1710.3,255.7 L1708.8,257.8 L1706.3,257.8 L1704.5,259.3 L1702.9,261.1 L1700.8,262.1 L1698.6,262.8 L1696.4,263.6 L1694.2,264.7 L1692.0,265.4 L1689.7,266.2 L1687.9,268.0 L1685.9,269.3 L1683.2,269.1 L1681.5,271.2 L1678.9,271.1 L1677.2,273.0 L1674.6,273.1 L1672.6,274.5 L1670.3,275.2 L1668.1,276.2 L1666.1,277.6 L1663.8,278.3 L1662.0,280.2 L1659.7,280.9 L1657.4,282.0 L1655.5,283.7 L1652.9,284.3 L1650.8,285.8 L1648.9,287.4 L1646.7,288.7 L1644.7,289.8 L1643.0,291.5 L1641.0,292.6 L1638.7,293.0 L1636.7,294.2 L1634.5,294.9 L1632.7,296.3 L1631.0,297.9 L1628.9,298.8 L1626.6,299.4 L1624.8,300.8 L1623.1,302.5 L1620.8,303.0 L1618.6,303.8 L1616.6,305.0 L1615.1,307.1 L1612.8,307.7 L1610.9,309.1 L1608.6,309.8 L1606.9,311.6 L1605.0,312.9 L1602.8,313.7 L1600.5,314.4 L1599.1,316.6 L1597.1,317.8 L1594.8,318.5 L1592.6,319.3 L1590.3,320.0 L1588.3,321.4 L1586.2,322.5 L1583.8,322.9 L1581.7,324.0 L1579.9,325.9 L1577.3,325.8 L1575.6,327.7 L1573.3,328.5 L1570.9,328.8 L1568.9,330.2 L1566.9,331.2 L1564.6,331.7 L1562.8,333.4 L1560.3,333.4 L1558.7,335.3 L1556.6,336.2 L1554.3,336.7 L1552.3,337.8 L1550.1,338.5 L1547.8,339.0 L1545.8,340.1 L1544.2,342.0 L1541.9,342.5 L1539.7,343.2 L1537.7,342.1 L1535.7,341.2 L1533.9,339.9 L1531.8,339.1 L1529.5,338.6 L1527.6,337.4 L1526.1,335.6 L1523.8,335.2 L1522.0,333.7 L1520.2,332.4 L1518.0,331.8 L1516.0,330.7 L1514.0,329.8 L1511.8,329.1 L1510.2,327.4 L1508.0,326.9 L1506.3,325.3 L1503.9,325.1 L1502.3,323.4 L1500.2,322.4 L1498.2,321.6 L1496.1,320.8 L1493.9,320.2 L1492.3,318.4 L1490.1,317.9 L1488.3,316.5 L1486.0,316.1 L1483.9,315.1 L1482.0,314.1 L1480.4,312.2 L1478.1,312.0 L1476.5,310.0 L1474.2,309.7 L1472.4,308.4 L1470.2,307.7 L1468.4,306.3 L1466.1,305.9 L1464.3,304.5 L1462.7,302.9 L1460.2,302.8 L1458.5,301.2 L1456.4,300.6 L1454.4,299.6 Z" fill="#22b9bc"/></g><path d="M1452.5,298.3 L1454.3,297.0 L1456.2,295.8 L1458.4,295.2 L1460.2,293.9 L1462.1,292.8 L1464.3,292.2 L1466.6,291.9 L1468.5,290.7 L1470.5,289.7 L1472.1,288.0 L1474.3,287.4 L1476.1,286.1 L1478.0,285.0 L1479.9,283.9 L1482.0,283.0 L1484.4,282.9 L1486.3,281.8 L1488.3,280.8 L1490.3,279.8 L1491.9,278.0 L1493.9,277.2 L1496.1,276.6 L1498.1,275.7 L1500.2,274.9 L1502.2,273.9 L1503.6,271.9 L1505.9,271.6 L1508.0,270.7 L1509.8,269.5 L1511.6,268.1 L1513.8,267.4 L1515.5,266.0 L1518.0,266.0 L1520.0,265.0 L1521.7,263.5 L1523.8,262.6 L1525.7,261.3 L1528.2,261.1 L1530.1,259.7 L1532.3,259.1 L1534.4,258.0 L1536.3,256.6 L1538.3,255.5 L1540.5,254.8 L1542.5,253.6 L1544.4,252.3 L1546.7,251.7 L1548.4,250.2 L1550.6,249.5 L1551.9,247.4 L1553.7,246.1 L1556.0,245.5 L1557.6,243.8 L1559.6,242.8 L1561.4,241.5 L1563.2,240.1 L1565.5,239.5 L1566.7,237.3 L1568.7,236.3 L1570.4,234.8 L1572.6,234.0 L1574.2,232.3 L1576.1,231.2 L1578.2,230.3 L1579.7,228.6 L1581.7,227.5 L1584.0,226.9 L1586.4,226.6 L1588.3,224.8 L1590.6,224.0 L1592.9,223.5 L1595.4,223.5 L1597.7,222.6 L1599.8,221.3 L1602.1,220.7 L1604.3,219.8 L1606.7,219.5 L1608.6,218.4 L1610.3,216.8 L1612.7,216.6 L1614.8,215.8 L1616.8,214.8 L1618.6,213.5 L1620.7,212.7 L1622.1,210.5 L1624.2,209.8 L1626.6,209.6 L1628.4,208.3 L1630.1,206.8 L1632.5,206.4 L1634.2,205.0 L1636.3,204.2 L1637.9,202.5 L1640.0,201.7 L1641.8,200.2 L1644.0,199.3 L1645.8,197.8 L1647.9,196.9 L1650.4,196.4 L1651.9,194.5 L1653.7,192.9 L1655.7,191.8 L1657.8,190.8 L1660.3,190.4 L1662.0,188.7 L1663.9,187.4 L1665.8,186.0 L1668.4,185.9 L1670.0,184.1 L1672.1,183.0 L1674.5,183.7 L1676.7,184.6 L1678.9,185.7 L1681.1,186.9 L1682.9,188.7 L1685.4,189.1 L1687.7,190.0 L1689.6,191.7 L1691.8,192.8 L1694.2,193.7 L1696.0,195.7 L1698.8,195.8 L1700.7,197.4 L1703.0,198.5 L1704.8,199.9 L1707.0,200.4 L1708.6,202.1 L1710.9,202.5 L1713.0,203.2 L1714.9,204.5 L1717.1,205.0 L1718.8,206.5 L1720.9,207.3 L1722.4,209.1 L1724.4,210.0 L1726.6,210.6 L1728.9,211.1 L1730.7,212.3 L1732.7,213.3 L1734.7,214.3 L1736.6,215.3 L1738.2,217.1 L1740.6,217.3 L1742.7,218.1 L1744.1,220.3 L1746.3,220.8 L1748.0,222.3 L1750.3,222.6 L1752.0,224.3 L1754.1,225.0 L1756.0,226.1 L1758.0,227.1 L1760.1,227.8 L1758.2,228.8 L1756.5,230.4 L1754.5,231.3 L1752.1,231.5 L1750.4,233.0 L1748.1,233.7 L1746.1,234.9 L1744.5,236.8 L1742.3,237.6 L1740.2,238.6 L1738.3,240.0 L1736.2,241.0 L1734.4,242.5 L1732.4,243.5 L1730.3,244.7 L1728.7,246.4 L1726.2,246.8 L1724.5,248.5 L1722.2,249.0 L1720.8,251.2 L1718.2,251.2 L1716.2,252.3 L1714.4,253.8 L1712.9,255.7 L1710.3,255.7 L1708.8,257.8 L1706.3,257.8 L1704.5,259.3 L1702.9,261.1 L1700.8,262.1 L1698.6,262.8 L1696.4,263.6 L1694.2,264.7 L1692.0,265.4 L1689.7,266.2 L1687.9,268.0 L1685.9,269.3 L1683.2,269.1 L1681.5,271.2 L1678.9,271.1 L1677.2,273.0 L1674.6,273.1 L1672.6,274.5 L1670.3,275.2 L1668.1,276.2 L1666.1,277.6 L1663.8,278.3 L1662.0,280.2 L1659.7,280.9 L1657.4,282.0 L1655.5,283.7 L1652.9,284.3 L1650.8,285.8 L1648.9,287.4 L1646.7,288.7 L1644.7,289.8 L1643.0,291.5 L1641.0,292.6 L1638.7,293.0 L1636.7,294.2 L1634.5,294.9 L1632.7,296.3 L1631.0,297.9 L1628.9,298.8 L1626.6,299.4 L1624.8,300.8 L1623.1,302.5 L1620.8,303.0 L1618.6,303.8 L1616.6,305.0 L1615.1,307.1 L1612.8,307.7 L1610.9,309.1 L1608.6,309.8 L1606.9,311.6 L1605.0,312.9 L1602.8,313.7 L1600.5,314.4 L1599.1,316.6 L1597.1,317.8 L1594.8,318.5 L1592.6,319.3 L1590.3,320.0 L1588.3,321.4 L1586.2,322.5 L1583.8,322.9 L1581.7,324.0 L1579.9,325.9 L1577.3,325.8 L1575.6,327.7 L1573.3,328.5 L1570.9,328.8 L1568.9,330.2 L1566.9,331.2 L1564.6,331.7 L1562.8,333.4 L1560.3,333.4 L1558.7,335.3 L1556.6,336.2 L1554.3,336.7 L1552.3,337.8 L1550.1,338.5 L1547.8,339.0 L1545.8,340.1 L1544.2,342.0 L1541.9,342.5 L1539.7,343.2 L1537.7,342.1 L1535.7,341.2 L1533.9,339.9 L1531.8,339.1 L1529.5,338.6 L1527.6,337.4 L1526.1,335.6 L1523.8,335.2 L1522.0,333.7 L1520.2,332.4 L1518.0,331.8 L1516.0,330.7 L1514.0,329.8 L1511.8,329.1 L1510.2,327.4 L1508.0,326.9 L1506.3,325.3 L1503.9,325.1 L1502.3,323.4 L1500.2,322.4 L1498.2,321.6 L1496.1,320.8 L1493.9,320.2 L1492.3,318.4 L1490.1,317.9 L1488.3,316.5 L1486.0,316.1 L1483.9,315.1 L1482.0,314.1 L1480.4,312.2 L1478.1,312.0 L1476.5,310.0 L1474.2,309.7 L1472.4,308.4 L1470.2,307.7 L1468.4,306.3 L1466.1,305.9 L1464.3,304.5 L1462.7,302.9 L1460.2,302.8 L1458.5,301.2 L1456.4,300.6 L1454.4,299.6 Z" fill="url(#wpat)"/>
<clipPath id="wc_p4"><path d="M1452.5,298.3 L1454.3,297.0 L1456.2,295.8 L1458.4,295.2 L1460.2,293.9 L1462.1,292.8 L1464.3,292.2 L1466.6,291.9 L1468.5,290.7 L1470.5,289.7 L1472.1,288.0 L1474.3,287.4 L1476.1,286.1 L1478.0,285.0 L1479.9,283.9 L1482.0,283.0 L1484.4,282.9 L1486.3,281.8 L1488.3,280.8 L1490.3,279.8 L1491.9,278.0 L1493.9,277.2 L1496.1,276.6 L1498.1,275.7 L1500.2,274.9 L1502.2,273.9 L1503.6,271.9 L1505.9,271.6 L1508.0,270.7 L1509.8,269.5 L1511.6,268.1 L1513.8,267.4 L1515.5,266.0 L1518.0,266.0 L1520.0,265.0 L1521.7,263.5 L1523.8,262.6 L1525.7,261.3 L1528.2,261.1 L1530.1,259.7 L1532.3,259.1 L1534.4,258.0 L1536.3,256.6 L1538.3,255.5 L1540.5,254.8 L1542.5,253.6 L1544.4,252.3 L1546.7,251.7 L1548.4,250.2 L1550.6,249.5 L1551.9,247.4 L1553.7,246.1 L1556.0,245.5 L1557.6,243.8 L1559.6,242.8 L1561.4,241.5 L1563.2,240.1 L1565.5,239.5 L1566.7,237.3 L1568.7,236.3 L1570.4,234.8 L1572.6,234.0 L1574.2,232.3 L1576.1,231.2 L1578.2,230.3 L1579.7,228.6 L1581.7,227.5 L1584.0,226.9 L1586.4,226.6 L1588.3,224.8 L1590.6,224.0 L1592.9,223.5 L1595.4,223.5 L1597.7,222.6 L1599.8,221.3 L1602.1,220.7 L1604.3,219.8 L1606.7,219.5 L1608.6,218.4 L1610.3,216.8 L1612.7,216.6 L1614.8,215.8 L1616.8,214.8 L1618.6,213.5 L1620.7,212.7 L1622.1,210.5 L1624.2,209.8 L1626.6,209.6 L1628.4,208.3 L1630.1,206.8 L1632.5,206.4 L1634.2,205.0 L1636.3,204.2 L1637.9,202.5 L1640.0,201.7 L1641.8,200.2 L1644.0,199.3 L1645.8,197.8 L1647.9,196.9 L1650.4,196.4 L1651.9,194.5 L1653.7,192.9 L1655.7,191.8 L1657.8,190.8 L1660.3,190.4 L1662.0,188.7 L1663.9,187.4 L1665.8,186.0 L1668.4,185.9 L1670.0,184.1 L1672.1,183.0 L1674.5,183.7 L1676.7,184.6 L1678.9,185.7 L1681.1,186.9 L1682.9,188.7 L1685.4,189.1 L1687.7,190.0 L1689.6,191.7 L1691.8,192.8 L1694.2,193.7 L1696.0,195.7 L1698.8,195.8 L1700.7,197.4 L1703.0,198.5 L1704.8,199.9 L1707.0,200.4 L1708.6,202.1 L1710.9,202.5 L1713.0,203.2 L1714.9,204.5 L1717.1,205.0 L1718.8,206.5 L1720.9,207.3 L1722.4,209.1 L1724.4,210.0 L1726.6,210.6 L1728.9,211.1 L1730.7,212.3 L1732.7,213.3 L1734.7,214.3 L1736.6,215.3 L1738.2,217.1 L1740.6,217.3 L1742.7,218.1 L1744.1,220.3 L1746.3,220.8 L1748.0,222.3 L1750.3,222.6 L1752.0,224.3 L1754.1,225.0 L1756.0,226.1 L1758.0,227.1 L1760.1,227.8 L1758.2,228.8 L1756.5,230.4 L1754.5,231.3 L1752.1,231.5 L1750.4,233.0 L1748.1,233.7 L1746.1,234.9 L1744.5,236.8 L1742.3,237.6 L1740.2,238.6 L1738.3,240.0 L1736.2,241.0 L1734.4,242.5 L1732.4,243.5 L1730.3,244.7 L1728.7,246.4 L1726.2,246.8 L1724.5,248.5 L1722.2,249.0 L1720.8,251.2 L1718.2,251.2 L1716.2,252.3 L1714.4,253.8 L1712.9,255.7 L1710.3,255.7 L1708.8,257.8 L1706.3,257.8 L1704.5,259.3 L1702.9,261.1 L1700.8,262.1 L1698.6,262.8 L1696.4,263.6 L1694.2,264.7 L1692.0,265.4 L1689.7,266.2 L1687.9,268.0 L1685.9,269.3 L1683.2,269.1 L1681.5,271.2 L1678.9,271.1 L1677.2,273.0 L1674.6,273.1 L1672.6,274.5 L1670.3,275.2 L1668.1,276.2 L1666.1,277.6 L1663.8,278.3 L1662.0,280.2 L1659.7,280.9 L1657.4,282.0 L1655.5,283.7 L1652.9,284.3 L1650.8,285.8 L1648.9,287.4 L1646.7,288.7 L1644.7,289.8 L1643.0,291.5 L1641.0,292.6 L1638.7,293.0 L1636.7,294.2 L1634.5,294.9 L1632.7,296.3 L1631.0,297.9 L1628.9,298.8 L1626.6,299.4 L1624.8,300.8 L1623.1,302.5 L1620.8,303.0 L1618.6,303.8 L1616.6,305.0 L1615.1,307.1 L1612.8,307.7 L1610.9,309.1 L1608.6,309.8 L1606.9,311.6 L1605.0,312.9 L1602.8,313.7 L1600.5,314.4 L1599.1,316.6 L1597.1,317.8 L1594.8,318.5 L1592.6,319.3 L1590.3,320.0 L1588.3,321.4 L1586.2,322.5 L1583.8,322.9 L1581.7,324.0 L1579.9,325.9 L1577.3,325.8 L1575.6,327.7 L1573.3,328.5 L1570.9,328.8 L1568.9,330.2 L1566.9,331.2 L1564.6,331.7 L1562.8,333.4 L1560.3,333.4 L1558.7,335.3 L1556.6,336.2 L1554.3,336.7 L1552.3,337.8 L1550.1,338.5 L1547.8,339.0 L1545.8,340.1 L1544.2,342.0 L1541.9,342.5 L1539.7,343.2 L1537.7,342.1 L1535.7,341.2 L1533.9,339.9 L1531.8,339.1 L1529.5,338.6 L1527.6,337.4 L1526.1,335.6 L1523.8,335.2 L1522.0,333.7 L1520.2,332.4 L1518.0,331.8 L1516.0,330.7 L1514.0,329.8 L1511.8,329.1 L1510.2,327.4 L1508.0,326.9 L1506.3,325.3 L1503.9,325.1 L1502.3,323.4 L1500.2,322.4 L1498.2,321.6 L1496.1,320.8 L1493.9,320.2 L1492.3,318.4 L1490.1,317.9 L1488.3,316.5 L1486.0,316.1 L1483.9,315.1 L1482.0,314.1 L1480.4,312.2 L1478.1,312.0 L1476.5,310.0 L1474.2,309.7 L1472.4,308.4 L1470.2,307.7 L1468.4,306.3 L1466.1,305.9 L1464.3,304.5 L1462.7,302.9 L1460.2,302.8 L1458.5,301.2 L1456.4,300.6 L1454.4,299.6 Z"/></clipPath>
<g clip-path="url(#wc_p4)"><g transform="translate(0,-293)"><path d="M1692,484 L1706,481 L1705,497 L1701,510 L1707,526 L1697,531 L1684,529 L1676,524 L1684,512 L1689,498 Z" fill="#1d7f80" opacity="0.32"/><path d="M1691.5,481 L1707,479 L1705.5,490 L1702.5,500 L1698,507 L1692,507 L1688.5,499 L1690,490 Z" fill="#2fa5a5"/><path d="M1691.5,482 L1696.5,481 L1696,494 L1694.5,505 L1692,507 L1688.5,499 L1690,490 Z" fill="#1d7a7a" opacity="0.75"/><path d="M1703,483 L1706,482 L1703.5,495 L1700.5,501 L1700,495 Z" fill="#7fd8d8" opacity="0.6"/><ellipse cx="1697" cy="507" rx="6" ry="3" fill="#1d7a7a" opacity="0.45"/><ellipse cx="1688" cy="502" rx="2.5" ry="3.5" fill="#1b6e6e" opacity="0.55"/><ellipse cx="1690.5" cy="526" rx="3.5" ry="2.4" fill="#1b6e6e" opacity="0.55"/><ellipse cx="1700" cy="526" rx="3" ry="2.2" fill="#1b6e6e" opacity="0.5"/><ellipse cx="1677.3" cy="525" rx="2.2" ry="2" fill="#1b6e6e" opacity="0.5"/><ellipse cx="1673.7" cy="539.5" rx="2" ry="3" fill="#1b6e6e" opacity="0.5"/><ellipse cx="1694" cy="515" rx="2" ry="4" fill="#1b6e6e" opacity="0.35"/><path d="M1664,509 L1670,505.5" stroke="#9fe6e6" stroke-width="1.2" opacity="0.6"/></g></g>
<g filter="url(#blob)"><ellipse cx="1654" cy="290" rx="8" ry="5" transform="rotate(-25 1654 290)" fill="#34abab" stroke="#25898a" stroke-width="0.6"/><ellipse cx="1619.5" cy="307.5" rx="4.5" ry="2.3" transform="rotate(-15 1619.5 307.5)" fill="#34abab" stroke="#25898a" stroke-width="0.6"/><ellipse cx="1637" cy="311.4" rx="2" ry="3" transform="rotate(0 1637 311.4)" fill="#34abab" stroke="#25898a" stroke-width="0.6"/><ellipse cx="1651.2" cy="306.2" rx="2.8" ry="3" transform="rotate(0 1651.2 306.2)" fill="#34abab" stroke="#25898a" stroke-width="0.6"/><circle cx="1607.1" cy="314.7" r="1" fill="#34abab" stroke="#25898a" stroke-width="0.6"/></g>
<circle cx="1592.2" cy="266" r="12.4" fill="url(#ball)"/>
<g transform="translate(421,0)"><path d="M1293.9,144.2 L1313.3,132.2 L1323.9,158.3 L1301.1,171.7 Z" fill="#efeeed"/><path d="M1293.9,144.2 L1313.3,132.2 M1301.1,171.7 L1323.9,158.3" stroke="#9a9a9a" stroke-width="0.6" fill="none"/><ellipse cx="1319.4" cy="145.3" rx="9.2" ry="13.4" transform="rotate(-15 1319.4 145.3)" fill="none" stroke="#8a8a8a" stroke-width="0.7"/></g>
<path d="M1708.9,145.2 L1711.3,145.2 L1713.2,143.4 L1715.6,143.4 L1717.8,142.7 L1720.2,142.8 L1722.2,141.5 L1723.8,143.1 L1725.3,144.9 L1726.7,146.7 L1726.7,148.7 L1727.1,150.8 L1726.3,152.8 L1726.4,154.9 L1726.8,156.9 L1727.9,158.9 L1726.5,161.0 L1727.4,163.0 L1726.4,164.8 L1725.4,166.6 L1724.6,168.5 L1723.7,170.4 L1722.2,171.9 L1720.3,172.9 L1719.5,175.1 L1718.2,176.7 L1715.8,177.2 L1715.1,179.5 L1713.6,181.0 L1711.9,182.2 L1710.5,184.1 L1708.4,185.5 L1707.6,187.9 L1705.9,189.6 L1704.0,191.4 L1701.6,192.2 L1699.4,193.4 L1697.0,194.1 L1694.6,193.2 L1693.4,190.6 L1691.1,189.6 L1691.8,187.3 L1691.1,184.8 L1691.6,182.5 L1693.1,180.3 L1692.6,177.8 L1693.8,176.1 L1694.4,174.1 L1695.5,172.3 L1697.0,170.7 L1696.9,168.4 L1698.3,166.8 L1698.4,164.5 L1700.0,163.0 L1701.1,160.8 L1701.8,158.4 L1703.1,156.2 L1704.4,154.1 L1705.4,151.8 L1706.5,149.6 L1708.3,147.7 Z" fill="#2ea6a6" stroke="#237f7f" stroke-width="0.6" filter="url(#blob)"/>
<g transform="translate(421,0)"><path d="M1030.0,227.5 L1251.2,108.8 L1339.5,153.9 L1118.8,272.1 Z M1118.8,272.1 L1119.4,378.8 L1340.3,259.6 L1339.5,153.9 M1030.0,227.5 L1030.6,333.5 L1119.4,378.8" fill="none" stroke="#000" stroke-opacity="0.31" stroke-width="0.95" stroke-linejoin="round"/></g>
<g transform="translate(421,0)"><polygon points="1118.8,272.1 1339.5,153.9 1340.3,259.6 1119.4,378.8" fill="#e6e5e3" opacity="0.06"/></g>
<g transform="translate(421,0)"><g><text x="988.9" y="112.7" style="font-family:'Liberation Sans',sans-serif;font-size:7.9px" fill="#303030" stroke="#303030" stroke-width="0.28" stroke-opacity="0.6">Time Value = 0.75 [ s ]</text><text x="1370.4" y="111.10000000000001" style="font-family:'Liberation Sans',sans-serif;font-size:12.3px;font-weight:bold" fill="#111" stroke="#111" stroke-width="0.45" textLength="36.4" lengthAdjust="spacingAndGlyphs">&#923;nsys</text><text x="1406.8000000000002" y="118.9" text-anchor="end" style="font-family:'Liberation Sans',sans-serif;font-size:5.6px;font-weight:bold" fill="#222" stroke="#222" stroke-width="0.2">2024 R2</text></g><line x1="1376.5" y1="362" x2="1376.5" y2="350" stroke="#5a8a5a" stroke-width="1.8"/><path d="M1376.5,352 L1374.4,349 L1376.5,345.2 L1378.6,349 Z" fill="#1e8a1e"/><line x1="1376.5" y1="362" x2="1387.5" y2="356.4" stroke="#b04040" stroke-width="1.6"/><circle cx="1388.0" cy="356" r="1.8" fill="#a01818"/><circle cx="1391.0" cy="353.3" r="1.8" fill="#3cc8c8"/><line x1="1376.5" y1="362" x2="1386.5" y2="367.5" stroke="#404080" stroke-width="1.8"/><path d="M1385.0,365.4 L1389.5,369.6 L1385.5,370 Z" fill="#1010c0"/><text x="1394.0" y="355" text-anchor="middle" style="font-family:'Liberation Sans',sans-serif;font-size:4.5px" fill="#c06060">x</text><text x="1376.7" y="342.7" text-anchor="middle" style="font-family:'Liberation Sans',sans-serif;font-size:5px" fill="#5f955f">y</text><text x="1394.5" y="372.8" text-anchor="middle" style="font-family:'Liberation Sans',sans-serif;font-size:4.8px" fill="#4040a0">z</text></g>
<clipPath id="tc_p7"><polygon points="1030.0,523.9 1251.2,405.2 1339.5,450.3 1118.8,568.5"/></clipPath>
<g transform="translate(0,296.4)"><polygon points="1030.0,227.5 1251.2,108.8 1339.5,153.9 1340.3,259.6 1119.4,378.8 1030.6,333.5" fill="#e6e5e3"/><polygon points="1030.0,227.5 1251.2,108.8 1339.5,153.9 1118.8,272.1" fill="#f0efed"/><path d="M1030.6,333.5 L1251.8,214.8 L1340.3,259.6 M1251.8,214.8 L1251.2,108.8" fill="none" stroke="#000" stroke-opacity="0.33" stroke-width="0.9"/></g>
<path d="M1031.7,586.7 L1033.6,585.5 L1035.5,584.4 L1037.8,584.1 L1039.5,582.4 L1041.7,582.1 L1043.6,580.9 L1045.5,579.6 L1047.7,579.2 L1049.5,577.7 L1051.7,577.2 L1053.5,575.8 L1055.5,574.9 L1057.7,574.4 L1059.9,574.0 L1061.5,572.2 L1063.6,571.3 L1065.8,570.9 L1068.0,570.4 L1069.8,569.0 L1071.7,567.8 L1074.0,567.6 L1075.5,565.5 L1078.0,565.6 L1079.7,563.9 L1081.6,562.8 L1083.6,561.8 L1085.7,561.1 L1088.0,560.9 L1089.6,559.1 L1091.8,558.7 L1093.9,557.8 L1095.8,556.7 L1097.8,555.6 L1100.1,555.0 L1101.9,553.4 L1104.0,552.5 L1106.2,551.8 L1108.6,551.5 L1110.6,550.3 L1112.6,549.3 L1114.9,548.7 L1116.9,547.6 L1119.0,546.5 L1121.3,546.3 L1123.3,545.0 L1125.4,544.2 L1127.1,542.7 L1129.3,542.1 L1131.3,541.0 L1133.5,540.5 L1135.4,539.3 L1137.2,537.7 L1139.6,537.6 L1141.1,535.5 L1143.2,534.9 L1145.5,534.3 L1147.1,532.6 L1149.3,532.0 L1151.0,530.4 L1153.3,530.0 L1155.4,529.0 L1157.4,528.0 L1159.2,526.5 L1161.4,525.7 L1162.9,523.9 L1165.1,523.2 L1167.0,521.9 L1168.9,520.7 L1170.8,519.3 L1173.0,518.6 L1175.0,517.6 L1176.6,515.8 L1178.7,514.9 L1180.2,513.0 L1182.6,512.6 L1184.5,511.3 L1186.7,510.5 L1188.6,509.2 L1190.1,507.3 L1192.1,506.3 L1194.3,505.4 L1195.8,503.5 L1198.0,502.8 L1200.0,501.7 L1201.8,500.2 L1203.7,499.0 L1205.7,497.9 L1208.1,497.7 L1209.7,495.8 L1211.8,494.8 L1213.8,493.9 L1216.2,493.4 L1217.6,491.4 L1219.9,490.7 L1221.9,489.7 L1224.1,489.1 L1226.1,487.9 L1228.1,486.9 L1229.7,485.0 L1231.8,484.1 L1233.7,483.0 L1236.1,482.5 L1238.1,481.5 L1239.5,479.4 L1241.5,478.4 L1243.6,477.3 L1245.6,476.2 L1247.7,475.5 L1249.8,474.5 L1251.7,473.3 L1253.9,474.1 L1256.0,474.9 L1257.7,476.4 L1259.8,477.5 L1261.6,478.8 L1263.4,480.4 L1265.5,481.1 L1267.6,482.0 L1269.6,483.2 L1271.5,484.3 L1273.9,484.7 L1275.4,486.8 L1277.4,487.7 L1279.4,488.9 L1281.4,489.9 L1283.7,490.5 L1285.6,491.7 L1287.8,493.0 L1290.1,494.0 L1291.7,496.0 L1293.9,497.2 L1296.3,497.6 L1298.5,498.5 L1300.5,499.6 L1302.7,500.5 L1304.8,501.7 L1307.1,502.2 L1309.3,503.1 L1311.3,504.2 L1313.3,505.6 L1315.6,506.1 L1317.4,507.4 L1319.7,508.0 L1321.2,510.1 L1323.4,510.7 L1325.7,511.2 L1327.7,512.3 L1329.6,513.4 L1331.7,514.4 L1333.8,515.1 L1335.4,517.0 L1337.4,518.2 L1339.7,518.6 L1337.4,520.2 L1335.1,521.8 L1332.8,523.3 L1331.0,525.0 L1328.9,526.3 L1326.6,527.2 L1324.4,528.3 L1322.5,529.5 L1320.1,529.7 L1318.4,531.5 L1316.4,532.6 L1313.8,532.3 L1311.9,533.7 L1310.1,535.1 L1307.8,535.6 L1305.0,537.2 L1302.2,538.9 L1300.6,540.7 L1298.3,541.4 L1296.0,542.1 L1294.2,543.5 L1292.4,544.9 L1290.8,546.7 L1288.7,547.8 L1286.7,548.9 L1284.8,550.3 L1282.4,550.5 L1280.4,551.8 L1278.2,552.4 L1276.4,554.0 L1274.3,555.1 L1271.9,555.3 L1270.0,556.7 L1267.5,557.3 L1265.3,558.7 L1263.1,560.0 L1260.9,561.2 L1258.9,562.8 L1256.9,563.8 L1255.5,565.7 L1253.4,566.7 L1251.8,568.2 L1250.2,569.9 L1248.4,571.2 L1246.4,572.2 L1244.4,573.3 L1242.5,574.6 L1240.3,575.0 L1238.1,575.7 L1236.4,577.3 L1234.1,577.7 L1232.1,578.6 L1230.4,580.2 L1227.7,580.1 L1225.2,581.4 L1222.7,582.1 L1220.0,582.2 L1218.1,584.2 L1215.9,586.0 L1213.5,587.4 L1211.8,589.0 L1209.6,589.7 L1207.4,590.6 L1205.6,591.8 L1203.9,593.5 L1201.9,594.5 L1199.8,595.5 L1198.4,597.6 L1196.1,598.1 L1194.3,599.5 L1191.9,599.8 L1189.8,600.9 L1187.6,601.8 L1185.5,603.0 L1183.5,604.3 L1181.0,604.4 L1179.1,605.8 L1176.6,606.1 L1174.3,606.7 L1172.4,608.4 L1170.2,609.1 L1168.1,610.1 L1165.6,610.3 L1163.5,611.4 L1161.6,613.0 L1159.4,613.9 L1157.2,614.8 L1154.7,614.7 L1152.5,615.7 L1150.7,617.4 L1148.1,617.4 L1146.1,618.7 L1143.7,619.1 L1141.7,620.5 L1139.8,621.8 L1137.5,622.5 L1135.7,624.1 L1133.6,625.2 L1130.9,624.9 L1129.0,626.3 L1126.9,627.5 L1124.5,627.9 L1122.7,629.5 L1120.3,629.9 L1118.4,631.4 L1116.6,630.0 L1114.3,629.7 L1112.3,628.7 L1110.4,627.6 L1108.4,626.6 L1106.6,625.2 L1104.5,624.6 L1102.6,623.4 L1100.4,622.7 L1099.0,620.7 L1096.6,620.4 L1094.7,619.3 L1092.8,618.1 L1091.1,616.7 L1088.8,616.3 L1087.1,614.6 L1084.9,614.1 L1083.0,613.1 L1081.0,612.1 L1078.7,611.7 L1077.0,610.1 L1074.8,609.4 L1072.8,608.7 L1071.3,606.6 L1068.9,606.4 L1067.2,605.0 L1065.3,603.7 L1063.3,602.9 L1061.1,602.2 L1059.3,600.9 L1057.4,599.8 L1055.5,598.5 L1053.1,598.4 L1051.4,596.8 L1049.3,596.2 L1047.3,595.1 L1045.7,593.5 L1043.5,592.8 L1041.6,591.7 L1039.7,590.4 L1037.9,589.2 L1035.6,588.8 L1033.7,587.6 Z" fill="#36b2b2"/><g clip-path="url(#tc_p7)"><path d="M1031.7,586.7 L1033.6,585.5 L1035.5,584.4 L1037.8,584.1 L1039.5,582.4 L1041.7,582.1 L1043.6,580.9 L1045.5,579.6 L1047.7,579.2 L1049.5,577.7 L1051.7,577.2 L1053.5,575.8 L1055.5,574.9 L1057.7,574.4 L1059.9,574.0 L1061.5,572.2 L1063.6,571.3 L1065.8,570.9 L1068.0,570.4 L1069.8,569.0 L1071.7,567.8 L1074.0,567.6 L1075.5,565.5 L1078.0,565.6 L1079.7,563.9 L1081.6,562.8 L1083.6,561.8 L1085.7,561.1 L1088.0,560.9 L1089.6,559.1 L1091.8,558.7 L1093.9,557.8 L1095.8,556.7 L1097.8,555.6 L1100.1,555.0 L1101.9,553.4 L1104.0,552.5 L1106.2,551.8 L1108.6,551.5 L1110.6,550.3 L1112.6,549.3 L1114.9,548.7 L1116.9,547.6 L1119.0,546.5 L1121.3,546.3 L1123.3,545.0 L1125.4,544.2 L1127.1,542.7 L1129.3,542.1 L1131.3,541.0 L1133.5,540.5 L1135.4,539.3 L1137.2,537.7 L1139.6,537.6 L1141.1,535.5 L1143.2,534.9 L1145.5,534.3 L1147.1,532.6 L1149.3,532.0 L1151.0,530.4 L1153.3,530.0 L1155.4,529.0 L1157.4,528.0 L1159.2,526.5 L1161.4,525.7 L1162.9,523.9 L1165.1,523.2 L1167.0,521.9 L1168.9,520.7 L1170.8,519.3 L1173.0,518.6 L1175.0,517.6 L1176.6,515.8 L1178.7,514.9 L1180.2,513.0 L1182.6,512.6 L1184.5,511.3 L1186.7,510.5 L1188.6,509.2 L1190.1,507.3 L1192.1,506.3 L1194.3,505.4 L1195.8,503.5 L1198.0,502.8 L1200.0,501.7 L1201.8,500.2 L1203.7,499.0 L1205.7,497.9 L1208.1,497.7 L1209.7,495.8 L1211.8,494.8 L1213.8,493.9 L1216.2,493.4 L1217.6,491.4 L1219.9,490.7 L1221.9,489.7 L1224.1,489.1 L1226.1,487.9 L1228.1,486.9 L1229.7,485.0 L1231.8,484.1 L1233.7,483.0 L1236.1,482.5 L1238.1,481.5 L1239.5,479.4 L1241.5,478.4 L1243.6,477.3 L1245.6,476.2 L1247.7,475.5 L1249.8,474.5 L1251.7,473.3 L1253.9,474.1 L1256.0,474.9 L1257.7,476.4 L1259.8,477.5 L1261.6,478.8 L1263.4,480.4 L1265.5,481.1 L1267.6,482.0 L1269.6,483.2 L1271.5,484.3 L1273.9,484.7 L1275.4,486.8 L1277.4,487.7 L1279.4,488.9 L1281.4,489.9 L1283.7,490.5 L1285.6,491.7 L1287.8,493.0 L1290.1,494.0 L1291.7,496.0 L1293.9,497.2 L1296.3,497.6 L1298.5,498.5 L1300.5,499.6 L1302.7,500.5 L1304.8,501.7 L1307.1,502.2 L1309.3,503.1 L1311.3,504.2 L1313.3,505.6 L1315.6,506.1 L1317.4,507.4 L1319.7,508.0 L1321.2,510.1 L1323.4,510.7 L1325.7,511.2 L1327.7,512.3 L1329.6,513.4 L1331.7,514.4 L1333.8,515.1 L1335.4,517.0 L1337.4,518.2 L1339.7,518.6 L1337.4,520.2 L1335.1,521.8 L1332.8,523.3 L1331.0,525.0 L1328.9,526.3 L1326.6,527.2 L1324.4,528.3 L1322.5,529.5 L1320.1,529.7 L1318.4,531.5 L1316.4,532.6 L1313.8,532.3 L1311.9,533.7 L1310.1,535.1 L1307.8,535.6 L1305.0,537.2 L1302.2,538.9 L1300.6,540.7 L1298.3,541.4 L1296.0,542.1 L1294.2,543.5 L1292.4,544.9 L1290.8,546.7 L1288.7,547.8 L1286.7,548.9 L1284.8,550.3 L1282.4,550.5 L1280.4,551.8 L1278.2,552.4 L1276.4,554.0 L1274.3,555.1 L1271.9,555.3 L1270.0,556.7 L1267.5,557.3 L1265.3,558.7 L1263.1,560.0 L1260.9,561.2 L1258.9,562.8 L1256.9,563.8 L1255.5,565.7 L1253.4,566.7 L1251.8,568.2 L1250.2,569.9 L1248.4,571.2 L1246.4,572.2 L1244.4,573.3 L1242.5,574.6 L1240.3,575.0 L1238.1,575.7 L1236.4,577.3 L1234.1,577.7 L1232.1,578.6 L1230.4,580.2 L1227.7,580.1 L1225.2,581.4 L1222.7,582.1 L1220.0,582.2 L1218.1,584.2 L1215.9,586.0 L1213.5,587.4 L1211.8,589.0 L1209.6,589.7 L1207.4,590.6 L1205.6,591.8 L1203.9,593.5 L1201.9,594.5 L1199.8,595.5 L1198.4,597.6 L1196.1,598.1 L1194.3,599.5 L1191.9,599.8 L1189.8,600.9 L1187.6,601.8 L1185.5,603.0 L1183.5,604.3 L1181.0,604.4 L1179.1,605.8 L1176.6,606.1 L1174.3,606.7 L1172.4,608.4 L1170.2,609.1 L1168.1,610.1 L1165.6,610.3 L1163.5,611.4 L1161.6,613.0 L1159.4,613.9 L1157.2,614.8 L1154.7,614.7 L1152.5,615.7 L1150.7,617.4 L1148.1,617.4 L1146.1,618.7 L1143.7,619.1 L1141.7,620.5 L1139.8,621.8 L1137.5,622.5 L1135.7,624.1 L1133.6,625.2 L1130.9,624.9 L1129.0,626.3 L1126.9,627.5 L1124.5,627.9 L1122.7,629.5 L1120.3,629.9 L1118.4,631.4 L1116.6,630.0 L1114.3,629.7 L1112.3,628.7 L1110.4,627.6 L1108.4,626.6 L1106.6,625.2 L1104.5,624.6 L1102.6,623.4 L1100.4,622.7 L1099.0,620.7 L1096.6,620.4 L1094.7,619.3 L1092.8,618.1 L1091.1,616.7 L1088.8,616.3 L1087.1,614.6 L1084.9,614.1 L1083.0,613.1 L1081.0,612.1 L1078.7,611.7 L1077.0,610.1 L1074.8,609.4 L1072.8,608.7 L1071.3,606.6 L1068.9,606.4 L1067.2,605.0 L1065.3,603.7 L1063.3,602.9 L1061.1,602.2 L1059.3,600.9 L1057.4,599.8 L1055.5,598.5 L1053.1,598.4 L1051.4,596.8 L1049.3,596.2 L1047.3,595.1 L1045.7,593.5 L1043.5,592.8 L1041.6,591.7 L1039.7,590.4 L1037.9,589.2 L1035.6,588.8 L1033.7,587.6 Z" fill="#22b9bc"/></g><path d="M1031.7,586.7 L1033.6,585.5 L1035.5,584.4 L1037.8,584.1 L1039.5,582.4 L1041.7,582.1 L1043.6,580.9 L1045.5,579.6 L1047.7,579.2 L1049.5,577.7 L1051.7,577.2 L1053.5,575.8 L1055.5,574.9 L1057.7,574.4 L1059.9,574.0 L1061.5,572.2 L1063.6,571.3 L1065.8,570.9 L1068.0,570.4 L1069.8,569.0 L1071.7,567.8 L1074.0,567.6 L1075.5,565.5 L1078.0,565.6 L1079.7,563.9 L1081.6,562.8 L1083.6,561.8 L1085.7,561.1 L1088.0,560.9 L1089.6,559.1 L1091.8,558.7 L1093.9,557.8 L1095.8,556.7 L1097.8,555.6 L1100.1,555.0 L1101.9,553.4 L1104.0,552.5 L1106.2,551.8 L1108.6,551.5 L1110.6,550.3 L1112.6,549.3 L1114.9,548.7 L1116.9,547.6 L1119.0,546.5 L1121.3,546.3 L1123.3,545.0 L1125.4,544.2 L1127.1,542.7 L1129.3,542.1 L1131.3,541.0 L1133.5,540.5 L1135.4,539.3 L1137.2,537.7 L1139.6,537.6 L1141.1,535.5 L1143.2,534.9 L1145.5,534.3 L1147.1,532.6 L1149.3,532.0 L1151.0,530.4 L1153.3,530.0 L1155.4,529.0 L1157.4,528.0 L1159.2,526.5 L1161.4,525.7 L1162.9,523.9 L1165.1,523.2 L1167.0,521.9 L1168.9,520.7 L1170.8,519.3 L1173.0,518.6 L1175.0,517.6 L1176.6,515.8 L1178.7,514.9 L1180.2,513.0 L1182.6,512.6 L1184.5,511.3 L1186.7,510.5 L1188.6,509.2 L1190.1,507.3 L1192.1,506.3 L1194.3,505.4 L1195.8,503.5 L1198.0,502.8 L1200.0,501.7 L1201.8,500.2 L1203.7,499.0 L1205.7,497.9 L1208.1,497.7 L1209.7,495.8 L1211.8,494.8 L1213.8,493.9 L1216.2,493.4 L1217.6,491.4 L1219.9,490.7 L1221.9,489.7 L1224.1,489.1 L1226.1,487.9 L1228.1,486.9 L1229.7,485.0 L1231.8,484.1 L1233.7,483.0 L1236.1,482.5 L1238.1,481.5 L1239.5,479.4 L1241.5,478.4 L1243.6,477.3 L1245.6,476.2 L1247.7,475.5 L1249.8,474.5 L1251.7,473.3 L1253.9,474.1 L1256.0,474.9 L1257.7,476.4 L1259.8,477.5 L1261.6,478.8 L1263.4,480.4 L1265.5,481.1 L1267.6,482.0 L1269.6,483.2 L1271.5,484.3 L1273.9,484.7 L1275.4,486.8 L1277.4,487.7 L1279.4,488.9 L1281.4,489.9 L1283.7,490.5 L1285.6,491.7 L1287.8,493.0 L1290.1,494.0 L1291.7,496.0 L1293.9,497.2 L1296.3,497.6 L1298.5,498.5 L1300.5,499.6 L1302.7,500.5 L1304.8,501.7 L1307.1,502.2 L1309.3,503.1 L1311.3,504.2 L1313.3,505.6 L1315.6,506.1 L1317.4,507.4 L1319.7,508.0 L1321.2,510.1 L1323.4,510.7 L1325.7,511.2 L1327.7,512.3 L1329.6,513.4 L1331.7,514.4 L1333.8,515.1 L1335.4,517.0 L1337.4,518.2 L1339.7,518.6 L1337.4,520.2 L1335.1,521.8 L1332.8,523.3 L1331.0,525.0 L1328.9,526.3 L1326.6,527.2 L1324.4,528.3 L1322.5,529.5 L1320.1,529.7 L1318.4,531.5 L1316.4,532.6 L1313.8,532.3 L1311.9,533.7 L1310.1,535.1 L1307.8,535.6 L1305.0,537.2 L1302.2,538.9 L1300.6,540.7 L1298.3,541.4 L1296.0,542.1 L1294.2,543.5 L1292.4,544.9 L1290.8,546.7 L1288.7,547.8 L1286.7,548.9 L1284.8,550.3 L1282.4,550.5 L1280.4,551.8 L1278.2,552.4 L1276.4,554.0 L1274.3,555.1 L1271.9,555.3 L1270.0,556.7 L1267.5,557.3 L1265.3,558.7 L1263.1,560.0 L1260.9,561.2 L1258.9,562.8 L1256.9,563.8 L1255.5,565.7 L1253.4,566.7 L1251.8,568.2 L1250.2,569.9 L1248.4,571.2 L1246.4,572.2 L1244.4,573.3 L1242.5,574.6 L1240.3,575.0 L1238.1,575.7 L1236.4,577.3 L1234.1,577.7 L1232.1,578.6 L1230.4,580.2 L1227.7,580.1 L1225.2,581.4 L1222.7,582.1 L1220.0,582.2 L1218.1,584.2 L1215.9,586.0 L1213.5,587.4 L1211.8,589.0 L1209.6,589.7 L1207.4,590.6 L1205.6,591.8 L1203.9,593.5 L1201.9,594.5 L1199.8,595.5 L1198.4,597.6 L1196.1,598.1 L1194.3,599.5 L1191.9,599.8 L1189.8,600.9 L1187.6,601.8 L1185.5,603.0 L1183.5,604.3 L1181.0,604.4 L1179.1,605.8 L1176.6,606.1 L1174.3,606.7 L1172.4,608.4 L1170.2,609.1 L1168.1,610.1 L1165.6,610.3 L1163.5,611.4 L1161.6,613.0 L1159.4,613.9 L1157.2,614.8 L1154.7,614.7 L1152.5,615.7 L1150.7,617.4 L1148.1,617.4 L1146.1,618.7 L1143.7,619.1 L1141.7,620.5 L1139.8,621.8 L1137.5,622.5 L1135.7,624.1 L1133.6,625.2 L1130.9,624.9 L1129.0,626.3 L1126.9,627.5 L1124.5,627.9 L1122.7,629.5 L1120.3,629.9 L1118.4,631.4 L1116.6,630.0 L1114.3,629.7 L1112.3,628.7 L1110.4,627.6 L1108.4,626.6 L1106.6,625.2 L1104.5,624.6 L1102.6,623.4 L1100.4,622.7 L1099.0,620.7 L1096.6,620.4 L1094.7,619.3 L1092.8,618.1 L1091.1,616.7 L1088.8,616.3 L1087.1,614.6 L1084.9,614.1 L1083.0,613.1 L1081.0,612.1 L1078.7,611.7 L1077.0,610.1 L1074.8,609.4 L1072.8,608.7 L1071.3,606.6 L1068.9,606.4 L1067.2,605.0 L1065.3,603.7 L1063.3,602.9 L1061.1,602.2 L1059.3,600.9 L1057.4,599.8 L1055.5,598.5 L1053.1,598.4 L1051.4,596.8 L1049.3,596.2 L1047.3,595.1 L1045.7,593.5 L1043.5,592.8 L1041.6,591.7 L1039.7,590.4 L1037.9,589.2 L1035.6,588.8 L1033.7,587.6 Z" fill="url(#wpat)"/>
<clipPath id="wc_p7"><path d="M1031.7,586.7 L1033.6,585.5 L1035.5,584.4 L1037.8,584.1 L1039.5,582.4 L1041.7,582.1 L1043.6,580.9 L1045.5,579.6 L1047.7,579.2 L1049.5,577.7 L1051.7,577.2 L1053.5,575.8 L1055.5,574.9 L1057.7,574.4 L1059.9,574.0 L1061.5,572.2 L1063.6,571.3 L1065.8,570.9 L1068.0,570.4 L1069.8,569.0 L1071.7,567.8 L1074.0,567.6 L1075.5,565.5 L1078.0,565.6 L1079.7,563.9 L1081.6,562.8 L1083.6,561.8 L1085.7,561.1 L1088.0,560.9 L1089.6,559.1 L1091.8,558.7 L1093.9,557.8 L1095.8,556.7 L1097.8,555.6 L1100.1,555.0 L1101.9,553.4 L1104.0,552.5 L1106.2,551.8 L1108.6,551.5 L1110.6,550.3 L1112.6,549.3 L1114.9,548.7 L1116.9,547.6 L1119.0,546.5 L1121.3,546.3 L1123.3,545.0 L1125.4,544.2 L1127.1,542.7 L1129.3,542.1 L1131.3,541.0 L1133.5,540.5 L1135.4,539.3 L1137.2,537.7 L1139.6,537.6 L1141.1,535.5 L1143.2,534.9 L1145.5,534.3 L1147.1,532.6 L1149.3,532.0 L1151.0,530.4 L1153.3,530.0 L1155.4,529.0 L1157.4,528.0 L1159.2,526.5 L1161.4,525.7 L1162.9,523.9 L1165.1,523.2 L1167.0,521.9 L1168.9,520.7 L1170.8,519.3 L1173.0,518.6 L1175.0,517.6 L1176.6,515.8 L1178.7,514.9 L1180.2,513.0 L1182.6,512.6 L1184.5,511.3 L1186.7,510.5 L1188.6,509.2 L1190.1,507.3 L1192.1,506.3 L1194.3,505.4 L1195.8,503.5 L1198.0,502.8 L1200.0,501.7 L1201.8,500.2 L1203.7,499.0 L1205.7,497.9 L1208.1,497.7 L1209.7,495.8 L1211.8,494.8 L1213.8,493.9 L1216.2,493.4 L1217.6,491.4 L1219.9,490.7 L1221.9,489.7 L1224.1,489.1 L1226.1,487.9 L1228.1,486.9 L1229.7,485.0 L1231.8,484.1 L1233.7,483.0 L1236.1,482.5 L1238.1,481.5 L1239.5,479.4 L1241.5,478.4 L1243.6,477.3 L1245.6,476.2 L1247.7,475.5 L1249.8,474.5 L1251.7,473.3 L1253.9,474.1 L1256.0,474.9 L1257.7,476.4 L1259.8,477.5 L1261.6,478.8 L1263.4,480.4 L1265.5,481.1 L1267.6,482.0 L1269.6,483.2 L1271.5,484.3 L1273.9,484.7 L1275.4,486.8 L1277.4,487.7 L1279.4,488.9 L1281.4,489.9 L1283.7,490.5 L1285.6,491.7 L1287.8,493.0 L1290.1,494.0 L1291.7,496.0 L1293.9,497.2 L1296.3,497.6 L1298.5,498.5 L1300.5,499.6 L1302.7,500.5 L1304.8,501.7 L1307.1,502.2 L1309.3,503.1 L1311.3,504.2 L1313.3,505.6 L1315.6,506.1 L1317.4,507.4 L1319.7,508.0 L1321.2,510.1 L1323.4,510.7 L1325.7,511.2 L1327.7,512.3 L1329.6,513.4 L1331.7,514.4 L1333.8,515.1 L1335.4,517.0 L1337.4,518.2 L1339.7,518.6 L1337.4,520.2 L1335.1,521.8 L1332.8,523.3 L1331.0,525.0 L1328.9,526.3 L1326.6,527.2 L1324.4,528.3 L1322.5,529.5 L1320.1,529.7 L1318.4,531.5 L1316.4,532.6 L1313.8,532.3 L1311.9,533.7 L1310.1,535.1 L1307.8,535.6 L1305.0,537.2 L1302.2,538.9 L1300.6,540.7 L1298.3,541.4 L1296.0,542.1 L1294.2,543.5 L1292.4,544.9 L1290.8,546.7 L1288.7,547.8 L1286.7,548.9 L1284.8,550.3 L1282.4,550.5 L1280.4,551.8 L1278.2,552.4 L1276.4,554.0 L1274.3,555.1 L1271.9,555.3 L1270.0,556.7 L1267.5,557.3 L1265.3,558.7 L1263.1,560.0 L1260.9,561.2 L1258.9,562.8 L1256.9,563.8 L1255.5,565.7 L1253.4,566.7 L1251.8,568.2 L1250.2,569.9 L1248.4,571.2 L1246.4,572.2 L1244.4,573.3 L1242.5,574.6 L1240.3,575.0 L1238.1,575.7 L1236.4,577.3 L1234.1,577.7 L1232.1,578.6 L1230.4,580.2 L1227.7,580.1 L1225.2,581.4 L1222.7,582.1 L1220.0,582.2 L1218.1,584.2 L1215.9,586.0 L1213.5,587.4 L1211.8,589.0 L1209.6,589.7 L1207.4,590.6 L1205.6,591.8 L1203.9,593.5 L1201.9,594.5 L1199.8,595.5 L1198.4,597.6 L1196.1,598.1 L1194.3,599.5 L1191.9,599.8 L1189.8,600.9 L1187.6,601.8 L1185.5,603.0 L1183.5,604.3 L1181.0,604.4 L1179.1,605.8 L1176.6,606.1 L1174.3,606.7 L1172.4,608.4 L1170.2,609.1 L1168.1,610.1 L1165.6,610.3 L1163.5,611.4 L1161.6,613.0 L1159.4,613.9 L1157.2,614.8 L1154.7,614.7 L1152.5,615.7 L1150.7,617.4 L1148.1,617.4 L1146.1,618.7 L1143.7,619.1 L1141.7,620.5 L1139.8,621.8 L1137.5,622.5 L1135.7,624.1 L1133.6,625.2 L1130.9,624.9 L1129.0,626.3 L1126.9,627.5 L1124.5,627.9 L1122.7,629.5 L1120.3,629.9 L1118.4,631.4 L1116.6,630.0 L1114.3,629.7 L1112.3,628.7 L1110.4,627.6 L1108.4,626.6 L1106.6,625.2 L1104.5,624.6 L1102.6,623.4 L1100.4,622.7 L1099.0,620.7 L1096.6,620.4 L1094.7,619.3 L1092.8,618.1 L1091.1,616.7 L1088.8,616.3 L1087.1,614.6 L1084.9,614.1 L1083.0,613.1 L1081.0,612.1 L1078.7,611.7 L1077.0,610.1 L1074.8,609.4 L1072.8,608.7 L1071.3,606.6 L1068.9,606.4 L1067.2,605.0 L1065.3,603.7 L1063.3,602.9 L1061.1,602.2 L1059.3,600.9 L1057.4,599.8 L1055.5,598.5 L1053.1,598.4 L1051.4,596.8 L1049.3,596.2 L1047.3,595.1 L1045.7,593.5 L1043.5,592.8 L1041.6,591.7 L1039.7,590.4 L1037.9,589.2 L1035.6,588.8 L1033.7,587.6 Z"/></clipPath>
<g clip-path="url(#wc_p7)"><g transform="translate(-421,-1.5)"><path d="M1692,484 L1706,481 L1705,497 L1701,510 L1707,526 L1697,531 L1684,529 L1676,524 L1684,512 L1689,498 Z" fill="#1d7f80" opacity="0.32"/><path d="M1691.5,481 L1707,479 L1705.5,490 L1702.5,500 L1698,507 L1692,507 L1688.5,499 L1690,490 Z" fill="#2fa5a5"/><path d="M1691.5,482 L1696.5,481 L1696,494 L1694.5,505 L1692,507 L1688.5,499 L1690,490 Z" fill="#1d7a7a" opacity="0.75"/><path d="M1703,483 L1706,482 L1703.5,495 L1700.5,501 L1700,495 Z" fill="#7fd8d8" opacity="0.6"/><ellipse cx="1697" cy="507" rx="6" ry="3" fill="#1d7a7a" opacity="0.45"/><ellipse cx="1688" cy="502" rx="2.5" ry="3.5" fill="#1b6e6e" opacity="0.55"/><ellipse cx="1690.5" cy="526" rx="3.5" ry="2.4" fill="#1b6e6e" opacity="0.55"/><ellipse cx="1700" cy="526" rx="3" ry="2.2" fill="#1b6e6e" opacity="0.5"/><ellipse cx="1677.3" cy="525" rx="2.2" ry="2" fill="#1b6e6e" opacity="0.5"/><ellipse cx="1673.7" cy="539.5" rx="2" ry="3" fill="#1b6e6e" opacity="0.5"/><ellipse cx="1694" cy="515" rx="2" ry="4" fill="#1b6e6e" opacity="0.35"/><path d="M1664,509 L1670,505.5" stroke="#9fe6e6" stroke-width="1.2" opacity="0.6"/></g></g>
<g filter="url(#blob)"><circle cx="1068.3" cy="617.5" r="2.4" fill="#34abab" stroke="#25898a" stroke-width="0.6"/><circle cx="1060.8" cy="635" r="1.6" fill="#34abab" stroke="#25898a" stroke-width="0.6"/><circle cx="1070" cy="636.7" r="1.6" fill="#34abab" stroke="#25898a" stroke-width="0.6"/><ellipse cx="1095.8" cy="620.8" rx="2" ry="1.5" transform="rotate(0 1095.8 620.8)" fill="#34abab" stroke="#25898a" stroke-width="0.6"/><ellipse cx="1110" cy="633.2" rx="2" ry="1.5" transform="rotate(0 1110 633.2)" fill="#34abab" stroke="#25898a" stroke-width="0.6"/><ellipse cx="1209.9" cy="595.8" rx="2.5" ry="3.5" transform="rotate(0 1209.9 595.8)" fill="#34abab" stroke="#25898a" stroke-width="0.6"/><ellipse cx="1192.5" cy="604.9" rx="4.5" ry="2.5" transform="rotate(-20 1192.5 604.9)" fill="#34abab" stroke="#25898a" stroke-width="0.6"/><circle cx="1169" cy="612.7" r="1.5" fill="#34abab" stroke="#25898a" stroke-width="0.6"/><circle cx="1184.6" cy="619.9" r="2.5" fill="#34abab" stroke="#25898a" stroke-width="0.6"/><ellipse cx="1130.5" cy="630.8" rx="3" ry="2" transform="rotate(0 1130.5 630.8)" fill="#34abab" stroke="#25898a" stroke-width="0.6"/><ellipse cx="1135.9" cy="642.2" rx="3" ry="2.4" transform="rotate(0 1135.9 642.2)" fill="#34abab" stroke="#25898a" stroke-width="0.6"/><ellipse cx="1125.7" cy="644.6" rx="3" ry="2" transform="rotate(0 1125.7 644.6)" fill="#34abab" stroke="#25898a" stroke-width="0.6"/><circle cx="1227.4" cy="581.4" r="1" fill="#34abab" stroke="#25898a" stroke-width="0.6"/><circle cx="1243.6" cy="574" r="3" fill="#34abab" stroke="#25898a" stroke-width="0.6"/></g>
<circle cx="1217.8" cy="518.5" r="12.1" fill="url(#ball)"/>
<g transform="translate(0,296.4)"><path d="M1293.9,144.2 L1313.3,132.2 L1323.9,158.3 L1301.1,171.7 Z" fill="#efeeed"/><path d="M1293.9,144.2 L1313.3,132.2 M1301.1,171.7 L1323.9,158.3" stroke="#9a9a9a" stroke-width="0.6" fill="none"/><ellipse cx="1319.4" cy="145.3" rx="9.2" ry="13.4" transform="rotate(-15 1319.4 145.3)" fill="none" stroke="#8a8a8a" stroke-width="0.7"/></g>
<path d="M1286.7,441.7 L1288.5,440.3 L1290.7,440.5 L1292.5,438.9 L1294.7,439.0 L1296.7,438.3 L1299.1,439.4 L1301.7,438.6 L1304.2,439.2 L1303.6,441.5 L1304.4,443.8 L1304.2,446.1 L1305.0,448.3 L1305.9,450.5 L1304.9,452.8 L1305.4,455.0 L1305.4,457.2 L1305.9,459.5 L1305.8,461.7 L1303.8,462.8 L1302.7,464.8 L1301.2,466.4 L1300.0,468.3 L1298.2,469.2 L1296.6,470.5 L1294.7,471.2 L1293.2,472.6 L1291.6,473.8 L1290.0,475.0 L1289.2,477.4 L1287.4,479.1 L1286.7,481.5 L1285.0,483.3 L1282.9,484.0 L1280.9,485.1 L1278.6,485.5 L1276.7,486.7 L1274.8,485.4 L1272.7,484.6 L1270.8,483.3 L1271.0,481.3 L1270.7,479.3 L1272.1,477.4 L1272.1,475.4 L1271.7,473.3 L1272.7,471.3 L1273.7,469.3 L1275.2,467.6 L1276.6,465.8 L1277.6,463.8 L1279.4,462.3 L1280.0,460.0 L1279.6,457.9 L1280.4,456.0 L1281.0,454.0 L1280.6,451.9 L1281.7,450.0 L1282.9,447.9 L1284.3,445.9 L1285.2,443.6 Z" fill="#2ea6a6" stroke="#237f7f" stroke-width="0.6" filter="url(#blob)"/>
<g transform="translate(0,296.4)"><path d="M1030.0,227.5 L1251.2,108.8 L1339.5,153.9 L1118.8,272.1 Z M1118.8,272.1 L1119.4,378.8 L1340.3,259.6 L1339.5,153.9 M1030.0,227.5 L1030.6,333.5 L1119.4,378.8" fill="none" stroke="#000" stroke-opacity="0.31" stroke-width="0.95" stroke-linejoin="round"/></g>
<g transform="translate(0,296.4)"><polygon points="1118.8,272.1 1339.5,153.9 1340.3,259.6 1119.4,378.8" fill="#e6e5e3" opacity="0.06"/></g>
<g transform="translate(0,296.4)"><g><text x="988.9" y="112.7" style="font-family:'Liberation Sans',sans-serif;font-size:7.9px" fill="#303030" stroke="#303030" stroke-width="0.28" stroke-opacity="0.6">Time Value = 2.2 [ s ]</text><text x="1370.4" y="111.10000000000001" style="font-family:'Liberation Sans',sans-serif;font-size:12.3px;font-weight:bold" fill="#111" stroke="#111" stroke-width="0.45" textLength="36.4" lengthAdjust="spacingAndGlyphs">&#923;nsys</text><text x="1406.8000000000002" y="118.9" text-anchor="end" style="font-family:'Liberation Sans',sans-serif;font-size:5.6px;font-weight:bold" fill="#222" stroke="#222" stroke-width="0.2">2024 R2</text></g><line x1="1376.5" y1="362" x2="1376.5" y2="350" stroke="#5a8a5a" stroke-width="1.8"/><path d="M1376.5,352 L1374.4,349 L1376.5,345.2 L1378.6,349 Z" fill="#1e8a1e"/><line x1="1376.5" y1="362" x2="1387.5" y2="356.4" stroke="#b04040" stroke-width="1.6"/><circle cx="1388.0" cy="356" r="1.8" fill="#a01818"/><circle cx="1391.0" cy="353.3" r="1.8" fill="#3cc8c8"/><line x1="1376.5" y1="362" x2="1386.5" y2="367.5" stroke="#404080" stroke-width="1.8"/><path d="M1385.0,365.4 L1389.5,369.6 L1385.5,370 Z" fill="#1010c0"/><text x="1394.0" y="355" text-anchor="middle" style="font-family:'Liberation Sans',sans-serif;font-size:4.5px" fill="#c06060">x</text><text x="1376.7" y="342.7" text-anchor="middle" style="font-family:'Liberation Sans',sans-serif;font-size:5px" fill="#5f955f">y</text><text x="1394.5" y="372.8" text-anchor="middle" style="font-family:'Liberation Sans',sans-serif;font-size:4.8px" fill="#4040a0">z</text></g>
<clipPath id="tc_p8"><polygon points="1451.0,523.9 1672.2,405.2 1760.5,450.3 1539.8,568.5"/></clipPath>
<g transform="translate(421,296.4)"><polygon points="1030.0,227.5 1251.2,108.8 1339.5,153.9 1340.3,259.6 1119.4,378.8 1030.6,333.5" fill="#e6e5e3"/><polygon points="1030.0,227.5 1251.2,108.8 1339.5,153.9 1118.8,272.1" fill="#f0efed"/><path d="M1030.6,333.5 L1251.8,214.8 L1340.3,259.6 M1251.8,214.8 L1251.2,108.8" fill="none" stroke="#000" stroke-opacity="0.33" stroke-width="0.9"/></g>
<path d="M1453.0,592.8 L1454.8,591.4 L1457.3,591.4 L1458.8,589.3 L1461.2,589.0 L1462.8,587.2 L1464.9,586.4 L1467.4,586.4 L1468.9,584.4 L1471.2,583.9 L1473.1,582.7 L1475.1,581.6 L1477.2,580.7 L1479.0,579.3 L1481.4,579.1 L1483.0,577.2 L1485.1,576.3 L1486.9,575.0 L1489.1,574.3 L1491.2,573.5 L1493.5,573.1 L1495.2,571.5 L1497.1,570.1 L1499.2,569.3 L1501.7,569.2 L1503.1,567.0 L1505.5,566.7 L1507.3,565.4 L1509.5,564.8 L1511.3,563.3 L1513.6,562.8 L1515.5,561.5 L1517.6,560.7 L1519.7,560.0 L1521.5,558.5 L1523.6,557.7 L1525.3,556.2 L1527.3,555.2 L1529.8,555.4 L1531.5,553.9 L1533.3,552.6 L1535.8,552.6 L1537.6,551.2 L1539.7,550.5 L1541.8,549.7 L1543.4,548.1 L1545.5,547.2 L1547.8,547.0 L1549.3,545.1 L1551.7,545.0 L1553.3,543.2 L1555.7,543.0 L1557.7,542.1 L1559.8,541.5 L1561.8,540.4 L1563.6,539.1 L1565.4,537.8 L1567.4,536.8 L1569.6,536.3 L1571.5,535.1 L1573.3,533.9 L1574.8,532.2 L1577.3,532.0 L1578.9,530.3 L1580.9,529.3 L1582.3,527.6 L1584.2,526.4 L1585.9,524.9 L1588.0,524.1 L1589.8,522.8 L1591.8,521.8 L1593.6,520.6 L1595.8,519.9 L1597.7,518.8 L1599.0,516.7 L1601.0,515.8 L1602.7,514.3 L1604.9,513.7 L1607.0,512.9 L1608.3,510.7 L1610.5,510.2 L1612.0,508.5 L1613.7,506.9 L1616.1,506.6 L1617.6,504.9 L1619.6,503.9 L1621.3,502.4 L1623.5,501.7 L1625.3,500.4 L1627.3,499.5 L1629.3,498.5 L1631.2,497.4 L1633.3,496.5 L1635.0,495.1 L1636.9,493.8 L1638.8,492.7 L1640.8,491.6 L1643.0,491.1 L1644.8,489.8 L1647.1,489.3 L1648.8,487.9 L1650.9,487.0 L1653.0,486.3 L1654.4,484.1 L1656.3,483.0 L1658.3,482.1 L1660.4,481.3 L1662.5,480.4 L1664.6,479.6 L1666.3,478.0 L1668.6,477.7 L1669.9,475.5 L1672.2,475.0 L1673.9,476.4 L1676.3,476.7 L1677.8,478.5 L1680.3,478.5 L1681.7,480.6 L1683.8,481.4 L1685.6,482.7 L1687.8,483.2 L1690.0,483.7 L1691.5,485.7 L1693.7,486.0 L1695.9,486.6 L1697.6,488.2 L1699.6,489.1 L1701.6,490.1 L1703.7,490.7 L1705.7,491.7 L1707.3,493.3 L1709.4,494.1 L1711.6,494.7 L1713.3,496.1 L1715.1,497.5 L1717.0,498.5 L1719.2,499.2 L1721.2,500.1 L1723.1,501.1 L1725.2,501.9 L1727.1,502.9 L1728.9,504.2 L1731.1,504.8 L1732.7,506.6 L1734.6,507.5 L1736.7,508.4 L1739.0,508.7 L1740.7,510.1 L1742.6,511.2 L1744.8,511.8 L1746.2,513.9 L1748.3,514.7 L1750.4,515.4 L1752.2,516.6 L1754.5,517.0 L1756.5,518.0 L1758.2,519.4 L1760.2,520.4 L1758.0,521.2 L1756.1,522.3 L1754.5,524.2 L1752.0,524.5 L1749.8,525.2 L1747.9,526.5 L1745.8,527.3 L1743.7,528.3 L1742.2,530.3 L1740.0,531.0 L1738.1,532.3 L1735.9,533.0 L1733.5,533.5 L1731.9,535.3 L1729.5,535.7 L1727.5,536.8 L1725.6,538.3 L1723.5,539.2 L1721.2,539.8 L1719.3,541.1 L1717.5,542.8 L1715.1,543.1 L1713.3,544.6 L1711.6,546.2 L1709.6,547.2 L1707.3,547.7 L1705.4,549.0 L1703.9,550.8 L1702.1,552.0 L1700.0,553.0 L1698.0,554.2 L1695.9,555.2 L1694.1,556.7 L1691.9,557.8 L1690.2,559.3 L1688.2,560.5 L1686.5,562.2 L1685.9,565.0 L1685.6,567.8 L1683.4,568.9 L1681.2,569.7 L1678.9,570.6 L1676.7,571.4 L1674.3,572.0 L1672.3,573.6 L1670.2,574.8 L1667.6,574.9 L1665.7,576.4 L1663.3,577.0 L1662.8,579.2 L1662.6,581.5 L1661.5,583.5 L1658.9,582.9 L1656.3,583.5 L1653.7,583.3 L1651.1,582.4 L1648.5,582.6 L1646.3,583.8 L1644.4,585.3 L1641.8,585.8 L1640.0,587.6 L1637.8,588.9 L1635.6,590.0 L1633.8,591.5 L1632.8,593.5 L1631.9,595.6 L1629.6,595.9 L1627.7,597.2 L1625.3,597.0 L1623.2,597.9 L1620.9,598.2 L1618.9,599.3 L1616.9,600.6 L1614.6,601.3 L1612.5,602.4 L1610.6,603.9 L1607.9,605.4 L1605.0,606.7 L1602.8,607.3 L1600.7,608.0 L1598.5,608.6 L1596.4,609.6 L1594.4,610.6 L1592.7,612.3 L1590.4,612.5 L1588.2,613.3 L1586.5,614.9 L1584.2,615.2 L1581.9,615.6 L1580.0,616.9 L1577.5,617.4 L1575.3,618.4 L1573.6,620.5 L1571.0,620.8 L1568.7,621.5 L1566.6,622.8 L1564.5,624.2 L1562.5,625.6 L1560.0,626.0 L1557.7,626.5 L1555.8,627.6 L1553.9,628.9 L1552.1,630.3 L1549.8,630.7 L1547.8,631.8 L1545.9,632.9 L1543.9,634.1 L1542.1,635.5 L1540.0,636.3 L1537.9,635.6 L1536.0,634.5 L1534.0,633.6 L1532.1,632.3 L1529.9,631.8 L1528.3,630.1 L1526.1,629.6 L1524.0,628.8 L1522.1,627.7 L1520.2,626.6 L1518.2,625.5 L1516.4,624.1 L1514.0,623.9 L1512.1,622.8 L1510.2,621.7 L1508.2,620.9 L1506.5,619.2 L1504.2,619.0 L1502.2,618.1 L1500.5,616.5 L1498.6,615.2 L1496.7,614.1 L1494.6,613.5 L1492.4,612.8 L1490.8,611.1 L1488.7,610.3 L1486.6,609.6 L1484.7,608.5 L1482.9,607.1 L1481.0,606.0 L1479.0,605.1 L1476.5,605.1 L1474.6,603.9 L1472.7,602.8 L1470.6,602.1 L1469.0,600.4 L1466.6,600.3 L1465.1,598.2 L1462.9,597.6 L1461.0,596.6 L1458.9,595.9 L1457.2,594.2 L1455.0,593.7 Z" fill="#36b2b2"/><g clip-path="url(#tc_p8)"><path d="M1453.0,592.8 L1454.8,591.4 L1457.3,591.4 L1458.8,589.3 L1461.2,589.0 L1462.8,587.2 L1464.9,586.4 L1467.4,586.4 L1468.9,584.4 L1471.2,583.9 L1473.1,582.7 L1475.1,581.6 L1477.2,580.7 L1479.0,579.3 L1481.4,579.1 L1483.0,577.2 L1485.1,576.3 L1486.9,575.0 L1489.1,574.3 L1491.2,573.5 L1493.5,573.1 L1495.2,571.5 L1497.1,570.1 L1499.2,569.3 L1501.7,569.2 L1503.1,567.0 L1505.5,566.7 L1507.3,565.4 L1509.5,564.8 L1511.3,563.3 L1513.6,562.8 L1515.5,561.5 L1517.6,560.7 L1519.7,560.0 L1521.5,558.5 L1523.6,557.7 L1525.3,556.2 L1527.3,555.2 L1529.8,555.4 L1531.5,553.9 L1533.3,552.6 L1535.8,552.6 L1537.6,551.2 L1539.7,550.5 L1541.8,549.7 L1543.4,548.1 L1545.5,547.2 L1547.8,547.0 L1549.3,545.1 L1551.7,545.0 L1553.3,543.2 L1555.7,543.0 L1557.7,542.1 L1559.8,541.5 L1561.8,540.4 L1563.6,539.1 L1565.4,537.8 L1567.4,536.8 L1569.6,536.3 L1571.5,535.1 L1573.3,533.9 L1574.8,532.2 L1577.3,532.0 L1578.9,530.3 L1580.9,529.3 L1582.3,527.6 L1584.2,526.4 L1585.9,524.9 L1588.0,524.1 L1589.8,522.8 L1591.8,521.8 L1593.6,520.6 L1595.8,519.9 L1597.7,518.8 L1599.0,516.7 L1601.0,515.8 L1602.7,514.3 L1604.9,513.7 L1607.0,512.9 L1608.3,510.7 L1610.5,510.2 L1612.0,508.5 L1613.7,506.9 L1616.1,506.6 L1617.6,504.9 L1619.6,503.9 L1621.3,502.4 L1623.5,501.7 L1625.3,500.4 L1627.3,499.5 L1629.3,498.5 L1631.2,497.4 L1633.3,496.5 L1635.0,495.1 L1636.9,493.8 L1638.8,492.7 L1640.8,491.6 L1643.0,491.1 L1644.8,489.8 L1647.1,489.3 L1648.8,487.9 L1650.9,487.0 L1653.0,486.3 L1654.4,484.1 L1656.3,483.0 L1658.3,482.1 L1660.4,481.3 L1662.5,480.4 L1664.6,479.6 L1666.3,478.0 L1668.6,477.7 L1669.9,475.5 L1672.2,475.0 L1673.9,476.4 L1676.3,476.7 L1677.8,478.5 L1680.3,478.5 L1681.7,480.6 L1683.8,481.4 L1685.6,482.7 L1687.8,483.2 L1690.0,483.7 L1691.5,485.7 L1693.7,486.0 L1695.9,486.6 L1697.6,488.2 L1699.6,489.1 L1701.6,490.1 L1703.7,490.7 L1705.7,491.7 L1707.3,493.3 L1709.4,494.1 L1711.6,494.7 L1713.3,496.1 L1715.1,497.5 L1717.0,498.5 L1719.2,499.2 L1721.2,500.1 L1723.1,501.1 L1725.2,501.9 L1727.1,502.9 L1728.9,504.2 L1731.1,504.8 L1732.7,506.6 L1734.6,507.5 L1736.7,508.4 L1739.0,508.7 L1740.7,510.1 L1742.6,511.2 L1744.8,511.8 L1746.2,513.9 L1748.3,514.7 L1750.4,515.4 L1752.2,516.6 L1754.5,517.0 L1756.5,518.0 L1758.2,519.4 L1760.2,520.4 L1758.0,521.2 L1756.1,522.3 L1754.5,524.2 L1752.0,524.5 L1749.8,525.2 L1747.9,526.5 L1745.8,527.3 L1743.7,528.3 L1742.2,530.3 L1740.0,531.0 L1738.1,532.3 L1735.9,533.0 L1733.5,533.5 L1731.9,535.3 L1729.5,535.7 L1727.5,536.8 L1725.6,538.3 L1723.5,539.2 L1721.2,539.8 L1719.3,541.1 L1717.5,542.8 L1715.1,543.1 L1713.3,544.6 L1711.6,546.2 L1709.6,547.2 L1707.3,547.7 L1705.4,549.0 L1703.9,550.8 L1702.1,552.0 L1700.0,553.0 L1698.0,554.2 L1695.9,555.2 L1694.1,556.7 L1691.9,557.8 L1690.2,559.3 L1688.2,560.5 L1686.5,562.2 L1685.9,565.0 L1685.6,567.8 L1683.4,568.9 L1681.2,569.7 L1678.9,570.6 L1676.7,571.4 L1674.3,572.0 L1672.3,573.6 L1670.2,574.8 L1667.6,574.9 L1665.7,576.4 L1663.3,577.0 L1662.8,579.2 L1662.6,581.5 L1661.5,583.5 L1658.9,582.9 L1656.3,583.5 L1653.7,583.3 L1651.1,582.4 L1648.5,582.6 L1646.3,583.8 L1644.4,585.3 L1641.8,585.8 L1640.0,587.6 L1637.8,588.9 L1635.6,590.0 L1633.8,591.5 L1632.8,593.5 L1631.9,595.6 L1629.6,595.9 L1627.7,597.2 L1625.3,597.0 L1623.2,597.9 L1620.9,598.2 L1618.9,599.3 L1616.9,600.6 L1614.6,601.3 L1612.5,602.4 L1610.6,603.9 L1607.9,605.4 L1605.0,606.7 L1602.8,607.3 L1600.7,608.0 L1598.5,608.6 L1596.4,609.6 L1594.4,610.6 L1592.7,612.3 L1590.4,612.5 L1588.2,613.3 L1586.5,614.9 L1584.2,615.2 L1581.9,615.6 L1580.0,616.9 L1577.5,617.4 L1575.3,618.4 L1573.6,620.5 L1571.0,620.8 L1568.7,621.5 L1566.6,622.8 L1564.5,624.2 L1562.5,625.6 L1560.0,626.0 L1557.7,626.5 L1555.8,627.6 L1553.9,628.9 L1552.1,630.3 L1549.8,630.7 L1547.8,631.8 L1545.9,632.9 L1543.9,634.1 L1542.1,635.5 L1540.0,636.3 L1537.9,635.6 L1536.0,634.5 L1534.0,633.6 L1532.1,632.3 L1529.9,631.8 L1528.3,630.1 L1526.1,629.6 L1524.0,628.8 L1522.1,627.7 L1520.2,626.6 L1518.2,625.5 L1516.4,624.1 L1514.0,623.9 L1512.1,622.8 L1510.2,621.7 L1508.2,620.9 L1506.5,619.2 L1504.2,619.0 L1502.2,618.1 L1500.5,616.5 L1498.6,615.2 L1496.7,614.1 L1494.6,613.5 L1492.4,612.8 L1490.8,611.1 L1488.7,610.3 L1486.6,609.6 L1484.7,608.5 L1482.9,607.1 L1481.0,606.0 L1479.0,605.1 L1476.5,605.1 L1474.6,603.9 L1472.7,602.8 L1470.6,602.1 L1469.0,600.4 L1466.6,600.3 L1465.1,598.2 L1462.9,597.6 L1461.0,596.6 L1458.9,595.9 L1457.2,594.2 L1455.0,593.7 Z" fill="#22b9bc"/></g><path d="M1453.0,592.8 L1454.8,591.4 L1457.3,591.4 L1458.8,589.3 L1461.2,589.0 L1462.8,587.2 L1464.9,586.4 L1467.4,586.4 L1468.9,584.4 L1471.2,583.9 L1473.1,582.7 L1475.1,581.6 L1477.2,580.7 L1479.0,579.3 L1481.4,579.1 L1483.0,577.2 L1485.1,576.3 L1486.9,575.0 L1489.1,574.3 L1491.2,573.5 L1493.5,573.1 L1495.2,571.5 L1497.1,570.1 L1499.2,569.3 L1501.7,569.2 L1503.1,567.0 L1505.5,566.7 L1507.3,565.4 L1509.5,564.8 L1511.3,563.3 L1513.6,562.8 L1515.5,561.5 L1517.6,560.7 L1519.7,560.0 L1521.5,558.5 L1523.6,557.7 L1525.3,556.2 L1527.3,555.2 L1529.8,555.4 L1531.5,553.9 L1533.3,552.6 L1535.8,552.6 L1537.6,551.2 L1539.7,550.5 L1541.8,549.7 L1543.4,548.1 L1545.5,547.2 L1547.8,547.0 L1549.3,545.1 L1551.7,545.0 L1553.3,543.2 L1555.7,543.0 L1557.7,542.1 L1559.8,541.5 L1561.8,540.4 L1563.6,539.1 L1565.4,537.8 L1567.4,536.8 L1569.6,536.3 L1571.5,535.1 L1573.3,533.9 L1574.8,532.2 L1577.3,532.0 L1578.9,530.3 L1580.9,529.3 L1582.3,527.6 L1584.2,526.4 L1585.9,524.9 L1588.0,524.1 L1589.8,522.8 L1591.8,521.8 L1593.6,520.6 L1595.8,519.9 L1597.7,518.8 L1599.0,516.7 L1601.0,515.8 L1602.7,514.3 L1604.9,513.7 L1607.0,512.9 L1608.3,510.7 L1610.5,510.2 L1612.0,508.5 L1613.7,506.9 L1616.1,506.6 L1617.6,504.9 L1619.6,503.9 L1621.3,502.4 L1623.5,501.7 L1625.3,500.4 L1627.3,499.5 L1629.3,498.5 L1631.2,497.4 L1633.3,496.5 L1635.0,495.1 L1636.9,493.8 L1638.8,492.7 L1640.8,491.6 L1643.0,491.1 L1644.8,489.8 L1647.1,489.3 L1648.8,487.9 L1650.9,487.0 L1653.0,486.3 L1654.4,484.1 L1656.3,483.0 L1658.3,482.1 L1660.4,481.3 L1662.5,480.4 L1664.6,479.6 L1666.3,478.0 L1668.6,477.7 L1669.9,475.5 L1672.2,475.0 L1673.9,476.4 L1676.3,476.7 L1677.8,478.5 L1680.3,478.5 L1681.7,480.6 L1683.8,481.4 L1685.6,482.7 L1687.8,483.2 L1690.0,483.7 L1691.5,485.7 L1693.7,486.0 L1695.9,486.6 L1697.6,488.2 L1699.6,489.1 L1701.6,490.1 L1703.7,490.7 L1705.7,491.7 L1707.3,493.3 L1709.4,494.1 L1711.6,494.7 L1713.3,496.1 L1715.1,497.5 L1717.0,498.5 L1719.2,499.2 L1721.2,500.1 L1723.1,501.1 L1725.2,501.9 L1727.1,502.9 L1728.9,504.2 L1731.1,504.8 L1732.7,506.6 L1734.6,507.5 L1736.7,508.4 L1739.0,508.7 L1740.7,510.1 L1742.6,511.2 L1744.8,511.8 L1746.2,513.9 L1748.3,514.7 L1750.4,515.4 L1752.2,516.6 L1754.5,517.0 L1756.5,518.0 L1758.2,519.4 L1760.2,520.4 L1758.0,521.2 L1756.1,522.3 L1754.5,524.2 L1752.0,524.5 L1749.8,525.2 L1747.9,526.5 L1745.8,527.3 L1743.7,528.3 L1742.2,530.3 L1740.0,531.0 L1738.1,532.3 L1735.9,533.0 L1733.5,533.5 L1731.9,535.3 L1729.5,535.7 L1727.5,536.8 L1725.6,538.3 L1723.5,539.2 L1721.2,539.8 L1719.3,541.1 L1717.5,542.8 L1715.1,543.1 L1713.3,544.6 L1711.6,546.2 L1709.6,547.2 L1707.3,547.7 L1705.4,549.0 L1703.9,550.8 L1702.1,552.0 L1700.0,553.0 L1698.0,554.2 L1695.9,555.2 L1694.1,556.7 L1691.9,557.8 L1690.2,559.3 L1688.2,560.5 L1686.5,562.2 L1685.9,565.0 L1685.6,567.8 L1683.4,568.9 L1681.2,569.7 L1678.9,570.6 L1676.7,571.4 L1674.3,572.0 L1672.3,573.6 L1670.2,574.8 L1667.6,574.9 L1665.7,576.4 L1663.3,577.0 L1662.8,579.2 L1662.6,581.5 L1661.5,583.5 L1658.9,582.9 L1656.3,583.5 L1653.7,583.3 L1651.1,582.4 L1648.5,582.6 L1646.3,583.8 L1644.4,585.3 L1641.8,585.8 L1640.0,587.6 L1637.8,588.9 L1635.6,590.0 L1633.8,591.5 L1632.8,593.5 L1631.9,595.6 L1629.6,595.9 L1627.7,597.2 L1625.3,597.0 L1623.2,597.9 L1620.9,598.2 L1618.9,599.3 L1616.9,600.6 L1614.6,601.3 L1612.5,602.4 L1610.6,603.9 L1607.9,605.4 L1605.0,606.7 L1602.8,607.3 L1600.7,608.0 L1598.5,608.6 L1596.4,609.6 L1594.4,610.6 L1592.7,612.3 L1590.4,612.5 L1588.2,613.3 L1586.5,614.9 L1584.2,615.2 L1581.9,615.6 L1580.0,616.9 L1577.5,617.4 L1575.3,618.4 L1573.6,620.5 L1571.0,620.8 L1568.7,621.5 L1566.6,622.8 L1564.5,624.2 L1562.5,625.6 L1560.0,626.0 L1557.7,626.5 L1555.8,627.6 L1553.9,628.9 L1552.1,630.3 L1549.8,630.7 L1547.8,631.8 L1545.9,632.9 L1543.9,634.1 L1542.1,635.5 L1540.0,636.3 L1537.9,635.6 L1536.0,634.5 L1534.0,633.6 L1532.1,632.3 L1529.9,631.8 L1528.3,630.1 L1526.1,629.6 L1524.0,628.8 L1522.1,627.7 L1520.2,626.6 L1518.2,625.5 L1516.4,624.1 L1514.0,623.9 L1512.1,622.8 L1510.2,621.7 L1508.2,620.9 L1506.5,619.2 L1504.2,619.0 L1502.2,618.1 L1500.5,616.5 L1498.6,615.2 L1496.7,614.1 L1494.6,613.5 L1492.4,612.8 L1490.8,611.1 L1488.7,610.3 L1486.6,609.6 L1484.7,608.5 L1482.9,607.1 L1481.0,606.0 L1479.0,605.1 L1476.5,605.1 L1474.6,603.9 L1472.7,602.8 L1470.6,602.1 L1469.0,600.4 L1466.6,600.3 L1465.1,598.2 L1462.9,597.6 L1461.0,596.6 L1458.9,595.9 L1457.2,594.2 L1455.0,593.7 Z" fill="url(#wpat)"/>
<clipPath id="wc_p8"><path d="M1453.0,592.8 L1454.8,591.4 L1457.3,591.4 L1458.8,589.3 L1461.2,589.0 L1462.8,587.2 L1464.9,586.4 L1467.4,586.4 L1468.9,584.4 L1471.2,583.9 L1473.1,582.7 L1475.1,581.6 L1477.2,580.7 L1479.0,579.3 L1481.4,579.1 L1483.0,577.2 L1485.1,576.3 L1486.9,575.0 L1489.1,574.3 L1491.2,573.5 L1493.5,573.1 L1495.2,571.5 L1497.1,570.1 L1499.2,569.3 L1501.7,569.2 L1503.1,567.0 L1505.5,566.7 L1507.3,565.4 L1509.5,564.8 L1511.3,563.3 L1513.6,562.8 L1515.5,561.5 L1517.6,560.7 L1519.7,560.0 L1521.5,558.5 L1523.6,557.7 L1525.3,556.2 L1527.3,555.2 L1529.8,555.4 L1531.5,553.9 L1533.3,552.6 L1535.8,552.6 L1537.6,551.2 L1539.7,550.5 L1541.8,549.7 L1543.4,548.1 L1545.5,547.2 L1547.8,547.0 L1549.3,545.1 L1551.7,545.0 L1553.3,543.2 L1555.7,543.0 L1557.7,542.1 L1559.8,541.5 L1561.8,540.4 L1563.6,539.1 L1565.4,537.8 L1567.4,536.8 L1569.6,536.3 L1571.5,535.1 L1573.3,533.9 L1574.8,532.2 L1577.3,532.0 L1578.9,530.3 L1580.9,529.3 L1582.3,527.6 L1584.2,526.4 L1585.9,524.9 L1588.0,524.1 L1589.8,522.8 L1591.8,521.8 L1593.6,520.6 L1595.8,519.9 L1597.7,518.8 L1599.0,516.7 L1601.0,515.8 L1602.7,514.3 L1604.9,513.7 L1607.0,512.9 L1608.3,510.7 L1610.5,510.2 L1612.0,508.5 L1613.7,506.9 L1616.1,506.6 L1617.6,504.9 L1619.6,503.9 L1621.3,502.4 L1623.5,501.7 L1625.3,500.4 L1627.3,499.5 L1629.3,498.5 L1631.2,497.4 L1633.3,496.5 L1635.0,495.1 L1636.9,493.8 L1638.8,492.7 L1640.8,491.6 L1643.0,491.1 L1644.8,489.8 L1647.1,489.3 L1648.8,487.9 L1650.9,487.0 L1653.0,486.3 L1654.4,484.1 L1656.3,483.0 L1658.3,482.1 L1660.4,481.3 L1662.5,480.4 L1664.6,479.6 L1666.3,478.0 L1668.6,477.7 L1669.9,475.5 L1672.2,475.0 L1673.9,476.4 L1676.3,476.7 L1677.8,478.5 L1680.3,478.5 L1681.7,480.6 L1683.8,481.4 L1685.6,482.7 L1687.8,483.2 L1690.0,483.7 L1691.5,485.7 L1693.7,486.0 L1695.9,486.6 L1697.6,488.2 L1699.6,489.1 L1701.6,490.1 L1703.7,490.7 L1705.7,491.7 L1707.3,493.3 L1709.4,494.1 L1711.6,494.7 L1713.3,496.1 L1715.1,497.5 L1717.0,498.5 L1719.2,499.2 L1721.2,500.1 L1723.1,501.1 L1725.2,501.9 L1727.1,502.9 L1728.9,504.2 L1731.1,504.8 L1732.7,506.6 L1734.6,507.5 L1736.7,508.4 L1739.0,508.7 L1740.7,510.1 L1742.6,511.2 L1744.8,511.8 L1746.2,513.9 L1748.3,514.7 L1750.4,515.4 L1752.2,516.6 L1754.5,517.0 L1756.5,518.0 L1758.2,519.4 L1760.2,520.4 L1758.0,521.2 L1756.1,522.3 L1754.5,524.2 L1752.0,524.5 L1749.8,525.2 L1747.9,526.5 L1745.8,527.3 L1743.7,528.3 L1742.2,530.3 L1740.0,531.0 L1738.1,532.3 L1735.9,533.0 L1733.5,533.5 L1731.9,535.3 L1729.5,535.7 L1727.5,536.8 L1725.6,538.3 L1723.5,539.2 L1721.2,539.8 L1719.3,541.1 L1717.5,542.8 L1715.1,543.1 L1713.3,544.6 L1711.6,546.2 L1709.6,547.2 L1707.3,547.7 L1705.4,549.0 L1703.9,550.8 L1702.1,552.0 L1700.0,553.0 L1698.0,554.2 L1695.9,555.2 L1694.1,556.7 L1691.9,557.8 L1690.2,559.3 L1688.2,560.5 L1686.5,562.2 L1685.9,565.0 L1685.6,567.8 L1683.4,568.9 L1681.2,569.7 L1678.9,570.6 L1676.7,571.4 L1674.3,572.0 L1672.3,573.6 L1670.2,574.8 L1667.6,574.9 L1665.7,576.4 L1663.3,577.0 L1662.8,579.2 L1662.6,581.5 L1661.5,583.5 L1658.9,582.9 L1656.3,583.5 L1653.7,583.3 L1651.1,582.4 L1648.5,582.6 L1646.3,583.8 L1644.4,585.3 L1641.8,585.8 L1640.0,587.6 L1637.8,588.9 L1635.6,590.0 L1633.8,591.5 L1632.8,593.5 L1631.9,595.6 L1629.6,595.9 L1627.7,597.2 L1625.3,597.0 L1623.2,597.9 L1620.9,598.2 L1618.9,599.3 L1616.9,600.6 L1614.6,601.3 L1612.5,602.4 L1610.6,603.9 L1607.9,605.4 L1605.0,606.7 L1602.8,607.3 L1600.7,608.0 L1598.5,608.6 L1596.4,609.6 L1594.4,610.6 L1592.7,612.3 L1590.4,612.5 L1588.2,613.3 L1586.5,614.9 L1584.2,615.2 L1581.9,615.6 L1580.0,616.9 L1577.5,617.4 L1575.3,618.4 L1573.6,620.5 L1571.0,620.8 L1568.7,621.5 L1566.6,622.8 L1564.5,624.2 L1562.5,625.6 L1560.0,626.0 L1557.7,626.5 L1555.8,627.6 L1553.9,628.9 L1552.1,630.3 L1549.8,630.7 L1547.8,631.8 L1545.9,632.9 L1543.9,634.1 L1542.1,635.5 L1540.0,636.3 L1537.9,635.6 L1536.0,634.5 L1534.0,633.6 L1532.1,632.3 L1529.9,631.8 L1528.3,630.1 L1526.1,629.6 L1524.0,628.8 L1522.1,627.7 L1520.2,626.6 L1518.2,625.5 L1516.4,624.1 L1514.0,623.9 L1512.1,622.8 L1510.2,621.7 L1508.2,620.9 L1506.5,619.2 L1504.2,619.0 L1502.2,618.1 L1500.5,616.5 L1498.6,615.2 L1496.7,614.1 L1494.6,613.5 L1492.4,612.8 L1490.8,611.1 L1488.7,610.3 L1486.6,609.6 L1484.7,608.5 L1482.9,607.1 L1481.0,606.0 L1479.0,605.1 L1476.5,605.1 L1474.6,603.9 L1472.7,602.8 L1470.6,602.1 L1469.0,600.4 L1466.6,600.3 L1465.1,598.2 L1462.9,597.6 L1461.0,596.6 L1458.9,595.9 L1457.2,594.2 L1455.0,593.7 Z"/></clipPath>
<g clip-path="url(#wc_p8)"><g transform="translate(0,0)"><path d="M1692,484 L1706,481 L1705,497 L1701,510 L1707,526 L1697,531 L1684,529 L1676,524 L1684,512 L1689,498 Z" fill="#1d7f80" opacity="0.32"/><path d="M1691.5,481 L1707,479 L1705.5,490 L1702.5,500 L1698,507 L1692,507 L1688.5,499 L1690,490 Z" fill="#2fa5a5"/><path d="M1691.5,482 L1696.5,481 L1696,494 L1694.5,505 L1692,507 L1688.5,499 L1690,490 Z" fill="#1d7a7a" opacity="0.75"/><path d="M1703,483 L1706,482 L1703.5,495 L1700.5,501 L1700,495 Z" fill="#7fd8d8" opacity="0.6"/><ellipse cx="1697" cy="507" rx="6" ry="3" fill="#1d7a7a" opacity="0.45"/><ellipse cx="1688" cy="502" rx="2.5" ry="3.5" fill="#1b6e6e" opacity="0.55"/><ellipse cx="1690.5" cy="526" rx="3.5" ry="2.4" fill="#1b6e6e" opacity="0.55"/><ellipse cx="1700" cy="526" rx="3" ry="2.2" fill="#1b6e6e" opacity="0.5"/><ellipse cx="1677.3" cy="525" rx="2.2" ry="2" fill="#1b6e6e" opacity="0.5"/><ellipse cx="1673.7" cy="539.5" rx="2" ry="3" fill="#1b6e6e" opacity="0.5"/><ellipse cx="1694" cy="515" rx="2" ry="4" fill="#1b6e6e" opacity="0.35"/><path d="M1664,509 L1670,505.5" stroke="#9fe6e6" stroke-width="1.2" opacity="0.6"/></g></g>
<g filter="url(#blob)"><ellipse cx="1655.9" cy="592.8" rx="3.5" ry="3" transform="rotate(0 1655.9 592.8)" fill="#34abab" stroke="#25898a" stroke-width="0.6"/><circle cx="1648.5" cy="600.2" r="2.5" fill="#34abab" stroke="#25898a" stroke-width="0.6"/><circle cx="1639.3" cy="600.6" r="2.2" fill="#34abab" stroke="#25898a" stroke-width="0.6"/><ellipse cx="1631.9" cy="597.4" rx="1.5" ry="3" transform="rotate(30 1631.9 597.4)" fill="#34abab" stroke="#25898a" stroke-width="0.6"/><circle cx="1623.5" cy="598.3" r="3" fill="#34abab" stroke="#25898a" stroke-width="0.6"/><circle cx="1618" cy="606.2" r="3" fill="#34abab" stroke="#25898a" stroke-width="0.6"/><ellipse cx="1607.8" cy="606.7" rx="3" ry="2.2" transform="rotate(0 1607.8 606.7)" fill="#34abab" stroke="#25898a" stroke-width="0.6"/><circle cx="1631.9" cy="609.9" r="1.8" fill="#34abab" stroke="#25898a" stroke-width="0.6"/><ellipse cx="1600.4" cy="618.7" rx="3" ry="2.5" transform="rotate(0 1600.4 618.7)" fill="#34abab" stroke="#25898a" stroke-width="0.6"/><ellipse cx="1599.4" cy="624.7" rx="2.5" ry="2" transform="rotate(0 1599.4 624.7)" fill="#34abab" stroke="#25898a" stroke-width="0.6"/><circle cx="1605.9" cy="622.9" r="1.5" fill="#34abab" stroke="#25898a" stroke-width="0.6"/></g>
<circle cx="1631.5" cy="546.3" r="12.4" fill="url(#ball)"/>
<g transform="translate(421,296.4)"><path d="M1293.9,144.2 L1313.3,132.2 L1323.9,158.3 L1301.1,171.7 Z" fill="#efeeed"/><path d="M1293.9,144.2 L1313.3,132.2 M1301.1,171.7 L1323.9,158.3" stroke="#9a9a9a" stroke-width="0.6" fill="none"/><ellipse cx="1319.4" cy="145.3" rx="9.2" ry="13.4" transform="rotate(-15 1319.4 145.3)" fill="none" stroke="#8a8a8a" stroke-width="0.7"/></g>
<path d="M1707.4,443.2 L1709.9,441.5 L1712.2,439.6 L1714.5,438.7 L1717.0,438.9 L1719.5,439.0 L1721.8,437.8 L1723.9,438.0 L1725.4,439.6 L1725.8,441.7 L1726.2,443.8 L1726.6,445.9 L1726.6,448.1 L1726.1,450.3 L1726.1,452.5 L1726.5,454.6 L1727.2,456.7 L1727.2,458.9 L1726.0,460.7 L1726.6,463.1 L1725.4,464.9 L1723.6,466.1 L1721.8,467.3 L1720.4,469.1 L1718.2,469.7 L1716.6,471.1 L1715.3,472.8 L1713.8,474.3 L1712.2,475.7 L1711.1,477.8 L1708.8,478.7 L1707.4,480.5 L1706.2,482.2 L1704.7,483.6 L1702.6,484.2 L1700.4,484.5 L1698.7,486.1 L1696.6,486.6 L1694.8,485.2 L1692.9,484.2 L1693.0,482.0 L1692.7,479.9 L1692.7,477.7 L1691.7,475.7 L1692.5,473.4 L1694.1,471.7 L1695.4,469.7 L1695.8,467.6 L1697.5,466.3 L1697.7,464.1 L1699.0,462.5 L1699.2,460.3 L1699.8,458.2 L1701.1,456.3 L1701.4,454.1 L1702.6,452.1 L1704.3,450.4 L1705.0,448.1 L1706.3,445.7 Z" fill="#2ea6a6" stroke="#237f7f" stroke-width="0.6" filter="url(#blob)"/>
<g transform="translate(421,296.4)"><path d="M1030.0,227.5 L1251.2,108.8 L1339.5,153.9 L1118.8,272.1 Z M1118.8,272.1 L1119.4,378.8 L1340.3,259.6 L1339.5,153.9 M1030.0,227.5 L1030.6,333.5 L1119.4,378.8" fill="none" stroke="#000" stroke-opacity="0.31" stroke-width="0.95" stroke-linejoin="round"/></g>
<g transform="translate(421,296.4)"><polygon points="1118.8,272.1 1339.5,153.9 1340.3,259.6 1119.4,378.8" fill="#e6e5e3" opacity="0.06"/></g>
<g transform="translate(421,296.4)"><g><text x="988.9" y="112.7" style="font-family:'Liberation Sans',sans-serif;font-size:7.9px" fill="#303030" stroke="#303030" stroke-width="0.28" stroke-opacity="0.6">Time Value = 1.4 [ s ]</text><text x="1370.4" y="111.10000000000001" style="font-family:'Liberation Sans',sans-serif;font-size:12.3px;font-weight:bold" fill="#111" stroke="#111" stroke-width="0.45" textLength="36.4" lengthAdjust="spacingAndGlyphs">&#923;nsys</text><text x="1406.8000000000002" y="118.9" text-anchor="end" style="font-family:'Liberation Sans',sans-serif;font-size:5.6px;font-weight:bold" fill="#222" stroke="#222" stroke-width="0.2">2024 R2</text></g><line x1="1376.5" y1="362" x2="1376.5" y2="350" stroke="#5a8a5a" stroke-width="1.8"/><path d="M1376.5,352 L1374.4,349 L1376.5,345.2 L1378.6,349 Z" fill="#1e8a1e"/><line x1="1376.5" y1="362" x2="1387.5" y2="356.4" stroke="#b04040" stroke-width="1.6"/><circle cx="1388.0" cy="356" r="1.8" fill="#a01818"/><circle cx="1391.0" cy="353.3" r="1.8" fill="#3cc8c8"/><line x1="1376.5" y1="362" x2="1386.5" y2="367.5" stroke="#404080" stroke-width="1.8"/><path d="M1385.0,365.4 L1389.5,369.6 L1385.5,370 Z" fill="#1010c0"/><text x="1394.0" y="355" text-anchor="middle" style="font-family:'Liberation Sans',sans-serif;font-size:4.5px" fill="#c06060">x</text><text x="1376.7" y="342.7" text-anchor="middle" style="font-family:'Liberation Sans',sans-serif;font-size:5px" fill="#5f955f">y</text><text x="1394.5" y="372.8" text-anchor="middle" style="font-family:'Liberation Sans',sans-serif;font-size:4.8px" fill="#4040a0">z</text></g>
<clipPath id="tc_p10"><polygon points="1240.2,819.0 1461.4,700.3 1549.7,745.4 1329.0,863.6"/></clipPath>
<g transform="translate(210.2,591.5)"><polygon points="1030.0,227.5 1251.2,108.8 1339.5,153.9 1340.3,259.6 1119.4,378.8 1030.6,333.5" fill="#e6e5e3"/><polygon points="1030.0,227.5 1251.2,108.8 1339.5,153.9 1118.8,272.1" fill="#f0efed"/><path d="M1030.6,333.5 L1251.8,214.8 L1340.3,259.6 M1251.8,214.8 L1251.2,108.8" fill="none" stroke="#000" stroke-opacity="0.33" stroke-width="0.9"/></g>
<path d="M1243.3,883.6 L1245.3,882.6 L1247.1,881.3 L1249.2,880.4 L1250.8,878.9 L1253.2,878.5 L1255.1,877.5 L1257.0,876.2 L1258.6,874.5 L1260.7,873.8 L1262.5,872.5 L1264.4,871.3 L1266.8,871.1 L1268.8,870.0 L1270.1,867.8 L1272.6,867.7 L1274.3,866.3 L1276.1,864.9 L1278.0,863.7 L1280.2,863.1 L1282.0,861.7 L1284.1,860.9 L1286.0,859.8 L1287.6,858.1 L1289.9,857.8 L1292.0,856.9 L1293.9,855.8 L1295.6,854.3 L1297.2,852.5 L1299.1,851.4 L1301.1,850.4 L1303.3,849.8 L1305.6,849.4 L1307.2,847.7 L1309.2,846.8 L1311.5,846.5 L1313.1,844.8 L1315.3,844.2 L1317.2,843.1 L1319.0,841.7 L1321.3,841.4 L1323.4,840.8 L1325.0,838.9 L1327.0,838.1 L1329.1,837.4 L1330.9,836.0 L1333.1,835.6 L1335.3,835.0 L1337.2,833.9 L1339.1,832.8 L1341.1,831.8 L1343.3,831.1 L1344.7,829.2 L1346.9,828.5 L1348.7,827.2 L1350.7,826.4 L1352.3,824.7 L1354.7,824.4 L1356.1,822.4 L1358.1,821.4 L1360.5,821.1 L1362.5,820.1 L1364.0,818.4 L1365.9,817.3 L1367.7,815.9 L1369.6,814.9 L1371.8,814.2 L1373.4,812.5 L1375.3,811.3 L1377.4,810.6 L1379.1,809.2 L1381.4,808.6 L1383.4,807.7 L1385.3,806.6 L1387.0,805.1 L1388.8,803.8 L1390.8,802.8 L1392.4,801.2 L1394.8,800.9 L1396.5,799.4 L1398.4,798.2 L1400.1,796.8 L1402.3,796.2 L1404.3,795.2 L1406.1,793.9 L1408.3,793.4 L1410.0,791.8 L1412.0,790.9 L1413.6,789.3 L1415.8,788.5 L1417.9,787.9 L1419.6,786.3 L1421.5,785.3 L1423.1,783.5 L1425.3,783.0 L1427.2,781.8 L1429.0,780.6 L1431.0,779.6 L1433.0,778.7 L1434.9,777.5 L1436.7,776.3 L1438.4,774.8 L1440.5,774.1 L1442.8,773.6 L1444.3,771.8 L1446.0,770.3 L1447.9,769.1 L1450.2,768.7 L1451.7,767.0 L1453.7,765.9 L1455.6,764.8 L1457.7,764.2 L1460.0,763.7 L1461.6,762.0 L1463.6,763.0 L1465.6,764.0 L1467.6,765.1 L1469.6,766.2 L1471.6,767.2 L1473.4,768.6 L1475.3,769.8 L1477.4,770.6 L1479.6,771.3 L1481.4,772.7 L1483.2,774.0 L1485.7,774.1 L1487.7,775.3 L1489.4,776.8 L1491.3,777.9 L1493.4,778.9 L1495.4,779.9 L1497.2,781.3 L1499.4,781.9 L1501.2,783.3 L1503.1,784.6 L1505.4,785.0 L1507.2,786.5 L1509.2,787.4 L1511.1,788.7 L1513.7,788.7 L1515.1,790.8 L1517.2,791.7 L1519.0,793.0 L1521.0,794.0 L1523.5,794.2 L1525.2,795.7 L1527.5,796.1 L1529.2,797.7 L1531.0,799.2 L1533.5,799.3 L1535.4,800.6 L1537.5,801.3 L1539.4,802.5 L1541.4,803.5 L1543.5,804.5 L1544.9,806.6 L1547.0,807.5 L1549.2,808.1 L1547.1,809.2 L1544.8,809.9 L1542.7,811.0 L1540.7,812.2 L1538.6,813.4 L1536.3,814.2 L1534.2,815.3 L1532.3,816.7 L1530.0,817.5 L1527.9,818.9 L1525.6,819.8 L1523.5,821.1 L1521.4,822.5 L1519.5,824.3 L1517.0,825.4 L1514.7,826.6 L1512.5,828.1 L1510.7,830.0 L1508.5,831.1 L1506.7,833.1 L1504.3,833.9 L1502.2,835.3 L1500.3,837.0 L1498.1,838.3 L1495.8,839.4 L1493.5,840.5 L1491.3,841.7 L1489.4,843.4 L1487.9,845.4 L1486.7,847.7 L1484.8,849.4 L1482.7,850.5 L1480.9,852.0 L1478.9,853.3 L1477.0,854.6 L1474.8,856.0 L1472.4,856.9 L1470.0,858.0 L1468.2,859.6 L1465.9,860.6 L1464.1,862.3 L1462.1,863.7 L1459.5,864.3 L1456.9,864.8 L1454.4,865.3 L1451.7,865.5 L1449.2,866.3 L1447.1,867.2 L1445.1,868.2 L1443.4,869.8 L1441.2,870.5 L1439.4,872.0 L1437.0,872.6 L1434.9,873.6 L1433.0,875.1 L1431.0,876.5 L1429.1,878.1 L1426.4,878.2 L1424.2,879.3 L1422.5,881.4 L1420.0,881.8 L1418.0,883.2 L1415.9,884.4 L1413.6,885.1 L1411.6,886.5 L1409.7,888.1 L1407.7,889.4 L1405.6,890.6 L1403.3,891.4 L1401.6,893.0 L1399.1,893.2 L1397.0,894.1 L1395.5,896.1 L1393.1,896.5 L1391.0,897.3 L1389.5,899.3 L1387.3,899.9 L1385.3,901.1 L1383.3,903.3 L1381.1,905.3 L1378.5,905.2 L1376.0,905.9 L1373.7,907.6 L1371.2,907.9 L1368.6,908.0 L1366.3,908.6 L1364.4,910.0 L1362.3,911.1 L1360.1,911.8 L1358.0,912.9 L1355.8,913.7 L1354.1,915.6 L1352.2,917.0 L1349.8,917.2 L1347.8,918.5 L1346.1,920.1 L1343.7,920.6 L1341.5,921.3 L1339.8,923.0 L1337.7,923.8 L1336.0,925.4 L1334.0,926.5 L1331.6,927.1 L1329.7,928.3 L1328.0,926.8 L1326.1,925.6 L1323.5,925.8 L1322.1,923.7 L1319.9,923.2 L1317.8,922.4 L1315.9,921.3 L1314.0,920.1 L1311.9,919.3 L1309.8,918.6 L1308.3,916.7 L1306.3,915.9 L1304.2,915.0 L1302.4,913.8 L1300.6,912.5 L1298.1,912.4 L1296.5,910.6 L1294.6,909.6 L1292.3,909.2 L1290.5,907.9 L1288.4,907.0 L1286.3,906.3 L1284.5,905.0 L1282.3,904.4 L1280.9,902.4 L1278.4,902.3 L1276.8,900.7 L1274.8,899.8 L1273.1,898.2 L1271.0,897.5 L1268.7,897.0 L1266.8,895.9 L1264.6,895.3 L1262.6,894.3 L1260.9,893.0 L1259.3,891.2 L1256.8,891.3 L1254.9,890.1 L1253.2,888.5 L1251.1,887.8 L1249.0,887.0 L1247.5,885.1 L1245.0,885.2 Z" fill="#36b2b2"/><g clip-path="url(#tc_p10)"><path d="M1243.3,883.6 L1245.3,882.6 L1247.1,881.3 L1249.2,880.4 L1250.8,878.9 L1253.2,878.5 L1255.1,877.5 L1257.0,876.2 L1258.6,874.5 L1260.7,873.8 L1262.5,872.5 L1264.4,871.3 L1266.8,871.1 L1268.8,870.0 L1270.1,867.8 L1272.6,867.7 L1274.3,866.3 L1276.1,864.9 L1278.0,863.7 L1280.2,863.1 L1282.0,861.7 L1284.1,860.9 L1286.0,859.8 L1287.6,858.1 L1289.9,857.8 L1292.0,856.9 L1293.9,855.8 L1295.6,854.3 L1297.2,852.5 L1299.1,851.4 L1301.1,850.4 L1303.3,849.8 L1305.6,849.4 L1307.2,847.7 L1309.2,846.8 L1311.5,846.5 L1313.1,844.8 L1315.3,844.2 L1317.2,843.1 L1319.0,841.7 L1321.3,841.4 L1323.4,840.8 L1325.0,838.9 L1327.0,838.1 L1329.1,837.4 L1330.9,836.0 L1333.1,835.6 L1335.3,835.0 L1337.2,833.9 L1339.1,832.8 L1341.1,831.8 L1343.3,831.1 L1344.7,829.2 L1346.9,828.5 L1348.7,827.2 L1350.7,826.4 L1352.3,824.7 L1354.7,824.4 L1356.1,822.4 L1358.1,821.4 L1360.5,821.1 L1362.5,820.1 L1364.0,818.4 L1365.9,817.3 L1367.7,815.9 L1369.6,814.9 L1371.8,814.2 L1373.4,812.5 L1375.3,811.3 L1377.4,810.6 L1379.1,809.2 L1381.4,808.6 L1383.4,807.7 L1385.3,806.6 L1387.0,805.1 L1388.8,803.8 L1390.8,802.8 L1392.4,801.2 L1394.8,800.9 L1396.5,799.4 L1398.4,798.2 L1400.1,796.8 L1402.3,796.2 L1404.3,795.2 L1406.1,793.9 L1408.3,793.4 L1410.0,791.8 L1412.0,790.9 L1413.6,789.3 L1415.8,788.5 L1417.9,787.9 L1419.6,786.3 L1421.5,785.3 L1423.1,783.5 L1425.3,783.0 L1427.2,781.8 L1429.0,780.6 L1431.0,779.6 L1433.0,778.7 L1434.9,777.5 L1436.7,776.3 L1438.4,774.8 L1440.5,774.1 L1442.8,773.6 L1444.3,771.8 L1446.0,770.3 L1447.9,769.1 L1450.2,768.7 L1451.7,767.0 L1453.7,765.9 L1455.6,764.8 L1457.7,764.2 L1460.0,763.7 L1461.6,762.0 L1463.6,763.0 L1465.6,764.0 L1467.6,765.1 L1469.6,766.2 L1471.6,767.2 L1473.4,768.6 L1475.3,769.8 L1477.4,770.6 L1479.6,771.3 L1481.4,772.7 L1483.2,774.0 L1485.7,774.1 L1487.7,775.3 L1489.4,776.8 L1491.3,777.9 L1493.4,778.9 L1495.4,779.9 L1497.2,781.3 L1499.4,781.9 L1501.2,783.3 L1503.1,784.6 L1505.4,785.0 L1507.2,786.5 L1509.2,787.4 L1511.1,788.7 L1513.7,788.7 L1515.1,790.8 L1517.2,791.7 L1519.0,793.0 L1521.0,794.0 L1523.5,794.2 L1525.2,795.7 L1527.5,796.1 L1529.2,797.7 L1531.0,799.2 L1533.5,799.3 L1535.4,800.6 L1537.5,801.3 L1539.4,802.5 L1541.4,803.5 L1543.5,804.5 L1544.9,806.6 L1547.0,807.5 L1549.2,808.1 L1547.1,809.2 L1544.8,809.9 L1542.7,811.0 L1540.7,812.2 L1538.6,813.4 L1536.3,814.2 L1534.2,815.3 L1532.3,816.7 L1530.0,817.5 L1527.9,818.9 L1525.6,819.8 L1523.5,821.1 L1521.4,822.5 L1519.5,824.3 L1517.0,825.4 L1514.7,826.6 L1512.5,828.1 L1510.7,830.0 L1508.5,831.1 L1506.7,833.1 L1504.3,833.9 L1502.2,835.3 L1500.3,837.0 L1498.1,838.3 L1495.8,839.4 L1493.5,840.5 L1491.3,841.7 L1489.4,843.4 L1487.9,845.4 L1486.7,847.7 L1484.8,849.4 L1482.7,850.5 L1480.9,852.0 L1478.9,853.3 L1477.0,854.6 L1474.8,856.0 L1472.4,856.9 L1470.0,858.0 L1468.2,859.6 L1465.9,860.6 L1464.1,862.3 L1462.1,863.7 L1459.5,864.3 L1456.9,864.8 L1454.4,865.3 L1451.7,865.5 L1449.2,866.3 L1447.1,867.2 L1445.1,868.2 L1443.4,869.8 L1441.2,870.5 L1439.4,872.0 L1437.0,872.6 L1434.9,873.6 L1433.0,875.1 L1431.0,876.5 L1429.1,878.1 L1426.4,878.2 L1424.2,879.3 L1422.5,881.4 L1420.0,881.8 L1418.0,883.2 L1415.9,884.4 L1413.6,885.1 L1411.6,886.5 L1409.7,888.1 L1407.7,889.4 L1405.6,890.6 L1403.3,891.4 L1401.6,893.0 L1399.1,893.2 L1397.0,894.1 L1395.5,896.1 L1393.1,896.5 L1391.0,897.3 L1389.5,899.3 L1387.3,899.9 L1385.3,901.1 L1383.3,903.3 L1381.1,905.3 L1378.5,905.2 L1376.0,905.9 L1373.7,907.6 L1371.2,907.9 L1368.6,908.0 L1366.3,908.6 L1364.4,910.0 L1362.3,911.1 L1360.1,911.8 L1358.0,912.9 L1355.8,913.7 L1354.1,915.6 L1352.2,917.0 L1349.8,917.2 L1347.8,918.5 L1346.1,920.1 L1343.7,920.6 L1341.5,921.3 L1339.8,923.0 L1337.7,923.8 L1336.0,925.4 L1334.0,926.5 L1331.6,927.1 L1329.7,928.3 L1328.0,926.8 L1326.1,925.6 L1323.5,925.8 L1322.1,923.7 L1319.9,923.2 L1317.8,922.4 L1315.9,921.3 L1314.0,920.1 L1311.9,919.3 L1309.8,918.6 L1308.3,916.7 L1306.3,915.9 L1304.2,915.0 L1302.4,913.8 L1300.6,912.5 L1298.1,912.4 L1296.5,910.6 L1294.6,909.6 L1292.3,909.2 L1290.5,907.9 L1288.4,907.0 L1286.3,906.3 L1284.5,905.0 L1282.3,904.4 L1280.9,902.4 L1278.4,902.3 L1276.8,900.7 L1274.8,899.8 L1273.1,898.2 L1271.0,897.5 L1268.7,897.0 L1266.8,895.9 L1264.6,895.3 L1262.6,894.3 L1260.9,893.0 L1259.3,891.2 L1256.8,891.3 L1254.9,890.1 L1253.2,888.5 L1251.1,887.8 L1249.0,887.0 L1247.5,885.1 L1245.0,885.2 Z" fill="#22b9bc"/></g><path d="M1243.3,883.6 L1245.3,882.6 L1247.1,881.3 L1249.2,880.4 L1250.8,878.9 L1253.2,878.5 L1255.1,877.5 L1257.0,876.2 L1258.6,874.5 L1260.7,873.8 L1262.5,872.5 L1264.4,871.3 L1266.8,871.1 L1268.8,870.0 L1270.1,867.8 L1272.6,867.7 L1274.3,866.3 L1276.1,864.9 L1278.0,863.7 L1280.2,863.1 L1282.0,861.7 L1284.1,860.9 L1286.0,859.8 L1287.6,858.1 L1289.9,857.8 L1292.0,856.9 L1293.9,855.8 L1295.6,854.3 L1297.2,852.5 L1299.1,851.4 L1301.1,850.4 L1303.3,849.8 L1305.6,849.4 L1307.2,847.7 L1309.2,846.8 L1311.5,846.5 L1313.1,844.8 L1315.3,844.2 L1317.2,843.1 L1319.0,841.7 L1321.3,841.4 L1323.4,840.8 L1325.0,838.9 L1327.0,838.1 L1329.1,837.4 L1330.9,836.0 L1333.1,835.6 L1335.3,835.0 L1337.2,833.9 L1339.1,832.8 L1341.1,831.8 L1343.3,831.1 L1344.7,829.2 L1346.9,828.5 L1348.7,827.2 L1350.7,826.4 L1352.3,824.7 L1354.7,824.4 L1356.1,822.4 L1358.1,821.4 L1360.5,821.1 L1362.5,820.1 L1364.0,818.4 L1365.9,817.3 L1367.7,815.9 L1369.6,814.9 L1371.8,814.2 L1373.4,812.5 L1375.3,811.3 L1377.4,810.6 L1379.1,809.2 L1381.4,808.6 L1383.4,807.7 L1385.3,806.6 L1387.0,805.1 L1388.8,803.8 L1390.8,802.8 L1392.4,801.2 L1394.8,800.9 L1396.5,799.4 L1398.4,798.2 L1400.1,796.8 L1402.3,796.2 L1404.3,795.2 L1406.1,793.9 L1408.3,793.4 L1410.0,791.8 L1412.0,790.9 L1413.6,789.3 L1415.8,788.5 L1417.9,787.9 L1419.6,786.3 L1421.5,785.3 L1423.1,783.5 L1425.3,783.0 L1427.2,781.8 L1429.0,780.6 L1431.0,779.6 L1433.0,778.7 L1434.9,777.5 L1436.7,776.3 L1438.4,774.8 L1440.5,774.1 L1442.8,773.6 L1444.3,771.8 L1446.0,770.3 L1447.9,769.1 L1450.2,768.7 L1451.7,767.0 L1453.7,765.9 L1455.6,764.8 L1457.7,764.2 L1460.0,763.7 L1461.6,762.0 L1463.6,763.0 L1465.6,764.0 L1467.6,765.1 L1469.6,766.2 L1471.6,767.2 L1473.4,768.6 L1475.3,769.8 L1477.4,770.6 L1479.6,771.3 L1481.4,772.7 L1483.2,774.0 L1485.7,774.1 L1487.7,775.3 L1489.4,776.8 L1491.3,777.9 L1493.4,778.9 L1495.4,779.9 L1497.2,781.3 L1499.4,781.9 L1501.2,783.3 L1503.1,784.6 L1505.4,785.0 L1507.2,786.5 L1509.2,787.4 L1511.1,788.7 L1513.7,788.7 L1515.1,790.8 L1517.2,791.7 L1519.0,793.0 L1521.0,794.0 L1523.5,794.2 L1525.2,795.7 L1527.5,796.1 L1529.2,797.7 L1531.0,799.2 L1533.5,799.3 L1535.4,800.6 L1537.5,801.3 L1539.4,802.5 L1541.4,803.5 L1543.5,804.5 L1544.9,806.6 L1547.0,807.5 L1549.2,808.1 L1547.1,809.2 L1544.8,809.9 L1542.7,811.0 L1540.7,812.2 L1538.6,813.4 L1536.3,814.2 L1534.2,815.3 L1532.3,816.7 L1530.0,817.5 L1527.9,818.9 L1525.6,819.8 L1523.5,821.1 L1521.4,822.5 L1519.5,824.3 L1517.0,825.4 L1514.7,826.6 L1512.5,828.1 L1510.7,830.0 L1508.5,831.1 L1506.7,833.1 L1504.3,833.9 L1502.2,835.3 L1500.3,837.0 L1498.1,838.3 L1495.8,839.4 L1493.5,840.5 L1491.3,841.7 L1489.4,843.4 L1487.9,845.4 L1486.7,847.7 L1484.8,849.4 L1482.7,850.5 L1480.9,852.0 L1478.9,853.3 L1477.0,854.6 L1474.8,856.0 L1472.4,856.9 L1470.0,858.0 L1468.2,859.6 L1465.9,860.6 L1464.1,862.3 L1462.1,863.7 L1459.5,864.3 L1456.9,864.8 L1454.4,865.3 L1451.7,865.5 L1449.2,866.3 L1447.1,867.2 L1445.1,868.2 L1443.4,869.8 L1441.2,870.5 L1439.4,872.0 L1437.0,872.6 L1434.9,873.6 L1433.0,875.1 L1431.0,876.5 L1429.1,878.1 L1426.4,878.2 L1424.2,879.3 L1422.5,881.4 L1420.0,881.8 L1418.0,883.2 L1415.9,884.4 L1413.6,885.1 L1411.6,886.5 L1409.7,888.1 L1407.7,889.4 L1405.6,890.6 L1403.3,891.4 L1401.6,893.0 L1399.1,893.2 L1397.0,894.1 L1395.5,896.1 L1393.1,896.5 L1391.0,897.3 L1389.5,899.3 L1387.3,899.9 L1385.3,901.1 L1383.3,903.3 L1381.1,905.3 L1378.5,905.2 L1376.0,905.9 L1373.7,907.6 L1371.2,907.9 L1368.6,908.0 L1366.3,908.6 L1364.4,910.0 L1362.3,911.1 L1360.1,911.8 L1358.0,912.9 L1355.8,913.7 L1354.1,915.6 L1352.2,917.0 L1349.8,917.2 L1347.8,918.5 L1346.1,920.1 L1343.7,920.6 L1341.5,921.3 L1339.8,923.0 L1337.7,923.8 L1336.0,925.4 L1334.0,926.5 L1331.6,927.1 L1329.7,928.3 L1328.0,926.8 L1326.1,925.6 L1323.5,925.8 L1322.1,923.7 L1319.9,923.2 L1317.8,922.4 L1315.9,921.3 L1314.0,920.1 L1311.9,919.3 L1309.8,918.6 L1308.3,916.7 L1306.3,915.9 L1304.2,915.0 L1302.4,913.8 L1300.6,912.5 L1298.1,912.4 L1296.5,910.6 L1294.6,909.6 L1292.3,909.2 L1290.5,907.9 L1288.4,907.0 L1286.3,906.3 L1284.5,905.0 L1282.3,904.4 L1280.9,902.4 L1278.4,902.3 L1276.8,900.7 L1274.8,899.8 L1273.1,898.2 L1271.0,897.5 L1268.7,897.0 L1266.8,895.9 L1264.6,895.3 L1262.6,894.3 L1260.9,893.0 L1259.3,891.2 L1256.8,891.3 L1254.9,890.1 L1253.2,888.5 L1251.1,887.8 L1249.0,887.0 L1247.5,885.1 L1245.0,885.2 Z" fill="url(#wpat)"/>
<clipPath id="wc_p10"><path d="M1243.3,883.6 L1245.3,882.6 L1247.1,881.3 L1249.2,880.4 L1250.8,878.9 L1253.2,878.5 L1255.1,877.5 L1257.0,876.2 L1258.6,874.5 L1260.7,873.8 L1262.5,872.5 L1264.4,871.3 L1266.8,871.1 L1268.8,870.0 L1270.1,867.8 L1272.6,867.7 L1274.3,866.3 L1276.1,864.9 L1278.0,863.7 L1280.2,863.1 L1282.0,861.7 L1284.1,860.9 L1286.0,859.8 L1287.6,858.1 L1289.9,857.8 L1292.0,856.9 L1293.9,855.8 L1295.6,854.3 L1297.2,852.5 L1299.1,851.4 L1301.1,850.4 L1303.3,849.8 L1305.6,849.4 L1307.2,847.7 L1309.2,846.8 L1311.5,846.5 L1313.1,844.8 L1315.3,844.2 L1317.2,843.1 L1319.0,841.7 L1321.3,841.4 L1323.4,840.8 L1325.0,838.9 L1327.0,838.1 L1329.1,837.4 L1330.9,836.0 L1333.1,835.6 L1335.3,835.0 L1337.2,833.9 L1339.1,832.8 L1341.1,831.8 L1343.3,831.1 L1344.7,829.2 L1346.9,828.5 L1348.7,827.2 L1350.7,826.4 L1352.3,824.7 L1354.7,824.4 L1356.1,822.4 L1358.1,821.4 L1360.5,821.1 L1362.5,820.1 L1364.0,818.4 L1365.9,817.3 L1367.7,815.9 L1369.6,814.9 L1371.8,814.2 L1373.4,812.5 L1375.3,811.3 L1377.4,810.6 L1379.1,809.2 L1381.4,808.6 L1383.4,807.7 L1385.3,806.6 L1387.0,805.1 L1388.8,803.8 L1390.8,802.8 L1392.4,801.2 L1394.8,800.9 L1396.5,799.4 L1398.4,798.2 L1400.1,796.8 L1402.3,796.2 L1404.3,795.2 L1406.1,793.9 L1408.3,793.4 L1410.0,791.8 L1412.0,790.9 L1413.6,789.3 L1415.8,788.5 L1417.9,787.9 L1419.6,786.3 L1421.5,785.3 L1423.1,783.5 L1425.3,783.0 L1427.2,781.8 L1429.0,780.6 L1431.0,779.6 L1433.0,778.7 L1434.9,777.5 L1436.7,776.3 L1438.4,774.8 L1440.5,774.1 L1442.8,773.6 L1444.3,771.8 L1446.0,770.3 L1447.9,769.1 L1450.2,768.7 L1451.7,767.0 L1453.7,765.9 L1455.6,764.8 L1457.7,764.2 L1460.0,763.7 L1461.6,762.0 L1463.6,763.0 L1465.6,764.0 L1467.6,765.1 L1469.6,766.2 L1471.6,767.2 L1473.4,768.6 L1475.3,769.8 L1477.4,770.6 L1479.6,771.3 L1481.4,772.7 L1483.2,774.0 L1485.7,774.1 L1487.7,775.3 L1489.4,776.8 L1491.3,777.9 L1493.4,778.9 L1495.4,779.9 L1497.2,781.3 L1499.4,781.9 L1501.2,783.3 L1503.1,784.6 L1505.4,785.0 L1507.2,786.5 L1509.2,787.4 L1511.1,788.7 L1513.7,788.7 L1515.1,790.8 L1517.2,791.7 L1519.0,793.0 L1521.0,794.0 L1523.5,794.2 L1525.2,795.7 L1527.5,796.1 L1529.2,797.7 L1531.0,799.2 L1533.5,799.3 L1535.4,800.6 L1537.5,801.3 L1539.4,802.5 L1541.4,803.5 L1543.5,804.5 L1544.9,806.6 L1547.0,807.5 L1549.2,808.1 L1547.1,809.2 L1544.8,809.9 L1542.7,811.0 L1540.7,812.2 L1538.6,813.4 L1536.3,814.2 L1534.2,815.3 L1532.3,816.7 L1530.0,817.5 L1527.9,818.9 L1525.6,819.8 L1523.5,821.1 L1521.4,822.5 L1519.5,824.3 L1517.0,825.4 L1514.7,826.6 L1512.5,828.1 L1510.7,830.0 L1508.5,831.1 L1506.7,833.1 L1504.3,833.9 L1502.2,835.3 L1500.3,837.0 L1498.1,838.3 L1495.8,839.4 L1493.5,840.5 L1491.3,841.7 L1489.4,843.4 L1487.9,845.4 L1486.7,847.7 L1484.8,849.4 L1482.7,850.5 L1480.9,852.0 L1478.9,853.3 L1477.0,854.6 L1474.8,856.0 L1472.4,856.9 L1470.0,858.0 L1468.2,859.6 L1465.9,860.6 L1464.1,862.3 L1462.1,863.7 L1459.5,864.3 L1456.9,864.8 L1454.4,865.3 L1451.7,865.5 L1449.2,866.3 L1447.1,867.2 L1445.1,868.2 L1443.4,869.8 L1441.2,870.5 L1439.4,872.0 L1437.0,872.6 L1434.9,873.6 L1433.0,875.1 L1431.0,876.5 L1429.1,878.1 L1426.4,878.2 L1424.2,879.3 L1422.5,881.4 L1420.0,881.8 L1418.0,883.2 L1415.9,884.4 L1413.6,885.1 L1411.6,886.5 L1409.7,888.1 L1407.7,889.4 L1405.6,890.6 L1403.3,891.4 L1401.6,893.0 L1399.1,893.2 L1397.0,894.1 L1395.5,896.1 L1393.1,896.5 L1391.0,897.3 L1389.5,899.3 L1387.3,899.9 L1385.3,901.1 L1383.3,903.3 L1381.1,905.3 L1378.5,905.2 L1376.0,905.9 L1373.7,907.6 L1371.2,907.9 L1368.6,908.0 L1366.3,908.6 L1364.4,910.0 L1362.3,911.1 L1360.1,911.8 L1358.0,912.9 L1355.8,913.7 L1354.1,915.6 L1352.2,917.0 L1349.8,917.2 L1347.8,918.5 L1346.1,920.1 L1343.7,920.6 L1341.5,921.3 L1339.8,923.0 L1337.7,923.8 L1336.0,925.4 L1334.0,926.5 L1331.6,927.1 L1329.7,928.3 L1328.0,926.8 L1326.1,925.6 L1323.5,925.8 L1322.1,923.7 L1319.9,923.2 L1317.8,922.4 L1315.9,921.3 L1314.0,920.1 L1311.9,919.3 L1309.8,918.6 L1308.3,916.7 L1306.3,915.9 L1304.2,915.0 L1302.4,913.8 L1300.6,912.5 L1298.1,912.4 L1296.5,910.6 L1294.6,909.6 L1292.3,909.2 L1290.5,907.9 L1288.4,907.0 L1286.3,906.3 L1284.5,905.0 L1282.3,904.4 L1280.9,902.4 L1278.4,902.3 L1276.8,900.7 L1274.8,899.8 L1273.1,898.2 L1271.0,897.5 L1268.7,897.0 L1266.8,895.9 L1264.6,895.3 L1262.6,894.3 L1260.9,893.0 L1259.3,891.2 L1256.8,891.3 L1254.9,890.1 L1253.2,888.5 L1251.1,887.8 L1249.0,887.0 L1247.5,885.1 L1245.0,885.2 Z"/></clipPath>
<g clip-path="url(#wc_p10)"><g transform="translate(-210.7,290)"><path d="M1692,484 L1706,481 L1705,497 L1701,510 L1707,526 L1697,531 L1684,529 L1676,524 L1684,512 L1689,498 Z" fill="#1d7f80" opacity="0.32"/><path d="M1691.5,481 L1707,479 L1705.5,490 L1702.5,500 L1698,507 L1692,507 L1688.5,499 L1690,490 Z" fill="#2fa5a5"/><path d="M1691.5,482 L1696.5,481 L1696,494 L1694.5,505 L1692,507 L1688.5,499 L1690,490 Z" fill="#1d7a7a" opacity="0.75"/><path d="M1703,483 L1706,482 L1703.5,495 L1700.5,501 L1700,495 Z" fill="#7fd8d8" opacity="0.6"/><ellipse cx="1697" cy="507" rx="6" ry="3" fill="#1d7a7a" opacity="0.45"/><ellipse cx="1688" cy="502" rx="2.5" ry="3.5" fill="#1b6e6e" opacity="0.55"/><ellipse cx="1690.5" cy="526" rx="3.5" ry="2.4" fill="#1b6e6e" opacity="0.55"/><ellipse cx="1700" cy="526" rx="3" ry="2.2" fill="#1b6e6e" opacity="0.5"/><ellipse cx="1677.3" cy="525" rx="2.2" ry="2" fill="#1b6e6e" opacity="0.5"/><ellipse cx="1673.7" cy="539.5" rx="2" ry="3" fill="#1b6e6e" opacity="0.5"/><ellipse cx="1694" cy="515" rx="2" ry="4" fill="#1b6e6e" opacity="0.35"/><path d="M1664,509 L1670,505.5" stroke="#9fe6e6" stroke-width="1.2" opacity="0.6"/></g></g>
<g filter="url(#blob)"><circle cx="1254.4" cy="900" r="1" fill="#34abab" stroke="#25898a" stroke-width="0.6"/><circle cx="1271.1" cy="911.1" r="1.8" fill="#34abab" stroke="#25898a" stroke-width="0.6"/><ellipse cx="1283.3" cy="910" rx="2.2" ry="1.6" transform="rotate(40 1283.3 910)" fill="#34abab" stroke="#25898a" stroke-width="0.6"/><circle cx="1290" cy="924.4" r="1.8" fill="#34abab" stroke="#25898a" stroke-width="0.6"/><circle cx="1285.6" cy="928.9" r="1.8" fill="#34abab" stroke="#25898a" stroke-width="0.6"/><circle cx="1296.7" cy="943.3" r="1.8" fill="#34abab" stroke="#25898a" stroke-width="0.6"/><ellipse cx="1312.2" cy="937.8" rx="2.2" ry="1.6" transform="rotate(0 1312.2 937.8)" fill="#34abab" stroke="#25898a" stroke-width="0.6"/><ellipse cx="1323.3" cy="931.1" rx="1.8" ry="2.4" transform="rotate(0 1323.3 931.1)" fill="#34abab" stroke="#25898a" stroke-width="0.6"/><circle cx="1321.1" cy="945.6" r="1.2" fill="#34abab" stroke="#25898a" stroke-width="0.6"/><circle cx="1325.6" cy="962.2" r="1.5" fill="#34abab" stroke="#25898a" stroke-width="0.6"/><circle cx="1290" cy="938.9" r="1" fill="#34abab" stroke="#25898a" stroke-width="0.6"/><path d="M1463.0,861.0 L1464.6,861.2 L1465.9,860.2 L1467.5,860.5 L1469.0,860.0 L1469.3,861.5 L1469.3,863.1 L1470.1,864.5 L1470.5,866.0 L1470.7,864.4 L1470.7,862.7 L1471.3,861.2 L1472.2,859.7 L1472.0,858.0 L1473.9,858.0 L1475.4,856.8 L1477.3,856.8 L1479.0,856.0 L1479.4,857.7 L1479.1,859.3 L1479.3,861.0 L1479.6,862.7 L1479.5,864.3 L1479.5,866.0 L1478.9,867.6 L1478.6,869.2 L1478.5,870.9 L1478.0,872.5 L1477.1,874.1 L1476.0,875.5 L1474.5,876.5 L1473.7,878.0 L1473.6,879.7 L1473.2,881.4 L1472.8,883.0 L1471.5,883.8 L1470.3,884.9 L1468.8,885.5 L1467.1,885.6 L1466.0,886.8 L1464.3,886.9 L1462.7,886.8 L1461.0,886.4 L1459.3,886.7 L1457.7,887.1 L1456.0,886.8 L1454.2,886.7 L1452.7,886.1 L1451.0,885.7 L1449.5,884.8 L1448.9,882.7 L1449.0,880.5 L1450.4,879.7 L1452.0,879.5 L1453.5,879.2 L1455.0,878.8 L1456.5,878.5 L1458.0,878.4 L1459.5,878.3 L1461.0,877.9 L1462.5,878.0 L1463.7,876.5 L1463.9,874.5 L1465.0,873.0 L1464.8,871.2 L1464.1,869.5 L1463.9,867.7 L1463.5,866.0 L1462.8,864.4 L1463.7,862.6 Z" fill="#34abab" stroke="#25898a" stroke-width="0.6"/><circle cx="1479.7" cy="881.7" r="3" fill="#34abab" stroke="#25898a" stroke-width="0.6"/><circle cx="1483.9" cy="876.1" r="3" fill="#34abab" stroke="#25898a" stroke-width="0.6"/><circle cx="1489.4" cy="869.2" r="2.5" fill="#34abab" stroke="#25898a" stroke-width="0.6"/><circle cx="1497" cy="844.2" r="1.5" fill="#34abab" stroke="#25898a" stroke-width="0.6"/><circle cx="1410.3" cy="894.2" r="3" fill="#34abab" stroke="#25898a" stroke-width="0.6"/><circle cx="1417.2" cy="889.3" r="1.8" fill="#34abab" stroke="#25898a" stroke-width="0.6"/><circle cx="1424.2" cy="887.2" r="2" fill="#34abab" stroke="#25898a" stroke-width="0.6"/><ellipse cx="1396.4" cy="908" rx="4.5" ry="2.5" transform="rotate(-20 1396.4 908)" fill="#34abab" stroke="#25898a" stroke-width="0.6"/><circle cx="1382.5" cy="903.9" r="2.5" fill="#34abab" stroke="#25898a" stroke-width="0.6"/><circle cx="1324.2" cy="930.3" r="2.5" fill="#34abab" stroke="#25898a" stroke-width="0.6"/><circle cx="1334.6" cy="929.6" r="1" fill="#34abab" stroke="#25898a" stroke-width="0.6"/></g>
<circle cx="1425.6" cy="791.1" r="12.2" fill="url(#ball)"/>
<g transform="translate(210.2,591.5)"><path d="M1293.9,144.2 L1313.3,132.2 L1323.9,158.3 L1301.1,171.7 Z" fill="#efeeed"/><path d="M1293.9,144.2 L1313.3,132.2 M1301.1,171.7 L1323.9,158.3" stroke="#9a9a9a" stroke-width="0.6" fill="none"/><ellipse cx="1319.4" cy="145.3" rx="9.2" ry="13.4" transform="rotate(-15 1319.4 145.3)" fill="none" stroke="#8a8a8a" stroke-width="0.7"/></g>
<path d="M1496.7,737.8 L1498.5,736.9 L1500.5,736.6 L1502.3,735.5 L1504.5,735.7 L1506.2,734.5 L1508.0,733.7 L1510.0,733.3 L1512.0,734.5 L1514.4,734.4 L1514.2,736.7 L1514.4,738.9 L1515.0,741.1 L1516.0,743.2 L1516.0,745.5 L1516.5,747.7 L1515.9,750.0 L1516.7,752.2 L1516.6,754.7 L1514.6,756.5 L1514.6,759.1 L1513.3,761.1 L1511.7,762.6 L1509.7,763.5 L1507.9,764.7 L1506.3,766.2 L1504.5,767.4 L1502.8,768.6 L1501.1,770.0 L1499.4,771.1 L1498.3,773.0 L1496.5,774.1 L1495.2,775.7 L1493.1,776.3 L1491.8,777.9 L1490.0,778.9 L1487.8,779.3 L1485.5,779.3 L1483.3,778.9 L1483.7,776.6 L1482.2,774.5 L1483.1,772.1 L1482.2,770.0 L1483.9,768.4 L1484.0,766.0 L1486.0,764.6 L1486.2,762.2 L1488.0,760.6 L1488.4,758.3 L1490.0,756.7 L1490.2,754.4 L1490.9,752.3 L1491.1,750.0 L1492.3,747.9 L1492.2,745.6 L1493.5,743.8 L1493.8,741.3 L1495.7,739.8 Z" fill="#2ea6a6" stroke="#237f7f" stroke-width="0.6" filter="url(#blob)"/>
<g transform="translate(210.2,591.5)"><path d="M1030.0,227.5 L1251.2,108.8 L1339.5,153.9 L1118.8,272.1 Z M1118.8,272.1 L1119.4,378.8 L1340.3,259.6 L1339.5,153.9 M1030.0,227.5 L1030.6,333.5 L1119.4,378.8" fill="none" stroke="#000" stroke-opacity="0.31" stroke-width="0.95" stroke-linejoin="round"/></g>
<g transform="translate(210.2,591.5)"><polygon points="1118.8,272.1 1339.5,153.9 1340.3,259.6 1119.4,378.8" fill="#e6e5e3" opacity="0.06"/></g>
<g transform="translate(210.2,591.5)"><g><text x="988.9" y="112.7" style="font-family:'Liberation Sans',sans-serif;font-size:7.9px" fill="#303030" stroke="#303030" stroke-width="0.28" stroke-opacity="0.6">Time Value = 2.74 [ s ]</text><text x="1370.4" y="111.10000000000001" style="font-family:'Liberation Sans',sans-serif;font-size:12.3px;font-weight:bold" fill="#111" stroke="#111" stroke-width="0.45" textLength="36.4" lengthAdjust="spacingAndGlyphs">&#923;nsys</text><text x="1406.8000000000002" y="118.9" text-anchor="end" style="font-family:'Liberation Sans',sans-serif;font-size:5.6px;font-weight:bold" fill="#222" stroke="#222" stroke-width="0.2">2024 R2</text></g><line x1="1376.5" y1="362" x2="1376.5" y2="350" stroke="#5a8a5a" stroke-width="1.8"/><path d="M1376.5,352 L1374.4,349 L1376.5,345.2 L1378.6,349 Z" fill="#1e8a1e"/><line x1="1376.5" y1="362" x2="1387.5" y2="356.4" stroke="#b04040" stroke-width="1.6"/><circle cx="1388.0" cy="356" r="1.8" fill="#a01818"/><circle cx="1391.0" cy="353.3" r="1.8" fill="#3cc8c8"/><line x1="1376.5" y1="362" x2="1386.5" y2="367.5" stroke="#404080" stroke-width="1.8"/><path d="M1385.0,365.4 L1389.5,369.6 L1385.5,370 Z" fill="#1010c0"/><text x="1394.0" y="355" text-anchor="middle" style="font-family:'Liberation Sans',sans-serif;font-size:4.5px" fill="#c06060">x</text><text x="1376.7" y="342.7" text-anchor="middle" style="font-family:'Liberation Sans',sans-serif;font-size:5px" fill="#5f955f">y</text><text x="1394.5" y="372.8" text-anchor="middle" style="font-family:'Liberation Sans',sans-serif;font-size:4.8px" fill="#4040a0">z</text></g>
</svg></body></html>
